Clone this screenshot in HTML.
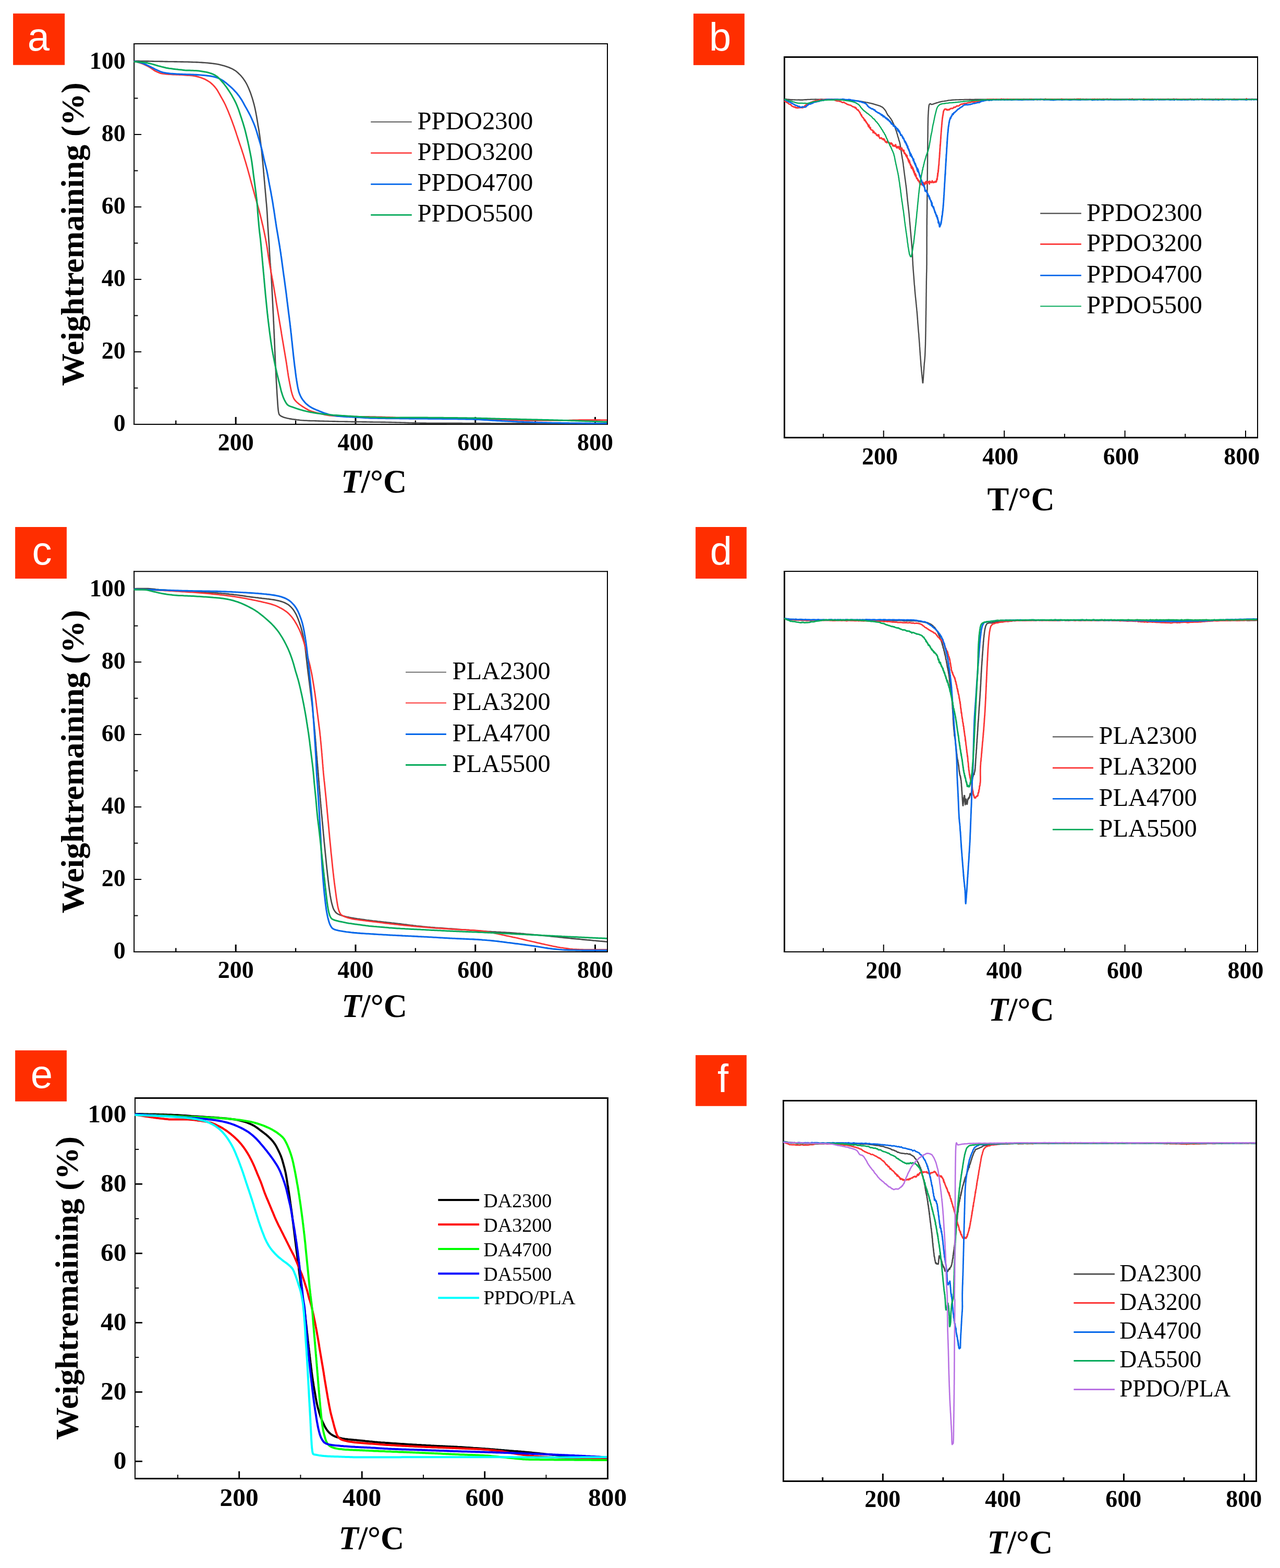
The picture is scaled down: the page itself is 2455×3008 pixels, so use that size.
<!DOCTYPE html>
<html lang="en"><head><meta charset="utf-8"><title>TGA and DTG curves</title>
<style>
html,body{margin:0;padding:0;background:#fff;}
body{width:2455px;height:3008px;overflow:hidden;}
svg{display:block;}
text{white-space:pre;}
</style></head><body>
<svg width="2455" height="3008" viewBox="0 0 2455 3008">
<rect width="2455" height="3008" fill="#fff"/>
<g id="panel-a">
<line x1="337.32" y1="813.90" x2="337.32" y2="806.60" stroke="#000" stroke-width="2.4"/>
<line x1="452.20" y1="813.90" x2="452.20" y2="799.90" stroke="#000" stroke-width="3"/>
<line x1="567.08" y1="813.90" x2="567.08" y2="806.60" stroke="#000" stroke-width="2.4"/>
<line x1="681.97" y1="813.90" x2="681.97" y2="799.90" stroke="#000" stroke-width="3"/>
<line x1="796.85" y1="813.90" x2="796.85" y2="806.60" stroke="#000" stroke-width="2.4"/>
<line x1="911.73" y1="813.90" x2="911.73" y2="799.90" stroke="#000" stroke-width="3"/>
<line x1="1026.62" y1="813.90" x2="1026.62" y2="806.60" stroke="#000" stroke-width="2.4"/>
<line x1="1141.50" y1="813.90" x2="1141.50" y2="799.90" stroke="#000" stroke-width="3"/>
<line x1="257.15" y1="744.41" x2="264.45" y2="744.41" stroke="#000" stroke-width="2"/>
<line x1="257.15" y1="674.92" x2="271.15" y2="674.92" stroke="#000" stroke-width="2"/>
<line x1="257.15" y1="605.43" x2="264.45" y2="605.43" stroke="#000" stroke-width="2"/>
<line x1="257.15" y1="535.94" x2="271.15" y2="535.94" stroke="#000" stroke-width="2"/>
<line x1="257.15" y1="466.45" x2="264.45" y2="466.45" stroke="#000" stroke-width="2"/>
<line x1="257.15" y1="396.96" x2="271.15" y2="396.96" stroke="#000" stroke-width="2"/>
<line x1="257.15" y1="327.47" x2="264.45" y2="327.47" stroke="#000" stroke-width="2"/>
<line x1="257.15" y1="257.98" x2="271.15" y2="257.98" stroke="#000" stroke-width="2"/>
<line x1="257.15" y1="188.49" x2="264.45" y2="188.49" stroke="#000" stroke-width="2"/>
<line x1="257.15" y1="119.00" x2="271.15" y2="119.00" stroke="#000" stroke-width="2"/>
<line x1="257.15" y1="83.10" x2="257.15" y2="814.90" stroke="#000" stroke-width="2"/>
<line x1="1165.00" y1="83.10" x2="1165.00" y2="814.90" stroke="#000" stroke-width="2"/>
<line x1="256.15" y1="84.10" x2="1166.00" y2="84.10" stroke="#000" stroke-width="2"/>
<line x1="256.15" y1="813.90" x2="1166.00" y2="813.90" stroke="#000" stroke-width="2"/>
<clipPath id="clip-a"><rect x="256.1" y="84.1" width="907.9" height="730.8"/></clipPath>
<g clip-path="url(#clip-a)">
<path d="M256.9 116.9l3 0.1l3 0.1l3 0l3 0.1l3.1 0l3 0.1l3 0l3 0.1l3 0l3 0.1l3 0l3 0.1l3 0.1l3 0l3 0.1l3 0l3.1 0.1l3 0l3 0.1l3 0.1l3 0l3 0.1l3 0l3 0.1l3 0l3 0.1l3 0l3.1 0.1l3 0l3 0.1l3 0l3 0.1l3 0.1l3 0l3 0.1l3 0.1l3 0.1l3 0.1l3 0.1l3 0.1l3.1 0.1l3 0.2l3 0.2l3 0.2l3 0.2l3 0.2l3 0.3l3 0.3l3 0.3l3 0.3l2.9 0.4l3 0.4l3 0.5l2.9 0.6l3 0.7l2.9 0.7l2.9 0.8l2.9 0.8l2.9 0.8l2.9 1l2.8 1.1l2.8 1.2l2.8 1.2l2.6 1.4l2.5 1.5l2.5 1.7l2.4 1.9l2.2 2.1l2.2 2.1l2.1 2.1l2 2.3l1.9 2.3l1.8 2.5l1.7 2.4l1.7 2.6l1.5 2.5l1.4 2.7l1.3 2.7l1.3 2.8l1.2 2.7l1.1 2.8l1.1 2.8l1.1 2.8l1 2.9l0.9 2.8l1 2.9l0.9 2.9l0.8 2.8l0.8 2.9l0.8 2.9l0.8 3l0.7 2.9l0.7 2.9l0.6 3l0.6 2.9l0.6 3l0.5 2.9l0.6 3l0.5 2.9l0.5 3l0.5 3l0.5 2.9l0.5 3l0.4 3l0.5 3l0.6 2.9l0.5 3l0.5 3l0.4 2.9l0.5 3l0.4 3l0.4 3l0.4 2.9l0.4 3l0.4 3l0.4 3l0.3 3l0.4 3l0.3 3l0.4 2.9l0.3 3l0.3 3l0.3 3l0.3 3l0.3 3l0.3 3l0.3 3l0.3 3l0.3 3l0.3 3l0.2 3l0.3 3l0.3 3l0.2 3l0.3 3l0.2 3l0.3 3l0.3 3l0.2 3l0.3 3l0.3 3l0.2 3l0.3 3l0.2 3l0.3 2.9l0.3 3l0.2 3l0.3 3l0.3 3l0.2 3l0.3 3l0.2 3l0.3 3l0.3 3l0.3 3l0.2 3l0.3 3l0.2 3l0.2 3l0.2 3l0.2 3l0.2 3l0.1 3l0.2 3l0.1 3l0.2 3l0.2 3.1l0.1 3l0.2 3l0.2 3l0.2 3l0.2 3l0.2 3l0.2 3l0.2 3l0.2 3l0.2 3l0.2 3l0.2 3l0.2 3l0.2 3l0.2 3l0.1 3l0.2 3l0.2 3l0.1 3l0.2 3l0.2 3l0.2 3l0.2 3l0.2 3l0.2 3l0.3 3l0.2 3l0.3 3l0.2 3l0.3 3l0.2 3l0.3 3l0.2 3l0.2 3l0.1 3l0.2 3l0.2 3l0.1 3l0.2 3l0.2 3l0.1 3.1l0.2 3l0.1 3l0.2 3l0.1 3l0.2 3l0.1 3l0.2 3l0.1 3l0.2 3l0.1 3l0.2 3l0.1 3l0.2 3l0.1 3l0.2 3l0.1 3l0.2 3l0.1 3l0.2 3l0.1 3.1l0.1 3l0.2 3l0.1 3l0.2 3l0.1 3l0.1 3l0.2 3l0.1 3l0.1 3l0.2 3l0.1 3l0.1 3l0.2 3l0.1 3l0.1 3l0.1 3.1l0.2 3l0.1 3l0.1 3l0.1 3l0.2 3l0.1 3l0.1 3l0.2 3l0.1 3l0.1 3l0.1 3l0.2 3l0.1 3l0.2 3l0.1 3l0.2 3l0.1 3.1l0.2 3l0.1 3l0.2 3l0.1 3l0.2 3l0.2 3l0.1 3l0.2 3l0.2 3l0.2 3l0.1 3l0.2 3l0.2 3l0.1 3l0.2 3l0.2 3l0.2 3l0.2 3l0.2 3l0.2 3l0.2 3l0.2 3.1l0.2 3l0.3 3l0.3 2.9l0.4 3.1l0.6 3.1l0.9 2.8l1.8 2l2.8 1.7l2.7 1.2l2.8 1l3 0.8l2.9 0.7l3 0.6l2.9 0.5l3 0.5l3 0.4l3 0.4l3 0.4l2.9 0.3l3 0.4l3 0.3l3 0.2l3 0.2l3 0.1l3 0.2l3 0.1l3.1 0.1l3 0.1l3 0l3 0.1l3 0.1l3 0.1l3 0.1l3 0.1l3 0.1l3 0.1l3 0l3 0.1l3.1 0.1l3 0.1l3 0.1l3 0l3 0.1l3 0.1l3 0.1l3 0l3 0.1l3 0l3 0.1l3 0l3.1 0.1l3 0l3 0.1l3 0l3 0.1l3 0l3 0l3 0.1l3 0l3 0.1l3 0l3 0l3.1 0.1l3 0l3 0.1l3 0l3 0.1l3 0l3 0l3 0.1l3 0l3 0.1l3 0l3.1 0l3 0.1l3 0l3 0.1l3 0l3 0.1l3 0.1l3 0.1l3 0.1l3 0l3 0.1l3 0.1l3 0.1l3.1 0.1l3 0.1l3 0.1l3 0.1l3 0.1l3 0.1l3 0l3 0.1l3 0l3 0l3 0.1l3 0l3.1 0l3 0l3 0.1l3 0l3 0l3 0l3 0l3 0l3 0.1l3 0l3 0l3 0l3.1 0l3 0l3 0l3 0.1l3 0l3 0l3 0l3 0l3 0l3 0l3 0l3.1 0l3 0l3 0.1l3 0l3 0l3 0l3 0l3 0l3 0l3 0l3 0l3.1 0.1l3 0l3 0l3 0l3 0l3 0l3 0l3 0l3 0l3 0.1l3 0l3.1 0l3 0l3 0l3 0l3 0l3 0l3 0l3 0l3 0l3 0l3 0.1l3.1 0l3 0l3 0l3 0l3 0l3 0l3 0l3 0l3 0l3 0l3 0l3.1 0l3 0l3 0l3 0l3 0l3 0.1l3 0l3 0l3 0l3 0l3 0l3.1 0l3 0l3 0l3 0l3 0l3 0l3 0l3 0l3 0l3 0l3 0l3 0l3.1 0l3 0l3 0l3 0l3 0.1l3 0l3 0l3 0l3 0l3 0l3 0l3.1 0l3 0l3 0l3 0l3 0l3 0l3 0l3 0l3 0l3 0l3 0l3.1 0l3 0l3 0l3 0l3 0l3 0" fill="none" stroke="#484848" stroke-width="2.6" stroke-linejoin="round" />
<path d="M256.9 117.5l3 0.7l2.9 0.8l2.9 0.8l2.8 0.9l2.9 1l2.8 1.1l2.8 1.1l2.7 1.3l2.7 1.3l2.7 1.4l2.6 1.6l2.5 1.7l2.5 1.7l2.5 1.8l2.5 1.5l2.7 1.3l2.8 1.3l2.8 1.1l2.9 0.9l2.9 0.5l3 0.4l3 0.3l3 0.3l3 0.2l3 0.2l3 0.2l3 0.1l3 0.2l3.1 0.1l3 0.1l3 0.2l3 0.1l3 0.2l3 0.2l3 0.2l3 0.2l3.1 0.2l3 0.2l2.9 0.3l3 0.4l3 0.5l2.9 0.7l3 0.8l2.9 0.9l2.8 0.9l2.8 1.1l2.8 1.1l2.7 1.4l2.7 1.5l2.6 1.6l2.4 1.6l2.4 1.9l2.2 2l2.2 2.1l2.1 2.3l1.9 2.3l1.8 2.3l1.7 2.5l1.5 2.6l1.5 2.7l1.5 2.6l1.5 2.7l1.4 2.6l1.5 2.6l1.5 2.6l1.5 2.7l1.4 2.6l1.3 2.7l1.3 2.7l1.2 2.8l1.2 2.7l1.2 2.8l1.2 2.8l1.1 2.8l1.1 2.8l1.2 2.8l1.1 2.8l1 2.8l1.1 2.8l1.1 2.9l1 2.8l1 2.8l1.1 2.9l1 2.8l0.9 2.8l1 2.9l1 2.8l0.9 2.9l0.9 2.9l1 2.8l0.9 2.9l1 2.9l0.9 2.8l1 2.9l0.9 2.8l1 2.9l1 2.8l0.9 2.9l1 2.8l0.9 2.9l0.9 2.9l1 2.8l0.9 2.9l0.8 2.9l0.9 2.9l0.9 2.9l0.9 2.8l0.8 2.9l0.9 2.9l0.8 2.9l0.9 2.9l0.8 2.9l0.8 2.9l0.8 2.9l0.8 2.9l0.8 2.9l0.8 2.9l0.8 2.9l0.7 3l0.8 2.9l0.8 2.9l0.8 2.9l0.8 2.9l0.8 2.9l0.8 2.9l0.8 2.9l0.8 2.9l0.8 2.9l0.8 2.9l0.8 2.9l0.8 2.9l0.9 2.9l0.8 2.9l0.8 2.9l0.9 2.9l0.8 2.9l0.8 2.9l0.8 2.9l0.8 2.9l0.8 2.9l0.7 2.9l0.8 2.9l0.7 3l0.7 2.9l0.7 2.9l0.7 2.9l0.7 3l0.7 2.9l0.7 2.9l0.7 3l0.6 2.9l0.7 3l0.6 2.9l0.6 3l0.6 2.9l0.6 3l0.6 2.9l0.6 3l0.5 2.9l0.6 3l0.5 3l0.5 2.9l0.5 3l0.5 3l0.4 3l0.4 2.9l0.5 3l0.4 3l0.4 3l0.5 3l0.5 2.9l0.5 3l0.4 3l0.5 3l0.5 2.9l0.5 3l0.6 3l0.5 2.9l0.5 3l0.5 3l0.6 2.9l0.6 3l0.5 2.9l0.6 3l0.6 3l0.5 2.9l0.5 3l0.5 3l0.5 2.9l0.5 3l0.5 3l0.5 2.9l0.5 3l0.5 3l0.5 3l0.5 2.9l0.5 3l0.4 3l0.5 3l0.5 2.9l0.5 3l0.5 3l0.5 2.9l0.5 3l0.5 3l0.5 3l0.5 2.9l0.5 3l0.5 3l0.5 2.9l0.5 3l0.5 3l0.5 3l0.5 2.9l0.5 3l0.5 3l0.5 2.9l0.5 3l0.4 3l0.5 3l0.5 2.9l0.5 3l0.5 3l0.5 2.9l0.5 3l0.5 3l0.5 3l0.5 2.9l0.5 3l0.5 3l0.5 2.9l0.5 3l0.5 3l0.5 2.9l0.5 3l0.5 3l0.5 3l0.5 2.9l0.4 3l0.5 3l0.4 3l0.4 3l0.5 2.9l0.4 3l0.5 3l0.4 3l0.5 2.9l0.6 3l0.5 3l0.6 2.9l0.5 3l0.6 2.9l0.6 3l0.6 3l0.6 2.9l0.6 3l0.8 2.9l0.8 2.9l0.9 2.9l1.1 2.9l1.2 2.7l1.5 2.5l1.9 2.3l2.2 2.2l2.2 2l2.3 1.9l2.5 1.8l2.5 1.8l2.5 1.6l2.5 1.6l2.6 1.6l2.7 1.5l2.6 1.4l2.8 1.3l2.7 1l2.9 1l2.9 0.9l2.9 0.8l2.9 0.7l3 0.7l2.9 0.7l2.9 0.7l3 0.7l2.9 0.7l3 0.6l2.9 0.5l3 0.4l3 0.3l3 0.3l3 0.2l3 0.3l3 0.2l3 0.1l3 0.1l3.1 0.1l3 0.1l3 0.1l3 0l3 0.1l3 0l3 0.1l3 0l3.1 0.1l3 0l3 0.1l3 0l3 0.1l3 0l3 0l3 0.1l3.1 0l3 0l3 0.1l3 0l3 0.1l3 0l3 0.1l3 0l3 0.1l3.1 0.1l3 0.1l3 0.1l3 0.1l3 0.1l3 0.1l3 0.1l3 0.1l3 0.1l3.1 0.2l3 0.1l3 0.1l3 0.1l3 0.1l3 0.2l3 0.1l3 0.1l3 0l3 0.1l3.1 0.1l3 0l3 0l3 0.1l3 0l3 0.1l3 0l3 0l3.1 0.1l3 0l3 0l3 0l3 0.1l3 0l3 0l3 0l3.1 0.1l3 0l3 0l3 0l3 0l3 0.1l3 0l3 0l3.1 0l3 0l3 0.1l3 0l3 0l3 0l3 0.1l3 0l3.1 0l3 0.1l3 0l3 0.1l3 0l3 0l3 0.1l3 0l3.1 0.1l3 0.1l3 0.1l3 0l3 0.1l3 0.1l3 0.1l3 0.1l3 0.1l3.1 0.1l3 0.1l3 0.1l3 0.1l3 0.1l3 0.1l3 0.1l3 0.1l3 0.1l3 0.1l3.1 0.1l3 0.1l3 0.2l3 0.1l3 0.1l3 0.1l3 0.1l3 0.2l3 0.1l3.1 0.1l3 0.1l3 0.1l3 0l3 0.1l3 0.1l3 0l3 0l3 0l3.1 0l3 0l3 0l3 0l3 0l3 0l3 0l3 0l3.1 0l3 0l3 0l3 0l3 0l3 0l3 0l3 0l3.1 0l3 0l3 0l3 0l3 0l3-0.1l3-0.1l3 0l3.1-0.1l3-0.1l3-0.1l3-0.1l3-0.1l3 0l3-0.1l3 0l3.1 0l3 0l3 0l3 0l3 0l3 0l3 0l3 0l3 0l3.1 0l3 0l3 0l3 0.1l3 0l3 0l3 0.1l3 0" fill="none" stroke="#FC3535" stroke-width="2.8" stroke-linejoin="round" />
<path d="M256.9 117.5l3 0.5l3 0.6l2.9 0.7l3 0.7l2.8 0.8l2.9 0.9l2.8 1.1l2.7 1.2l2.8 1.3l2.7 1.4l2.7 1.3l2.7 1.3l2.7 1.4l2.7 1.4l2.6 1.4l2.8 1.2l2.7 1.2l2.8 1.2l2.9 1.1l2.8 0.8l3 0.6l2.9 0.5l3 0.4l3 0.4l3 0.3l3 0.2l3 0.2l3.1 0.2l3 0.2l3 0.1l3 0.2l3 0.1l3 0.1l3 0.1l3 0.1l3 0.1l3.1 0.1l3 0.1l3 0.1l3 0.2l3 0.1l3 0.2l3 0.2l3 0.2l3 0.2l3 0.3l3 0.3l3 0.3l3 0.4l3 0.4l3 0.5l3 0.6l2.9 0.7l2.9 0.8l2.8 1l2.8 1.2l2.7 1.4l2.6 1.4l2.5 1.6l2.5 1.8l2.4 1.8l2.3 2l2.3 1.9l2.3 2l2.3 2l2.2 2l2.2 2.1l2.1 2.2l2 2.2l2.1 2.2l1.9 2.3l1.9 2.4l1.9 2.3l1.7 2.5l1.7 2.5l1.6 2.5l1.5 2.6l1.5 2.7l1.4 2.6l1.5 2.7l1.4 2.6l1.5 2.6l1.5 2.7l1.5 2.6l1.4 2.6l1.4 2.7l1.4 2.7l1.3 2.7l1.3 2.7l1.2 2.8l1.2 2.7l1.2 2.8l1.2 2.8l1.1 2.8l1 2.8l1 2.8l1 2.9l0.9 2.9l0.9 2.9l0.8 2.8l0.9 2.9l0.8 2.9l0.9 2.9l0.9 2.9l0.8 2.9l0.9 2.9l0.8 2.9l0.8 2.9l0.8 2.9l0.8 2.9l0.7 2.9l0.7 3l0.6 2.9l0.7 2.9l0.6 3l0.6 2.9l0.7 3l0.7 2.9l0.7 2.9l0.7 3l0.8 2.9l0.7 2.9l0.7 2.9l0.7 3l0.6 2.9l0.6 3l0.6 2.9l0.5 3l0.6 3l0.5 2.9l0.5 3l0.6 2.9l0.5 3l0.6 3l0.6 2.9l0.5 3l0.6 2.9l0.6 3l0.5 3l0.5 2.9l0.6 3l0.5 3l0.5 2.9l0.5 3l0.5 3l0.5 3l0.4 2.9l0.5 3l0.5 3l0.5 3l0.4 2.9l0.5 3l0.4 3l0.4 3l0.5 3l0.4 2.9l0.5 3l0.4 3l0.5 3l0.4 3l0.5 2.9l0.5 3l0.5 3l0.5 2.9l0.5 3l0.5 3l0.5 3l0.5 2.9l0.5 3l0.5 3l0.5 2.9l0.5 3l0.5 3l0.4 3l0.5 2.9l0.4 3l0.5 3l0.4 3l0.4 3l0.5 3l0.4 2.9l0.4 3l0.4 3l0.4 3l0.4 3l0.4 3l0.4 2.9l0.4 3l0.4 3l0.4 3l0.4 3l0.4 3l0.5 3l0.4 2.9l0.4 3l0.4 3l0.4 3l0.4 3l0.4 3l0.4 3l0.4 2.9l0.4 3l0.4 3l0.4 3l0.3 3l0.4 3l0.4 3l0.3 3l0.4 3l0.4 2.9l0.3 3l0.4 3l0.4 3l0.4 3l0.3 3l0.4 3l0.4 3l0.4 3l0.4 2.9l0.3 3l0.4 3l0.4 3l0.3 3l0.4 3l0.3 3l0.4 3l0.3 3l0.3 3l0.4 3l0.3 3l0.3 3l0.3 3l0.3 3l0.4 3l0.3 2.9l0.3 3l0.3 3l0.3 3l0.4 3l0.3 3l0.3 3l0.3 3l0.3 3l0.4 3l0.3 3l0.4 3l0.3 3l0.4 3l0.3 3l0.4 3l0.4 2.9l0.4 3l0.4 3l0.3 3l0.4 3l0.4 3l0.4 3l0.5 3l0.4 2.9l0.5 3l0.5 3l0.5 3l0.5 2.9l0.6 3l0.7 2.9l0.7 2.9l0.9 2.9l1.1 2.9l1.2 2.7l1.3 2.7l1.5 2.6l1.7 2.5l1.9 2.4l1.9 2.3l2.1 2.2l2.3 2l2.3 1.9l2.4 1.8l2.6 1.6l2.6 1.5l2.7 1.4l2.7 1.2l2.8 1.2l2.8 1.1l2.8 1.2l2.8 1.1l2.8 1.1l2.8 1.1l2.9 0.9l2.8 0.9l2.9 0.9l2.9 0.8l3 0.7l2.9 0.6l3 0.5l3 0.4l2.9 0.4l3 0.3l3 0.3l3.1 0.3l3 0.2l3 0.2l3 0.2l3 0.1l3 0.2l3 0.1l3 0.1l3 0.2l3 0.1l3 0.2l3 0.2l3.1 0.2l3 0.3l3 0.2l3 0.2l3 0.1l3 0.2l3 0.1l3 0l3 0.1l3 0.1l3 0l3.1 0.1l3 0l3 0l3 0.1l3 0l3 0.1l3 0l3 0l3.1 0.1l3 0l3 0l3 0.1l3 0l3 0l3 0.1l3 0l3.1 0l3 0.1l3 0l3 0l3 0.1l3 0l3 0l3.1 0l3 0.1l3 0l3 0l3 0.1l3 0l3 0l3 0l3.1 0l3 0.1l3 0l3 0l3 0l3 0.1l3 0l3 0l3.1 0l3 0l3 0.1l3 0l3 0l3 0l3 0.1l3.1 0l3 0l3 0.1l3 0l3 0l3 0.1l3 0l3 0.1l3 0l3.1 0l3 0.1l3 0l3 0.1l3 0l3 0.1l3 0.1l3 0.2l3 0.1l3 0.1l3.1 0.2l3 0.2l3 0.2l3 0.2l3 0.2l3 0.2l3 0.2l3 0.2l3 0.2l3 0.2l3 0.1l3 0.2l3.1 0.2l3 0.1l3 0.2l3 0.1l3 0.2l3 0.1l3 0.2l3 0.1l3 0.2l3 0.1l3 0.2l3.1 0.1l3 0.2l3 0.1l3 0.1l3 0.1l3 0.2l3 0.1l3 0.1l3 0.1l3 0.1l3.1 0.1l3 0.1l3 0.1l3 0.1l3 0.1l3 0.1l3 0l3 0.1l3 0.1l3.1 0.1l3 0.1l3 0l3 0.1l3 0.1l3 0l3 0.1l3 0l3.1 0.1l3 0l3 0.1l3 0l3 0.1l3 0l3 0l3 0.1l3.1 0l3 0.1l3 0l3 0l3 0.1l3 0l3 0l3 0.1l3.1 0l3 0l3 0.1l3 0l3 0l3 0.1l3 0l3 0l3.1 0l3 0l3 0l3 0.1l3 0l3 0l3 0l3 0" fill="none" stroke="#0668EA" stroke-width="3.1" stroke-linejoin="round" />
<path d="M256.9 118.4l3 0.1l3 0.2l3 0.2l3 0.2l3 0.3l3 0.3l3 0.4l3 0.5l2.9 0.5l3 0.6l2.9 0.7l2.9 0.7l2.9 0.9l2.9 0.9l2.9 0.9l2.9 0.8l2.9 0.7l2.9 0.8l2.9 0.7l3 0.7l2.9 0.7l3 0.5l2.9 0.5l3 0.4l3 0.4l3 0.4l3 0.4l2.9 0.3l3 0.4l3 0.3l3 0.3l3 0.3l3 0.3l3 0.2l3 0.1l3 0.1l3 0.1l3.1 0.1l3 0.1l3 0.2l3 0.2l3 0.3l3 0.4l2.9 0.4l3 0.5l3 0.5l2.9 0.6l3 0.7l2.9 0.9l2.8 0.9l2.8 1.1l2.7 1.3l2.7 1.5l2.5 1.6l2.3 1.9l2.1 2.1l2.1 2.2l2 2.3l2 2.3l2 2.2l1.9 2.4l1.8 2.4l1.8 2.4l1.7 2.5l1.7 2.4l1.7 2.5l1.7 2.6l1.6 2.5l1.6 2.6l1.5 2.6l1.4 2.6l1.5 2.6l1.4 2.7l1.4 2.7l1.3 2.7l1.2 2.7l1.2 2.8l1.1 2.8l1.1 2.8l1 2.8l1 2.9l0.9 2.8l1 2.9l0.9 2.9l1 2.8l0.9 2.9l0.9 2.8l1 2.9l0.9 2.9l0.8 2.9l0.9 2.9l0.8 2.8l0.8 2.9l0.8 3l0.7 2.9l0.7 2.9l0.7 2.9l0.7 2.9l0.7 3l0.7 2.9l0.7 2.9l0.6 3l0.7 2.9l0.6 3l0.6 2.9l0.6 3l0.6 2.9l0.6 3l0.6 2.9l0.5 3l0.6 2.9l0.5 3l0.5 3l0.5 2.9l0.4 3l0.4 3l0.4 3l0.4 3l0.4 2.9l0.4 3l0.3 3l0.4 3l0.4 3l0.4 3l0.4 2.9l0.4 3l0.4 3l0.4 3l0.4 3l0.4 3l0.4 2.9l0.4 3l0.4 3l0.4 3l0.4 3l0.3 3l0.4 3l0.3 2.9l0.4 3l0.2 3l0.3 3l0.2 3l0.3 3l0.2 3l0.2 3l0.2 3l0.2 3l0.3 3l0.2 3l0.3 3l0.2 3l0.3 3l0.3 3l0.2 3l0.3 3l0.3 3l0.3 3l0.3 3l0.3 3l0.4 3l0.4 3l0.3 3l0.4 2.9l0.3 3l0.3 3l0.3 3l0.3 3l0.3 3l0.3 3l0.2 3l0.3 3l0.3 3l0.3 3l0.2 3l0.3 3l0.3 3l0.2 3l0.3 3l0.3 3l0.2 3l0.3 3l0.3 3l0.3 3l0.2 3l0.3 3l0.3 3l0.3 3l0.2 3l0.3 2.9l0.3 3l0.2 3l0.3 3l0.3 3l0.2 3l0.3 3l0.3 3l0.3 3l0.2 3l0.3 3l0.3 3l0.3 3l0.3 3l0.3 3l0.3 3l0.3 3l0.3 3l0.3 3l0.3 3l0.3 3l0.3 3l0.3 2.9l0.4 3l0.3 3l0.3 3l0.4 3l0.3 3l0.4 3l0.4 3l0.3 3l0.4 2.9l0.4 3l0.3 3l0.4 3l0.4 3l0.4 3l0.4 3l0.4 2.9l0.4 3l0.4 3l0.5 3l0.4 3l0.5 2.9l0.4 3l0.5 3l0.5 2.9l0.6 3l0.5 3l0.6 2.9l0.5 3l0.6 2.9l0.6 3l0.5 2.9l0.6 3l0.6 2.9l0.6 3l0.7 2.9l0.6 3l0.7 2.9l0.6 2.9l0.7 3l0.7 2.9l0.7 2.9l0.7 2.9l0.7 3l0.7 2.9l0.8 2.9l0.7 2.9l0.7 3l0.7 2.9l0.7 2.9l0.7 3l0.8 2.9l0.9 2.8l0.9 2.9l1 2.9l1.1 2.8l1.2 2.8l1.3 2.6l1.5 2.7l1.7 2.7l1.9 2.3l2.2 1.6l2.7 1.2l2.9 1.1l3 0.9l2.9 1l2.8 1l2.9 1l2.8 0.9l2.9 0.9l2.9 0.8l2.9 0.8l2.9 0.7l2.9 0.7l3 0.6l2.9 0.7l3 0.5l3 0.6l2.9 0.5l3 0.5l3 0.4l2.9 0.4l3 0.5l3 0.3l3 0.4l3 0.3l3 0.3l3 0.3l3 0.3l3 0.2l3 0.3l3 0.2l3 0.2l3 0.2l3 0.2l3 0.2l3 0.2l3 0.2l3 0.2l3 0.2l3 0.2l3 0.1l3 0.2l3 0.2l3 0.2l3 0.1l3 0.2l3 0.2l3 0.1l3.1 0.2l3 0.1l3 0.2l3 0.1l3 0.2l3 0.1l3 0.1l3 0l3 0.1l3 0.1l3 0.1l3 0.1l3 0.1l3 0l3.1 0.1l3 0.1l3 0l3 0l3 0l3 0l3 0l3 0l3 0l3 0l3-0.1l3.1 0l3 0l3 0l3 0l3 0l3-0.1l3 0l3 0.1l3 0l3 0l3 0l3.1 0l3 0l3 0l3 0l3 0l3 0l3 0.1l3 0l3 0l3 0l3 0l3.1 0.1l3 0l3 0l3 0l3 0l3 0.1l3 0l3 0l3 0.1l3 0l3.1 0l3 0.1l3 0l3 0l3 0.1l3 0l3 0l3 0.1l3 0l3 0l3 0.1l3 0l3.1 0l3 0.1l3 0l3 0.1l3 0.1l3 0l3 0.1l3 0.1l3 0.1l3 0l3 0.1l3 0.1l3.1 0.1l3 0.1l3 0.1l3 0.1l3 0.1l3 0l3 0.1l3 0.1l3 0.1l3 0l3 0.1l3 0.1l3.1 0.1l3 0l3 0.1l3 0.1l3 0.1l3 0l3 0.1l3 0.1l3 0.1l3 0l3 0.1l3 0.1l3.1 0.1l3 0l3 0.1l3 0.1l3 0.1l3 0l3 0.1l3 0.1l3 0.1l3 0l3 0.1l3 0.1l3.1 0l3 0.1l3 0.1l3 0.1l3 0l3 0.1l3 0.1l3 0.1l3 0.1l3 0l3 0.1l3 0.1l3.1 0.1l3 0.1l3 0.1l3 0.1l3 0.1l3 0.1l3 0.1l3 0.1l3 0.1l3 0.1l3 0.1l3 0.2l3 0.1l3 0.1l3.1 0.1l3 0.1l3 0.1l3 0.1l3 0.1l3 0.1l3 0.1l3 0.1l3 0.1l3 0.1l3 0.2l3 0.1l3 0.1l3 0.1" fill="none" stroke="#06AA5A" stroke-width="3.0" stroke-linejoin="round" />
</g>
<text x="452.20" y="864.20" font-family="'Liberation Serif', serif" font-size="46" font-weight="bold" font-style="normal" text-anchor="middle" fill="#000" >200</text>
<text x="681.97" y="864.20" font-family="'Liberation Serif', serif" font-size="46" font-weight="bold" font-style="normal" text-anchor="middle" fill="#000" >400</text>
<text x="911.73" y="864.20" font-family="'Liberation Serif', serif" font-size="46" font-weight="bold" font-style="normal" text-anchor="middle" fill="#000" >600</text>
<text x="1141.50" y="864.20" font-family="'Liberation Serif', serif" font-size="46" font-weight="bold" font-style="normal" text-anchor="middle" fill="#000" >800</text>
<text x="240.80" y="826.80" font-family="'Liberation Serif', serif" font-size="46" font-weight="bold" font-style="normal" text-anchor="end" fill="#000" >0</text>
<text x="240.80" y="687.82" font-family="'Liberation Serif', serif" font-size="46" font-weight="bold" font-style="normal" text-anchor="end" fill="#000" >20</text>
<text x="240.80" y="548.84" font-family="'Liberation Serif', serif" font-size="46" font-weight="bold" font-style="normal" text-anchor="end" fill="#000" >40</text>
<text x="240.80" y="409.86" font-family="'Liberation Serif', serif" font-size="46" font-weight="bold" font-style="normal" text-anchor="end" fill="#000" >60</text>
<text x="240.80" y="270.88" font-family="'Liberation Serif', serif" font-size="46" font-weight="bold" font-style="normal" text-anchor="end" fill="#000" >80</text>
<text x="240.80" y="131.90" font-family="'Liberation Serif', serif" font-size="46" font-weight="bold" font-style="normal" text-anchor="end" fill="#000" >100</text>
<text x="717.20" y="945.30" font-family="'Liberation Serif', serif" font-size="62.5" font-weight="bold" text-anchor="middle"><tspan font-style="italic">T</tspan>/°C</text>
<text transform="translate(160.10,449.30) rotate(-90)" font-family="'Liberation Serif', serif" font-size="62.3" font-weight="bold" text-anchor="middle">Weightremaining (%)</text>
<line x1="711.20" y1="233.90" x2="789.80" y2="233.90" stroke="#484848" stroke-width="1.6"/>
<text x="800.50" y="248.00" font-family="'Liberation Serif', serif" font-size="48.7" font-weight="normal" font-style="normal" text-anchor="start" fill="#000" >PPDO2300</text>
<line x1="711.20" y1="293.40" x2="789.80" y2="293.40" stroke="#FC3535" stroke-width="2.5"/>
<text x="800.50" y="307.20" font-family="'Liberation Serif', serif" font-size="48.7" font-weight="normal" font-style="normal" text-anchor="start" fill="#000" >PPDO3200</text>
<line x1="711.20" y1="353.30" x2="789.80" y2="353.30" stroke="#0668EA" stroke-width="2.7"/>
<text x="800.50" y="366.20" font-family="'Liberation Serif', serif" font-size="48.7" font-weight="normal" font-style="normal" text-anchor="start" fill="#000" >PPDO4700</text>
<line x1="711.20" y1="412.30" x2="789.80" y2="412.30" stroke="#06AA5A" stroke-width="2.7"/>
<text x="800.50" y="424.90" font-family="'Liberation Serif', serif" font-size="48.7" font-weight="normal" font-style="normal" text-anchor="start" fill="#000" >PPDO5500</text>
<rect x="25.1" y="25.9" width="99.0" height="98.8" fill="#ff2e00"/>
<text x="73.90" y="97.00" font-family="'Liberation Sans', sans-serif" font-size="76" font-weight="normal" font-style="normal" text-anchor="middle" fill="#fff" >a</text>
</g>
<g id="panel-b">
<line x1="1578.98" y1="839.50" x2="1578.98" y2="832.20" stroke="#000" stroke-width="2"/>
<line x1="1694.70" y1="839.50" x2="1694.70" y2="825.90" stroke="#000" stroke-width="2"/>
<line x1="1810.42" y1="839.50" x2="1810.42" y2="832.20" stroke="#000" stroke-width="2"/>
<line x1="1926.13" y1="839.50" x2="1926.13" y2="825.90" stroke="#000" stroke-width="2"/>
<line x1="2041.85" y1="839.50" x2="2041.85" y2="832.20" stroke="#000" stroke-width="2"/>
<line x1="2157.57" y1="839.50" x2="2157.57" y2="825.90" stroke="#000" stroke-width="2"/>
<line x1="2273.28" y1="839.50" x2="2273.28" y2="832.20" stroke="#000" stroke-width="2"/>
<line x1="2389.00" y1="839.50" x2="2389.00" y2="825.90" stroke="#000" stroke-width="2"/>
<line x1="1504.50" y1="108.00" x2="1504.50" y2="841.00" stroke="#000" stroke-width="3"/>
<line x1="2412.00" y1="108.00" x2="2412.00" y2="841.00" stroke="#000" stroke-width="2"/>
<line x1="1503.00" y1="109.50" x2="2413.00" y2="109.50" stroke="#000" stroke-width="3"/>
<line x1="1503.00" y1="839.50" x2="2413.00" y2="839.50" stroke="#000" stroke-width="3"/>
<clipPath id="clip-b"><rect x="1503.0" y="109.5" width="908.0" height="731.5"/></clipPath>
<g clip-path="url(#clip-b)">
<path d="M1504.4 189.4l2.5 0.6l2.4 0.4l2.5 0.3l2.5 0.3l2.5 0.3l2.5 0l2.5 0.1l2.4 0.1l2.6 0.1l2.5 0l2.5-0.1l2.5 0.2l2.5-0.1l2.5 0.1l2.5-0.3l2.4-0.1l2.5-0.1l2.5-0.3l2.5 0l2.5-0.1l2.5-0.2l2.5 0l2.5 0l2.5-0.1l2.5 0.1l2.5 0.1l2.5-0.1l2.5-0.1l2.5 0l2.5 0.2l2.5-0.1l2.5 0l2.5 0l2.5 0l2.5 0l2.5 0.1l2.5 0.1l2.5-0.2l2.5 0.2l2.5-0.1l2.5 0.1l2.5 0.1l2.5 0l2.5 0.2l2.5 0l2.5 0.1l2.5 0.3l2.5 0.2l2.5 0.4l2.5-0.1l2.5 0.3l2.5 0.2l2.5 0.2l2.5 0.2l2.4 0.3l2.5 0.4l2.5 0.2l2.5 0.4l2.5 0.4l2.4 0.4l2.5 0.5l2.5 0.4l2.4 0.5l2.5 0.2l2.4 0.8l2.5 0.4l2.4 0.6l2.4 0.6l2.4 0.6l2.4 0.9l2.4 0.6l2.5 0.7l2.4 0.9l2.4 0.7l2.2 1.3l2.1 0.9l1.9 1.8l1.7 1.8l1.6 2.1l1.3 1.8l1.2 2.6l1.1 2.1l1.2 2.3l1.4 1.8l1.7 1.7l1.6 2.3l1.5 1.9l1.3 2.3l1.2 1.7l1.1 2.9l1.1 2l1 2.1l1 2.6l0.9 2.2l0.9 2.3l0.8 2.4l0.9 2.4l0.7 2l0.8 2.9l0.7 2l0.7 3l0.7 2.3l0.7 1.8l0.7 2.9l0.7 2.6l0.7 1.6l0.6 2.4l0.6 3l0.5 2.5l0.4 2.6l0.4 2.1l0.3 3l0.3 1.5l0.4 2.6l0.3 2.8l0.4 2.4l0.4 2l0.5 3.3l0.4 2.5l0.4 1.5l0.4 3.1l0.4 2.4l0.4 2.5l0.3 3.2l0.3 2.3l0.3 2.1l0.3 2.6l0.3 2.1l0.3 2.5l0.3 2.8l0.3 1.8l0.3 2.9l0.4 2.3l0.3 2.7l0.3 2.2l0.4 2.8l0.3 2.3l0.4 3l0.3 2.4l0.3 1.9l0.3 2.7l0.3 2.6l0.3 2.4l0.3 3.4l0.2 1.3l0.2 3l0.3 2l0.2 2.7l0.3 2.3l0.2 3.2l0.3 2.3l0.2 2.2l0.3 2.1l0.3 3.1l0.3 2.4l0.3 2.7l0.2 2.2l0.3 2.6l0.3 2.4l0.3 2.5l0.2 2.1l0.3 2.8l0.2 2.2l0.2 3.4l0.3 2l0.2 2.2l0.2 3.2l0.2 2l0.2 2l0.2 2.6l0.3 2.9l0.2 2.4l0.2 2.4l0.2 3.3l0.2 1.9l0.3 2.8l0.2 2l0.2 2.6l0.2 2.7l0.2 2.4l0.2 2.1l0.3 2.9l0.2 2.7l0.2 2.1l0.2 2.3l0.2 3.1l0.2 2l0.2 2.3l0.2 2.7l0.1 2.4l0.2 2.8l0.1 2.6l0.2 2l0.1 2.8l0.1 2l0.1 2.8l0.1 2.7l0.1 2.3l0.2 2.3l0.1 3.3l0.1 2l0.2 2.8l0.2 2.2l0.1 2.5l0.2 2.3l0.2 2.3l0.2 3l0.2 2.3l0.2 2.8l0.2 1.9l0.2 3.2l0.2 2.8l0.2 2.5l0.1 1.7l0.2 2.5l0.2 2.8l0.3 2.5l0.2 2l0.2 2.7l0.2 3.3l0.2 2.2l0.2 2l0.2 2.7l0.3 2.5l0.2 2.4l0.2 2.1l0.3 2.4l0.2 3l0.3 1.8l0.3 3.3l0.2 2.3l0.3 2.6l0.2 2.7l0.3 2l0.2 2.8l0.2 2.2l0.3 2.6l0.2 2.4l0.2 2.5l0.2 2.7l0.2 2.5l0.2 2.4l0.2 2.9l0.2 2l0.1 2.9l0.2 2.2l0.2 2.4l0.2 2.3l0.2 2.4l0.2 3.2l0.2 2.2l0.2 2.7l0.2 2l0.3 2.7l0.2 1.9l0.1 3.2l0.2 2.2l0.2 2.7l0.2 2l0.2 3.4l0.2 2l0.2 2.4l0.1 2.6l0.2 2.8l0.2 1.8l0.1 3.1l0.2 1.6l0.2 3.8l0.2 1.8l0.1 2.8l0.2 2l0.2 2.4l0.2 3.1l0.2 2.4l0.2 2l0.2 3.1l0.1 2.2l0.2 2.5l0.2 2.8l0.3 1.6l0.2 2.6l0.2 3.3l0.2 2.1l0.3 2.4l0.2 3.1l0.3 2l0.2 2.5l0.3 2.7l0.3 2.6l0.3 3.6l0.3 3.2l0.2 0l0.3 0l0.2-3l0.2-2.4l0.3-3.6l0.2-3.5l0.1-1.8l0.2-2.8l0.2-2.2l0.1-2.4l0.2-3l0.2-1.7l0.1-2.8l0.2-3l0.2-2.1l0.2-2.9l0.2-1.9l0.3-2.7l0.2-2.6l0.2-2.1l0.2-3l0.2-2.4l0.1-2.7l0.1-2.2l0.1-2.2l0.1-2.7l0.1-2.9l0.1-2.5l0.1-2.1l0.1-2.7l0.1-3l0-2.3l0.1-2.3l0-2.3l0.1-2.5l0-2.8l0.1-2.5l0-2.4l0.1-2.4l0-2.4l0.1-2.9l0-2.7l0-2.6l0.1-1.9l0-1.7l0-2.8l0.1-2.8l0-2.3l0.1-2.4l0-3.3l0-2.2l0.1-2.6l0-2.2l0.1-2.4l0-2.9l0-2.2l0.1-2.5l0-2.9l0.1-2.2l0-2.3l0-2.7l0.1-2.4l0-3.1l0-2.3l0.1-2.4l0-2l0-3l0.1-2.2l0-2.7l0-2.4l0.1-2.1l0-3.1l0-2.4l0.1-2l0-3.3l0-2.3l0.1-2.6l0-2.1l0-2.3l0.1-3.1l0-2.3l0.1-2l0-2.7l0.1-3.3l0-2.2l0.1-2.1l0.1-2.6l0-3l0.1-1.9l0-2.3l0-3.4l0.1-1.3l0-3.4l0-2.8l0-1.7l0-2.8l0-2.1l0-2.5l0-3.4l0.1-2l0-2.5l0-2.8l0-2.3l0-2l0-2.4l0-2.6l0-3.6l0-2l0-2.4l0-2.1l0-2.2l0-2.1l0-3.6l0.1-2.5l0-2.3l0-2.8l0-1.7l0-3l0-2l0-2.7l0-2.8l0-2.5l0.1-2.2l0-2.9l0-1.8l0-3.3l0-2.7l0.1-2l0-2l0-3.4l0.1-1.2l0-3.7l0-2.5l0-2.3l0.1-2.3l0-3l0-2.1l0-2.6l0.1-2.7l0-2l0-2.8l0.1-2.8l0-2.5l0-2.1l0-3l0.1-1.6l0-3.8l0-1.9l0-2.1l0.1-2.8l0-2.6l0-2.2l0-2.9l0.1-2.5l0-2.6l0-2.1l0-2.2l0.1-3.3l0-2l0-2.7l0-2.2l0.1-2.2l0-2.6l0-2.8l0-2.3l0.1-2.8l0-2.5l0-2.2l0-2.7l0.1-1.8l0-3.7l0-2.5l0-2.7l0-1.5l0.1-2.6l0-2.4l0-3.2l0-2.2l0.1-3l0-2l0-2.7l0-2.3l0.1-2.8l0-2.1l0-2.4l0-3l0.1-2.3l0-2.5l0-2.3l0.1-2.5l0-2.2l0-2.7l0.1-2.6l0-2.2l0-2.7l0.1-2.5l0-2.7l0-2.8l0.1-2.3l0-2.6l0.1-2.2l0-2.6l0.1-2.6l0-2.6l0.1-2.4l0.1-2.1l0.1-2.5l0.2-2.7l0.1-2.5l0.2-2.8l0.2-2.5l0.1-2.2l0.3-2.7l0.3-2.4l0.6-2.2l1.7-1.5l2.3 1.4l2.4-0.2l2.4-0.9l2.4-0.9l2.4-0.8l2.4-0.6l2.4-0.9l2.4-0.5l2.5-0.6l2.4-0.5l2.5-0.3l2.4-0.4l2.5-0.3l2.5-0.6l2.5-0.4l2.5-0.1l2.4-0.3l2.5-0.2l2.5-0.2l2.5-0.1l2.5-0.1l2.5 0l2.5-0.2l2.5 0l2.5-0.1l2.5 0l2.5-0.2l2.5 0l2.5 0l2.5 0l2.5-0.1l2.5 0.1l2.5 0l2.5 0l2.5-0.1l2.5 0l2.5-0.1l2.5 0.1l2.5-0.1l2.5 0.1l2.5 0l2.5-0.1l2.5 0l2.5-0.1l2.5 0l2.5 0l2.5 0.2l2.5-0.1l2.5-0.1l2.5 0.2l2.5-0.2l2.5 0l2.5 0l2.5 0l2.5 0.2l2.5-0.3l2.5 0.1l2.5 0l2.5-0.1l2.5 0.2l2.5-0.2l2.5 0l2.5 0l2.5 0.1l2.5-0.1l2.5 0.1l2.5 0.1l2.5-0.1l2.5-0.1l2.5 0l2.5-0.1l2.5 0.2l2.5-0.2l2.5 0.2l2.5-0.2l2.5 0.2l2.5-0.1l2.5 0l2.5 0l2.5 0l2.5 0l2.5 0l2.5 0l2.5 0.1l2.5 0l2.5 0l2.5 0.1l2.5-0.2l2.5 0.1l2.5 0l2.5-0.1l2.5 0l2.5 0l2.5 0l2.5 0.1l2.5-0.1l2.5 0.1l2.5 0l2.5-0.1l2.5 0l2.5 0l2.5 0l2.5 0l2.5 0.1l2.5 0l2.5-0.1l2.5 0l2.5 0l2.5 0l2.5 0.1l2.5 0.1l2.5-0.1l2.5-0.1l2.5 0.1l2.5-0.1l2.5 0l2.5 0.1l2.5-0.1l2.5 0.1l2.5-0.1l2.5 0l2.5 0.1l2.5 0l2.5-0.1l2.5 0l2.5-0.1l2.5 0.1l2.5 0.1l2.5-0.2l2.5 0.1l2.5 0l2.5 0l2.5-0.1l2.5 0l2.5 0.1l2.5 0.1l2.5 0l2.5-0.1l2.5-0.1l2.5 0.1l2.5 0l2.5 0l2.5-0.1l2.5 0.1l2.5 0.1l2.5-0.1l2.5 0l2.5 0l2.5 0.1l2.5-0.1l2.5 0l2.5 0.1l2.5 0l2.5-0.1l2.5 0l2.5 0l2.5 0.1l2.5 0l2.5 0l2.5 0.1l2.5-0.2l2.5 0l2.5 0.1l2.5-0.1l2.5 0l2.5 0.1l2.5-0.1l2.5 0.2l2.5-0.2l2.5 0l2.5 0.1l2.5-0.1l2.5 0.2l2.5-0.1l2.5 0l2.5-0.1l2.5 0.1l2.5-0.1l2.5-0.1l2.5 0.1l2.5-0.1l2.5 0.2l2.5-0.1l2.5 0l2.5 0.2l2.5-0.1l2.5-0.1l2.5-0.1l2.5 0.2l2.5 0l2.5 0l2.5 0l2.5 0l2.5 0l2.5-0.1l2.5 0.1l2.5 0l2.5 0l2.5 0l2.5-0.1l2.5 0l2.5 0.1l2.5 0l2.5 0l2.5 0l2.5 0l2.5 0l2.5-0.1l2.5 0.1l2.5-0.2l2.5 0.1l2.5-0.1l2.5 0.2l2.5 0l2.5-0.1l2.5 0.1l2.5-0.1l2.5 0l2.5 0.1l2.5 0l2.5 0.1l2.5-0.2l2.5 0.1l2.5-0.1l2.5 0.1l2.5-0.1l2.5-0.1l2.5 0.2l2.5 0l2.5-0.1l2.5 0.1l2.5 0l2.5-0.1l2.5 0.2l2.5-0.2l2.5 0l2.5 0.1l2.5-0.1l2.5 0.1l2.5 0l2.5 0l2.5-0.1l2.5 0.1l2.5 0.1l2.5-0.1l2.5 0l2.5 0l2.5-0.1l2.5-0.1l2.5 0.3l2.5-0.2l1.7 0.1" fill="none" stroke="#484848" stroke-width="2.4" stroke-linejoin="round" />
<path d="M1504.4 193.1l1.3 1.7l1.4 0.2l1.3 1.3l1.3 0.3l1.4 0.9l1.3 1.3l1.3 0.9l1.3 0.5l1.3-0.1l1.3 2.1l1.3 1.3l1.4 0.5l1.4 0.9l1.5 0.5l1.5-0.4l0.9 1.6l0.9-0.6l0.8 0.3l0.9 0.8l0.9-0.6l0.9 0.6l0.9-0.7l0.9 0.4l0.9-0.2l0.9-0.1l0.9-0.4l0.9 0.3l0.9 0l0.9 0.3l0.9-1l0.8 0.1l0.9 1l0.8-1.3l1.4-0.7l1.3-0.9l1.4-2.1l1.4-0.1l1.4-1.8l1.4 0.7l1.4-0.4l1.4-1.8l1.4 0.2l1.4-2l1.5-0.7l1.4 0.1l1.5-1.1l1.5-0.4l1.5 0.2l1.6-1.3l1.5-0.1l1.6-0.4l1.6-0.1l1.5-0.3l1.6-0.6l1.6-0.6l1.6 0.6l1.6 0.5l1.6-0.8l1.6-0.2l1.6-0.4l1.6 0l1.6-0.5l1.6 0.7l1.6-0.3l1.6 0.4l1.6-0.8l1.6 0.8l1.6-0.6l1.6 0l1.5 0.2l1.6 0.3l1.6-0.2l1.5 1.4l1.6 0.5l1.6 0.6l1.5 0.1l1.6 0.4l1.5-0.5l1.5 1.2l1.6 0l1.5 0.8l1.5 1.2l1.5-0.1l1.5-0.6l1.5 1.2l1.6 0.8l1.5 0.7l1.4 1.1l1.5 0.6l1.5 0.5l1.5 0.4l1.5 0.3l1.5 0.6l1.5 1l1.5 0.9l1.5 1l1.4-0.1l1.4 0.9l0.7 1.1l0.7-1l0.8 1.6l0.7-0.4l0.7 2l0.7 0.5l0.7 0.8l0.7 0.6l0.6 0.2l0.6-0.5l0.6 1.6l0.6 1l0.5 0.4l0.4 0.4l0.5 0.9l0.5 1l0.4-0.2l0.4 2l0.5 0.7l0.4 0.3l0.5 1.4l0.5 1.1l0.5-0.9l0.5 2.7l0.5 0.4l0.5 0.7l0.5 0.8l0.5 0.5l0.5 0.2l0.5 0.1l0.5 1.8l0.5 0.4l0.5 0l0.5 3l0.5-0.1l0.5-0.3l0.5-0.4l0.5 1.4l0.5 2l0.5 0l0.5-0.2l0.5 2.2l0.5 0.4l0.5 0.5l0.5-0.1l0.5 2.3l0.4-0.6l0.5 1.6l0.5 2.2l0.5 0.9l0.5-0.7l0.5-2.4l0.5 4.8l0.5-1.1l0.5 0.2l0.6 3.1l0.6-2.3l0.6 3.6l0.6 0.8l0.6 0.2l0.7 0.3l0.6 0.3l0.7 0.2l0.6-0.1l0.7 4.7l0.7-2.7l0.6 0l0.7 1.6l0.6 1.5l0.7 1.2l0.6-0.9l0.6 0.7l0.6-0.1l0.6 1.3l0.7 2.1l0.6-0.5l0.6 0.3l0.6 1.3l0.7-0.6l0.6-1.2l0.7 2.8l0.7-2.8l0.7 4.2l0.7 1.4l0.7 1.4l0.7-0.2l0.8-0.1l0.7-1l0.8 0.4l0.8 1.7l0.7-0.5l0.8 0.3l0.8 1.9l0.8-0.8l0.8-1l0.8 2.8l0.8-0.6l0.7 2.5l0.8 1.6l0.8-0.4l0.8 0l0.8 1.7l0.8-3l0.8 1l0.8 1.5l0.9-0.5l0.8 1.2l0.8-0.4l0.8 0.6l0.8 0.1l0.8 2.2l0.8-1l0.8-1.3l0.8 2.2l0.8-0.4l0.8 3.6l0.8-1.2l0.8 1.8l0.9-1.4l0.8 1.7l0.8 0.1l0.8 0.1l0.8-3.3l0.8 3.5l0.8 2.3l0.8-1.8l0.8 2.3l0.8-2.3l0.9 0.7l0.8 1.9l0.9-3l0.8 5.4l0.8-2.8l0.8 3l0.8-2.7l0.8 2.7l0.6-1.4l0.7-1.3l0.6 2.4l0.6 1.2l0.6 1.6l0.6-1.3l0.5 2.8l0.5-0.4l0.6-2l0.5 5.5l0.5 0.9l0.5-1.6l0.5 1.1l0.4 0.2l0.5 2.2l0.5-0.8l0.4 3.1l0.4-0.8l0.5-1.1l0.4 4l0.4 0.5l0.5-2.9l0.4 4l0.4 1.4l0.4-0.3l0.4 0.2l0.5 3.6l0.4-2.3l0.4 4.7l0.4-3.2l0.4 3.5l0.4 2.2l0.4-4.1l0.4 3.6l0.4-1.1l0.4 3.2l0.4 1.9l0.4 1.3l0.3-0.4l0.4-1.3l0.4 2.5l0.4 3.8l0.3-1.3l0.4 2.4l0.4-0.9l0.3-3l0.4 2.3l0.3 2.4l0.4-1.8l0.4 3.5l0.3-3.4l0.4 3.8l0.3 1.9l0.4-3.1l0.4 4.7l0.3 1.4l0.4 0.9l0.3-3.3l0.4 1.1l0.3 5l0.4 0.8l0.3-2.7l0.4 0.4l0.4 4.5l0.3-3.8l0.4 5l0.4-2.9l0.4 1.2l0.4 3.2l0.4 1.7l0.4 0.9l0.4-0.1l0.5-0.9l0.4 0.9l0.5 2.4l0.4 1.5l0.5-1.8l0.5 1.1l0.5 0.9l0.5 1.8l0.5-0.7l0.5 2.4l0.5 1.3l0.5 1.4l0.6 0.7l0.5-2.2l0.7 2.3l0.7 0.6l0.8-1.9l1 0.3l0.9 2.6l0.9-5.6l0.9 6.3l0.8-1.9l0.8-2.8l0.8 2.6l0.8-4.5l0.8 2.1l0.9-3.4l0.9 4.6l0.8-3.8l0.9 2.2l0.9-1.2l0.9-1.1l0.9-0.5l0.9 4.8l0.9-5.3l0.9 1.7l0.9 0.1l0.8 0.7l0.9 0l0.9-3.4l0.9 2.1l0.9 1.5l0.8-0.3l0.9-1.3l0.8 0.6l0.8 0.5l0.9-2.1l0.9 1.2l0.7 0.3l0.4-0.7l0.3-0.7l0.3-3l0.3-2l0.2 2.3l0.2-2.6l0.2 0.8l0.2 1l0.1-3.2l0.1-1.6l0.2-1.8l0.1-1.3l0.2 2.7l0.1-6.8l0.1 2.7l0.2 1.3l0.1-4.4l0.1 0.6l0.1-1.2l0.1 0.4l0.1 0.5l0.1-3.9l0.1-1.8l0.1-0.3l0.1 3.3l0.1-0.9l0.1-3.4l0.1-0.6l0.1-2.9l0.1 1.8l0.1-2.9l0-1.9l0.1 0.9l0.1-1.8l0.1-0.1l0.1-1.3l0.1-0.3l0-1.2l0.1 1.9l0.1-2.7l0.1-2.6l0 0.4l0.1-2.6l0.1 0l0.1-2.5l0-0.9l0.1 0.9l0.1-3.3l0 1.5l0.1-1.7l0.1-0.2l0 0.2l0.1-0.5l0.1-1.8l0-3l0.1 1.6l0.1 0.4l0-2.8l0.1-4.4l0.1 0.1l0 1.7l0.1-1.9l0 3.2l0.1-5.3l0.1-0.5l0 0.3l0.1-5.6l0.1 4.4l0-2.7l0.1-2.8l0.1 0.7l0 1.6l0.1-2.3l0-5.7l0.1 4.2l0.1-2.1l0-0.1l0.1-3.2l0.1 2.6l0-0.9l0.1-2.2l0-1.1l0.1 0.8l0.1-1.9l0-2l0.1-0.8l0 0.1l0.1 1.1l0.1-4.3l0-0.8l0.1 0.8l0.1-2.7l0-1.5l0.1-1l0.1 2.5l0-4l0.1-0.1l0.1-2.5l0 0.9l0.1-1.3l0.1-0.6l0-1.2l0.1-0.3l0-1.2l0.1-0.9l0.1-1.5l0-0.9l0.1 1l0.1-2.1l0 0.6l0.1-2.7l0.1-1.1l0 1l0.1-2.3l0.1-1.1l0.1-0.9l0 1l0.1-2.4l0.1-0.2l0.1-0.5l0-1.6l0.1-2.4l0.1 0.6l0.1 0l0.1-1.3l0-1.6l0.1-1.6l0.1 0.5l0.1-3.5l0.1 1.8l0.1-0.7l0.1-2.9l0.1 0l0.1-2.5l0.1 0.6l0.1-1.4l0.1-1.5l0.1 0.4l0.1 0.2l0.1-1.4l0.1-2l0.2 0.6l0.1-1.4l0.2 0l0.1-2.6l0.2 0l0.2-0.2l0.1-3.6l0.3 0.9l0.2-2.4l0.3-0.8l0.3-0.6l0.4-0.7l0.4 0.1l0.4-1.5l0.5-0.3l0.6-0.3l0.9-0.1l0.9 0.2l1.1 1.5l0.9-1l0.9 1.6l0.9-0.7l0.9 0.2l0.9-1.1l0.9 0.8l0.8-1.4l0.9-0.1l0.9-1.1l0.8-0.2l0.9 0.1l0.8 0.4l0.9-0.4l0.8-0.1l0.8-0.6l0.8-1.5l0.9 0.3l0.8-0.4l0.8 0.2l0.8-0.2l1.5-1.5l1.4-1.1l1.5 0.4l1.5-0.2l1.4-0.8l1.5-1.5l1.5-0.6l1.4-0.8l1.5 0.3l1.5-1l1.6 0l1.5-0.6l1.6 0.1l1.6 0l1.5-1l1.6-0.1l1.6-0.3l1.6-0.3l1.6-0.5l1.6-0.4l1.6-0.8l1.6 0.8l1.6-0.4l1.5 0.2l1.6-0.8l1.6-0.8l1.6 0.7l1.5 0.4l1.6-1.4l1.6 0.2l1.6-0.1l1.6-1.1l1.5-0.2l1.6 0.3l1.6-0.7l1.6-0.5l1.6 0.3l1.6 0.5l1.6-1.6l1.5 0l1.6 0.4l1.6-0.5l1.6 0l1.6 0.1l1.6-0.1l1.6 0.1l1.6-0.2l1.6 0.5l1.6-0.4l1.6-0.1l1.6 0.3l1.6 0.1l1.6-0.1l1.6 0.1l1.5 0.2l1.6-1.2l1.6 0.3l1.6 0.1l1.6-0.1l1.6 0.5l1.6-0.1l1.6 0.4l1.6-0.4l1.6-0.4l1.6 0.9l1.6-0.1l1.6-0.3l1.6 0.5l1.6 0.4l1.7-1.2l1.6 0l1.6 0.5l1.6-0.4l1.6 0.4l1.6 0l1.6-0.5l1.6 0.5l1.6-0.1l1.6-0.3l1.6 0.5l1.6 0.6l1.6-0.8l1.6-0.7l1.6 0.3l1.6 0l1.6-0.1l1.6 0.4l1.6 0.5l1.6-0.6l1.6-0.4l1.6 0.5l1.6-0.6l1.6 0.7l1.6-0.2l1.6-0.3l1.6 0l1.6 0.4l1.6 0.2l1.6 0.1l1.6-0.4l1.6 0l1.6-0.1l1.6-0.3l1.6 0l1.6 0.8l1.6-0.7l1.6 0.8l1.6-0.8l1.6-0.4l1.6 0.4l1.6 0.3l1.6-0.1l1.6 0.2l1.6 0.6l1.6-0.7l1.6-0.1l1.6-0.2l1.6 0.1l1.6 0.7l1.6-0.2l1.6 0.2l1.6-0.5l1.6-0.3l1.6 0.2l1.6-0.1l1.6 0.6l1.6-0.2l1.6-0.9l1.6 0.2l1.6 0.3l1.6 0.7l1.6-0.8l1.6 0.3l1.6 0.1l1.6 0l1.6 0l1.6-0.4l1.6 0.6l1.6-0.6l1.6 0.5l1.6-0.4l1.6 0l1.6 0.1l1.6-0.3l1.6 0.5l1.6 0.5l1.6-1.5l1.6 0.9l1.6-0.9l1.6 1l1.6-0.9l1.6 0.5l1.6 0.3l1.6-0.6l1.6 0.6l1.6 0.1l1.6 0.1l1.6-0.7l1.6 0.7l1.6-0.5l1.6 0.4l1.6 0.2l1.6-0.6l1.6 0.4l1.6-0.4l1.6-0.2l1.6 0.8l1.6-0.9l1.6 0.9l1.6 0l1.6-0.8l1.6 0.2l1.6 0.2l1.6-0.4l1.6 0.4l1.6-0.2l1.6 0.1l1.6-0.3l1.6 0l1.6 0.3l1.6 0.3l1.6 0.1l1.6-1l1.6 0.6l1.6 0.8l1.6-0.6l1.6-0.6l1.6 0.3l1.6 0.3l1.6 0.2l1.6 0.1l1.6 0.3l1.6-0.5l1.6 0.1l1.6 0.3l1.6 0.2l1.6-0.8l1.6 0.1l1.6 0.6l1.6-0.6l1.6-0.3l1.6 0.4l1.6-0.3l1.6 0.5l1.6-0.5l1.6 0.8l1.6-0.7l1.6 0l1.6 0.1l1.6-0.6l1.6 0.8l1.6 0.1l1.6-1.3l1.6 0.9l1.6 0.1l1.6-0.1l1.6 0.3l1.6-0.4l1.6 0.1l1.6 0l1.6 0.3l1.6-0.6l1.6 0.6l1.6-0.6l1.6 0.6l1.6-0.4l1.6-0.5l1.6 0.7l1.6-0.2l1.6 0.4l1.6-0.1l1.6 0.2l1.6-0.2l1.6 0.2l1.6 0l1.6 0l1.6-0.8l1.6 0.7l1.6 0.4l1.6-0.8l1.6 0.4l1.6 0.3l1.6-0.3l1.6-0.5l1.6 0.2l1.6 0.5l1.6-0.8l1.6 0.7l1.6 0l1.6-0.2l1.6 0.1l1.6-0.2l1.6 0.1l1.6-0.1l1.6 0l1.6-0.6l1.6 0.6l1.6 0.2l1.6-0.3l1.6-0.1l1.6 0.4l1.6-0.7l1.6-0.3l1.6 0.8l1.6-0.3l1.6-0.2l1.6 0.3l1.6 0l1.6 0.6l1.6-0.4l1.6 0.2l1.6 0l1.6-0.1l1.6 0l1.6-0.3l1.6 0.1l1.6 0.2l1.6-0.1l1.6 1.1l1.6-1l1.6-0.4l1.6-0.1l1.6-0.2l1.6 1.1l1.6-0.9l1.6 0.6l1.6 0l1.6-0.5l1.6 0.4l1.6 0.2l1.6-1l1.6 0.9l1.6 0.2l1.6-0.5l1.6-0.1l1.6 0l1.6-0.7l1.6 0.6l1.6 0.4l1.6-0.6l1.6 0.4l1.6 0.4l1.6-0.4l1.6 0.4l1.6-0.8l1.6 0.3l1.6 0.7l1.6-0.8l1.6 0.2l1.6 1.4l1.6-1.1l1.6-0.2l1.6-0.6l1.6 0.4l1.6 0l1.6-0.3l1.6 0.2l1.6 0.4l1.6-0.4l1.6 0.4l1.6-0.7l1.6 0.1l1.6 1l1.6-0.2l1.6-0.1l1.6 0l1.6-0.3l1.6 0.4l1.6-0.6l1.6 0.6l1.6-0.5l1.6 0.4l1.6-0.1l1.6 0l1.6-0.7l1.6 0.3l1.6 0.6l1.6-0.4l1.6 0l1.6-0.1l1.6 0.5l1.6-0.3l1.6-0.1l1.6-0.1l1.6 0.1l1.6 0l1.6 0.4l1.6-0.3l1.6-0.1l1.6-1.2l1.6 1.3l1.6 0.1l1.6-0.6l1.6 0.9l1.6-0.7l1.6-0.1l1.6 0l1.6 0.1l1.6 0.2l1.6-0.1l1.6 0.1l1.6-0.1l1.6 0l0.5-0.6" fill="none" stroke="#FC3535" stroke-width="2.8" stroke-linejoin="round" />
<path d="M1504.4 190.3l2.2 1.7l2.3 1.4l1.4 0.3l1.4 1.1l1.5 0.6l1.4 0.6l1.4 0.2l1.5 1.1l1.4 0.9l1.4 0.5l1.4 1.1l1.4 0.3l1.5 1.3l1.4 0.6l1.5 0.3l1.5 0.5l1.5 1.3l1.5 0l1.5 0.2l1.5 1.6l1.6 0l1.6-0.8l1.7-0.3l1.6 0.5l1.5 0.3l1.5-0.3l1.4-0.4l1.3-1.8l1.3-0.9l1.4-0.9l1.4-1.4l1.5-0.3l1.5 0l1.5-0.6l1.5-1l1.5 0l1.5-1.5l1.5-0.4l1.6-0.4l1.5-0.2l1.5-0.5l1.6-0.2l1.5-0.6l1.6 0.2l1.5-1.3l1.6-0.1l1.6 0.1l1.5-0.9l1.6 0.6l1.6-1.1l2.5-0.3l2.4-0.5l2.5-0.2l2.5 0.1l2.5 0.2l2.5-0.4l2.5 0.6l2.5-0.4l2.5-0.2l2.5 0l2.5 0.2l2.5 0.1l2.5-0.1l2.5-0.5l2.5 0.2l2.5 0.5l2.5 0.1l2.5 0.3l2.5-0.5l2.5 0.2l2.5 1l2.4 0.2l1.6 0.2l1.6 1l1.6-0.5l1.6 0.6l1.6-0.3l1.6 0.8l1.6-0.2l1.6 0.9l1.6 0.4l1.6-0.4l1.5 1.2l1.5 0.5l1.5 0.3l1.4 0.4l1.3 0.7l1.3 0.6l1.2 0.8l1.2 0.8l1.2 2l1.2 1.8l1.2 0.2l1.2 2.1l1.3 0.2l1.3 0.9l1.3 0.9l1.4 0.8l1.3-0.3l1.4 1.2l1.4 1.1l1.3-0.2l1.4 2.5l1.4 0.6l1.3 0.8l0.8 0.8l0.8 0.4l0.7 0.6l0.8-0.1l0.8 0.1l0.8 1.3l0.7 0.2l0.8 0l0.7 0.9l0.8 0l0.8 2.2l0.7 0l0.7-1.2l0.8 1.7l0.7-0.4l0.8 2.8l0.7-1.7l0.7 0.7l0.8 1.1l0.7-0.3l0.7 2.1l0.8-0.1l0.7 1.2l0.7 0.5l0.7-1l0.7 0.7l0.7 2.4l0.7 0.3l0.7-1l0.6 1.4l0.7-0.4l0.6 1.8l0.7 1.1l0.6 0.4l0.6-0.8l0.7 1.3l0.6 1.7l0.6-0.3l0.6 2.7l0.7-1.3l0.6 0.4l0.6 1.8l0.7 0.2l0.6 0.2l0.7 2.8l0.6-1.5l0.7 1.2l0.6 0.5l0.7 0.1l0.7-0.1l0.6 3.1l0.6-1.5l0.7 2.3l0.6-0.6l0.6 0.9l0.5 0.2l0.6 1.9l0.5-1.5l0.6 4l0.5-2.4l0.5 2.2l0.5 1.5l0.5-2.1l0.5 2.6l0.5 1.2l0.5-1.2l0.4 2.6l0.5-0.1l0.5 1.3l0.5 3l0.5-0.8l0.4 0.2l0.5 0.4l0.5-0.3l0.5 1.7l0.5 1l0.5 1.5l0.5-0.9l0.5 3.3l0.5-0.9l0.5 0.3l0.5 0.8l0.5 2.3l0.4 0.4l0.5 2.4l0.4-0.7l0.5 1.5l0.4 1.9l0.4-2.2l0.4 2.1l0.4-0.2l0.3 2.3l0.4-1.1l0.4 3.5l0.3-0.4l0.3-1.1l0.4 2.8l0.3-0.5l0.3 1.5l0.4 2.4l0.3 1l0.3-3.2l0.4 3.4l0.3 0.1l0.3 1.9l0.4-0.3l0.3 1.9l0.3-1.6l0.4 3.2l0.4-0.8l0.3 2.5l0.4 0l0.3 2.7l0.4 1.4l0.4-2.2l0.4 6.1l0.3-3.1l0.4 0.7l0.4 0l0.4-0.6l0.3 1.8l0.4 1.5l0.4 2.2l0.4-1.7l0.3 0.7l0.4 1.9l0.4 0.4l0.4 0.3l0.3 2.2l0.4-0.1l0.4 3.1l0.4 0.5l0.3-3.3l0.4 3.3l0.4 1.1l0.4 2.6l0.4-1.6l0.3 1.3l0.4 2.6l0.4 0.9l0.4 0.2l0.3-1.8l0.4 4.5l0.4-1.4l0.3 0.6l0.4 1.9l0.4 2.1l0.3-0.7l0.4 0.4l0.3 2l0.4 2.7l0.3-3.4l0.4 2.2l0.3 4l0.3-1.9l0.4-2.2l0.3 5l0.3-1.4l0.4-0.3l0.3 3.4l0.3-0.4l0.3 0.7l0.4 0.7l0.3 2.6l0.3-0.2l0.3 2.8l0.3-0.7l0.3-0.2l0.3 2.8l0.2 0.9l0.3-3.3l0.3 4.6l0.2-0.5l0.3 1.9l0.3 0.8l0.2 3.8l0.3 0l0.3-0.8l0.3-0.9l0.2 0.6l0.3 1.6l0.3 1.8l0.3-0.2l0.3 0.1l0.4 4l0.3-2.7l0.4 3.3l0.3-1.8l0.4 2.6l0.4-0.5l0.4 2.1l0.4-0.6l0.5-0.4l0.4 3.4l0.4-0.1l0.4 1.4l0.5 5l0.4 1l0.4-1.4l0.4 0l0.4 1.9l0.4-2l0.4 1.9l0.4-1.3l0.4 3l0.5 0.1l0.4 1.2l0.4 2.1l0.4 1.2l0.4-1.8l0.4 1.4l0.4 2.7l0.3-1.4l0.4 2.3l0.4 0.7l0.3-0.3l0.4-1l0.3 2.9l0.4 2.1l0.3-1.3l0.3-0.1l0.4 2.7l0.3 0.9l0.3 0.2l0.3 0.4l0.4 0.7l0.3 0.4l0.3 2.6l0.3-1.4l0.4 0.3l0.3 3.3l0.3 3.4l0.4 1.6l0.3-5.3l0.3 4.1l0.4 0.9l0.3 1.4l0.4 1.2l0.3-1.1l0.3 0.8l0.4 1.1l0.3 1.5l0.3-2.3l0.4 2.6l0.3 0.1l0.3 2.3l0.4 1.3l0.3-0.1l0.3 2.5l0.3-0.6l0.4 3l0.3-1.6l0.3 1.8l0.3-0.4l0.3 1.6l0.4 2.2l0.3-0.6l0.3 0.8l0.3 2.1l0.3 1.2l0.3-1.1l0.3 2.1l0.3-2.6l0.3 3.9l0.3-1.1l0.3 3.7l0.3-2.9l0.2 3.4l0.3-0.7l0.3 2.7l0.3-0.2l0.2 5.2l0.3-2.5l0.3-0.7l0.2 3l0.3-1.3l0.2 0.4l0.3 3.6l0.2-1.9l0.2 3.9l0.2 0.5l0.3 2.6l0.3-1.6l0.2 1.6l0.4-1.5l0.4-0.6l0.5-1.4l0.4-0.8l0.3-0.7l0.2-0.7l0.2-3.8l0.2 2.8l0.2-2.2l0.1-2.1l0.2 0.4l0.1-1.7l0.1 0.2l0.2-1.1l0.1-2.1l0.1 0.8l0.1-2.4l0.1 0.8l0.1-4.4l0.2 2.3l0.1-1.9l0.1-0.6l0.1 1.5l0.1-3.3l0.2 0.1l0.1 0l0.1-0.3l0.1-4.2l0.1 1.9l0.1-3.6l0.1-1.2l0.1 2.4l0.1-3.6l0.1 0.4l0.1 0.1l0.1-0.1l0.1-3.1l0.1-1.1l0.1-1.1l0.1-0.4l0.1 0.4l0.1-4.8l0.1 1.3l0 0.5l0.1-0.9l0.1-4.1l0 2.7l0.1-2.2l0.1-2.2l0-1l0.1-0.4l0.1-0.5l0 0.9l0.1-3.5l0.1-1.3l0-0.5l0.1-0.1l0-3.2l0.1 3.5l0-2.5l0.1-0.1l0-1l0.1-1.5l0.1-1.5l0-2.2l0.1 0.3l0-0.5l0.1-0.1l0-0.3l0.1-0.6l0-3.7l0.1 0.3l0-0.4l0.1-1.3l0 0.7l0.1-2.9l0 1.2l0.1-3l0-1.1l0.1-2.2l0 2l0.1-0.2l0-1.5l0.1-2.4l0.1 0.5l0-2.8l0.1 1.6l0-4.9l0.1 1l0-2.4l0.1 0.5l0-1.8l0.1 0.4l0 0.1l0.1-1.7l0-0.4l0.1-1.7l0 0.7l0.1-0.8l0-4.1l0.1 2.2l0-1.1l0.1-0.6l0-1.9l0.1-3l0 1.9l0.1-2.3l0-0.2l0.1-4.2l0.1 3l0-0.7l0.1 0.7l0-2l0.1-2.8l0 1.5l0.1-4.9l0 5.9l0.1-1.9l0-3.8l0.1-3.1l0 0.4l0.1-0.1l0-1.4l0.1-0.4l0.1-0.5l0-2.9l0.1-0.1l0-1.2l0.1-0.5l0-0.2l0.1-4.3l0 1.7l0.1 1.2l0-3.7l0.1-1.6l0.1-0.5l0 0.9l0.1-4.2l0 1.8l0.1-5.4l0 5.3l0.1-3l0 1l0.1-3.4l0.1 0.1l0 1.9l0.1-5.3l0 1.6l0.1-5l0-1.4l0.1 3.4l0-1.8l0.1-1.6l0.1-0.2l0-1.6l0.1 0.2l0-0.3l0.1-0.6l0-2.2l0.1 0.2l0.1-1.1l0-1.3l0.1-2.1l0-3.8l0.1 2.5l0-1l0.1-2.7l0 2.2l0.1-1.9l0-2.6l0.1 1.9l0.1-1l0-0.4l0.1-3.9l0 1.3l0.1-2.6l0-3.4l0.1 2l0-0.7l0.1 2.2l0-3.2l0.1 0.5l0.1-3.2l0 0.7l0.1-3.3l0 1.7l0.1-3.6l0.1 2.1l0-2.5l0.1-1.6l0.1-1.3l0 1.2l0.1-2.8l0.1 0.4l0-1.8l0.1-0.2l0.1-1l0.1-1.6l0.1-1.2l0-1.2l0.1 0.8l0.1-1.2l0.1 0.8l0.1-2.6l0.1-2.7l0.1 2.2l0-3.4l0.1 0.9l0.1-2l0.1 0.2l0.1-1.8l0.1-1.6l0.2-0.8l0.1-0.9l0.1-0.7l0.1 1.5l0.1-2.6l0.2-0.8l0.1 0l0.2-2.7l0.1-0.7l0.2-0.8l0.1-1l0.2 1.1l0.2-2.5l0.2-1.5l0.3-0.2l0.2-1.1l0.3-1.2l0.3 0.3l0.3-2.6l0.3 0.7l0.4 0l0.4-0.2l0.3-1.4l0.4-1.9l0.5-0.7l0.5 0l0.5-0.8l0.5-1.9l0.6-1.5l0.6 0.4l0.7 0.6l0.6-1.7l0.6-1.4l0.6-0.3l0.7 0.2l0.6-0.7l0.7-1.1l0.7-0.3l1.2-1.3l1.3-0.9l1.2-1.7l1.3-0.8l1.3-0.7l1.3-1l1.2-1.2l1.3-0.4l1.3-1l1.4-0.7l1.3-1.4l1.4-1l1.4-0.6l1.5-0.9l1.5 0.7l1.6-0.8l1.6 0.7l1.6-0.4l1.6-0.2l1.6 0l1.6-0.7l1.6-0.3l1.5-0.7l1.6-0.3l1.5-0.3l1.6 0l1.5-0.7l1.6-0.2l1.5-0.4l1.6-0.6l1.6 0.6l1.5-1.3l1.5-0.3l1.6-1.4l1.5 0.1l1.6-0.3l1.5-0.2l1.6-0.9l1.5 0.1l1.6-0.9l1.6 0.2l1.6 0l2.4 0.5l2.5-0.7l2.5 0.4l2.5-1.2l2.5 0.3l2.5 0.2l2.5-0.4l2.5 0.5l2.6-0.6l2.5 0.6l2.5-0.6l2.5 0.2l2.5 0.4l2.5-0.5l2.5 0.3l2.5-0.1l2.5 0l2.5 0.5l2.5-0.4l2.5-0.1l2.5 0l2.5-0.4l2.5 0.5l2.5 0l2.5 0.1l2.5 0.3l2.5-0.4l2.5-0.5l2.5 0.4l2.5-0.2l2.5 0l2.5 0l2.5 0.2l2.5-0.3l2.5 0.4l2.5-0.6l2.5-0.4l2.5 0.8l2.5-0.4l2.5 0.3l2.5-0.4l2.5 0l2.5 0.7l2.5-0.3l2.5 0.2l2.5 0l2.5-0.2l2.5 0.6l2.5-0.3l2.5 0.6l2.5-0.3l2.5-0.2l2.5-0.2l2.5-0.2l2.5 0l2.5 0.2l2.5 0.3l2.5-0.6l2.5 0.3l2.5-0.4l2.5 0.4l2.5 0.1l2.5 0.2l2.5-0.2l2.5-0.3l2.5 0.1l2.5 0.1l2.5-0.1l2.5 0.2l2.5-0.1l2.5 0.3l2.5-0.7l2.5 0.4l2.5-0.3l2.5 0.2l2.5-0.3l2.5 0.4l2.5-0.5l2.5 0.2l2.5 0.9l2.5-0.5l2.5 0.1l2.5-0.5l2.5 0.6l2.5-0.4l2.5-0.1l2.5 0.3l2.5-0.1l2.5 0.3l2.5-0.7l2.5 0.1l2.5 0.1l2.5 0.2l2.5-0.2l2.5 0.1l2.5-0.1l2.5 0.4l2.5-0.4l2.5 0l2.5 0.1l2.5 0l2.5 0.1l2.5-0.4l2.5 0.3l2.5 0l2.5-0.2l2.5-0.3l2.5 0.6l2.5-0.1l2.5 0l2.5-0.1l2.5 0.5l2.5-0.7l2.5 0.3l2.5-0.1l2.5-0.5l2.5 0.6l2.5-0.4l2.5 0.6l2.5 0l2.5-0.1l2.5 0l2.5-0.3l2.5 0.4l2.5 0l2.5 0.1l2.5 0l2.5-0.8l2.5 0.6l2.5-0.8l2.5 0.9l2.5-0.4l2.5 0.2l2.5-0.2l2.5 0.3l2.5 0l2.5-0.5l2.5 0.2l2.5 0.1l2.5 0.3l2.5-0.3l2.5 0l2.5 0.7l2.5-1.4l2.5 0.9l2.5-0.2l2.5 0.2l2.5 0.1l2.5 0.1l2.5-0.6l2.5 0.5l2.5-0.2l2.5-0.3l2.5 0.4l2.5-0.6l2.5 0.6l2.5-0.3l2.5 0.5l2.5-0.6l2.5 0.1l2.5 0l2.5 0l2.5-0.4l2.5 0.5l2.5-0.3l2.5 0.5l2.5 0l2.5-0.6l2.5 0.3l2.5 0.1l2.5-0.3l2.5 0.6l2.5-0.4l2.5 0.2l2.5-0.3l2.5 0.3l2.5 0.6l2.5-1l2.5 0.3l2.5 0l2.5 0.1l2.5-0.2l2.5-0.5l2.5 0.2l2.5 0.4l2.5-0.6l2.5 0.7l2.5-0.1l2.5 0l2.5 0l2.5-0.1l2.5 0.1l2.5-0.5l2.5 0.4l2.5 0l2.5-0.3l2.5 0.2l2.5 0.6l2.5-0.4l2.5-0.6l2.5 0.1l2.5 0.6l2.5-0.8l2.5 0.9l2.5-0.7l2.5 0.3l2.1 0" fill="none" stroke="#0668EA" stroke-width="2.9" stroke-linejoin="round" />
<path d="M1504.4 190.5l2.4 0.6l2.4 0.8l2.4 0.7l2.4 0.7l2.4 0.5l2.4 0.6l2.4 0.9l2.4 0.5l2.4 1.1l2.5 0.6l2.4 0.3l2.5 0.2l2.4-0.1l2.5 0l2.6 0.2l2.5-0.1l2.5 0.3l2.4 0.1l2.5-0.6l2.5-0.5l2.4-0.4l2.4-1.1l2.5-0.6l2.5-0.3l2.4-0.3l2.5-0.5l2.5-0.4l2.4-0.3l2.5-0.5l2.5-0.2l2.5-0.3l2.5-0.3l2.5-0.1l2.5-0.2l2.4 0l2.6-0.1l2.5 0.1l2.5-0.3l2.5 0.2l2.5-0.4l2.5 0.1l2.4-0.1l2.5 0.2l2.5 0.3l2.5 0.1l2.5 0.3l2.5 0.4l2.5 0.5l2.5 0.1l2.4 0.3l2.5 0.5l2.5 0.5l2.4 0.5l2.5 0.9l2.3 0.8l2.2 0.8l2.2 1.7l2.1 1l1.8 1.9l1.6 1.9l1.5 2.4l1.5 1.5l1.7 2l1.8 1.8l2 1.6l1.9 1.4l2 2l1.9 0.9l2 1.6l1.9 1.8l1.9 1.4l1.9 1.5l1.8 2.4l1.8 1.6l1.8 1l1.7 2.7l1.7 1.9l1.6 1.2l1 2l0.9 0.4l1 1.6l0.9 1.4l1 1.6l0.9 1.2l0.9 1.3l0.8 1l0.9 2.1l0.9 1.1l0.8 0.9l0.9 1.4l0.8 2.1l0.8 1.1l0.8 0.8l0.8 1.6l0.7 1.9l0.8 0.3l0.7 1.8l0.6 2.1l0.7 0.7l0.7 2.6l0.6 0.3l0.6 1.4l0.7 1.5l0.6 2l0.7 1.3l0.6 1.3l0.7 1.8l0.8 1l0.7 2l0.7 1.6l0.8 1.3l0.7 0.7l0.7 2.4l0.7 1.1l0.6 1.8l0.6 1.5l0.7 0.8l0.6 2.1l0.5 0.7l0.6 2.2l0.5 0.4l0.4 2.7l0.4 1.2l0.4 0.7l0.4 2.5l0.3 1.2l0.4 2.9l0.3 0.6l0.3 2.6l0.3 0.8l0.3 0.8l0.3 2.1l0.3 1.6l0.4 1.9l0.3 0.3l0.3 2.2l0.4 1.4l0.3 2l0.4 1.5l0.3 1.7l0.4 1.7l0.3 1.1l0.4 2.1l0.3 1l0.3 1.5l0.3 2l0.3 1.5l0.3 0.9l0.2 3.2l0.3 0l0.2 1.3l0.2 2.9l0.3 1.3l0.2 1.5l0.2 1.1l0.3 1.2l0.2 2.2l0.2 1.6l0.2 1.7l0.2 1.6l0.3 2.1l0.2 0.5l0.2 1.1l0.2 2.4l0.2 0.9l0.2 1.1l0.2 3.7l0.3 0.9l0.2 1.2l0.2 1.7l0.2 2.7l0.2 1.2l0.2 1.5l0.2 1.3l0.2 0.9l0.2 2.1l0.2 1.1l0.3 3.1l0.2 0l0.2 1.5l0.3 1.4l0.2 2.8l0.2 0.4l0.3 2.7l0.2 1.4l0.2 1.3l0.3 3l0.2 0l0.2 2.1l0.3 0.8l0.2 1.8l0.2 2.3l0.2 0.8l0.2 2l0.2 2l0.2 1.2l0.2 1.4l0.2 1.8l0.2 0.5l0.2 2.5l0.2 2.3l0.2 1.9l0.2 1.1l0.2 1.3l0.2 1.6l0.2 1.1l0.2 2.4l0.2 1.6l0.2 0.9l0.2 1l0.3 2.6l0.2 2l0.2 0.7l0.2 2l0.3 1.6l0.2 1.9l0.2 1.4l0.3 0.8l0.2 2.5l0.2 1l0.2 1.8l0.2 2l0.3 0.2l0.2 2.9l0.2 0.7l0.1 1.8l0.2 2.5l0.2 1.6l0.2 0.5l0.3 1.5l0.2 1.4l0.2 1.9l0.2 2.8l0.3 0.9l0.2 0.9l0.3 2.1l0.2 1l0.3 2.2l0.3 2l0.3 0.5l0.3 2.7l0.4 1.9l0.4 1.2l0.6 0.9l0.9 2.5l0.7-0.1l0.5-0.4l0.5 0.6l0.5-3.2l0.4-1.6l0.3-1.7l0.4-1.9l0.3-1.4l0.3-2l0.3-1.3l0.2-1.8l0.3-1.8l0.3-2.5l0.2-0.8l0.2-2l0.2-1.6l0.3-1.3l0.2-0.4l0.2-2.2l0.2-1.6l0.2-2.6l0.2-1l0.2-1.7l0.2-1.4l0.1-1.3l0.2-2.1l0.2-1.4l0.2-1.3l0.2-1.8l0.2-1.4l0.2-3.3l0.1-0.7l0.2-1.2l0.2-2l0.2-1.7l0.1-2.3l0.2 0l0.2-2.1l0.1-1.8l0.2-0.3l0.2-2.7l0.1-0.9l0.2-1.9l0.2-1.4l0.1-3l0.2-0.6l0.1-1.7l0.2-1.1l0.2-0.5l0.1-2.2l0.2-1.7l0.1-3l0.2-0.8l0.1-1.8l0.2-2.2l0.2-0.7l0.1-1.2l0.2-2l0.1-1.3l0.2-1.3l0.1-2.5l0.2-0.4l0.1-3l0.2-1.3l0.2-1.5l0.1-1.8l0.2-2.1l0.1-0.3l0.2-1.2l0.1-2.3l0.2-1.8l0.1-1.8l0.2-1.2l0.2-1.5l0.1-2l0.2-1.8l0.2-2.6l0.2-0.3l0.1-0.9l0.2-2.2l0.2-2.4l0.2-1.2l0.2-2l0.2-1.8l0.2 0.2l0.2-2.3l0.2-1.4l0.2-3l0.2-0.2l0.2-1.5l0.3-1.3l0.2-2.7l0.2-1.7l0.3-0.3l0.3-1.9l0.2-2l0.3-1.1l0.3-1.1l0.3-2.3l0.3-1.4l0.3-1.4l0.3-1.7l0.4-2l0.3-1.4l0.3-2.6l0.4-1.3l0.3 0.4l0.3-3.1l0.4-2.1l0.3-0.1l0.4-1.3l0.4-3.1l0.4-0.9l0.4-1.7l0.3-1.6l0.5-1.8l0.4-1.5l0.4-1.4l0.4-1l0.4-1.9l0.5-1.4l0.4-1.5l0.5-1.7l0.6-1.8l0.5-1.6l0.6-1.2l0.5-1.4l0.6-2.2l0.5-1.2l0.5-0.6l0.5-2.4l0.4-1.1l0.4-2.3l0.3-0.2l0.3-1.5l0.4-2.2l0.3-1.6l0.3-1.4l0.2-1.9l0.3-1.8l0.3-0.9l0.2-2.3l0.3-1l0.3-1.3l0.3-2.6l0.2-1.1l0.3-1.5l0.3-2.5l0.3-0.9l0.3-1.3l0.3-2.1l0.3-0.7l0.3-1.4l0.3-1.6l0.3-1.4l0.2-2.4l0.3-1.1l0.3-1.8l0.3-2.1l0.3-1.5l0.3-1.4l0.4-2l0.3-1l0.3-1.6l0.3-0.7l0.5-3.2l0.5-2.2l0.5-2.6l0.6-2.8l0.5-2.5l0.6-2.3l0.6-2.4l0.6-2.3l0.6-2.5l0.7-2.8l0.8-2.3l1-2.1l1.4-1.9l1.9-1.8l2.1-1.5l2.2-0.6l2.4-0.6l2.6-0.1l2.6-0.5l2.5-0.4l2.5 0l2.4-0.7l2.5-0.1l2.5 0l2.5-0.3l2.5-0.2l2.5-0.4l2.5-0.1l2.5-0.3l2.5-0.2l2.4-0.5l2.5 0l2.5-0.6l2.5-0.3l2.5-0.1l2.5-0.2l2.5-0.1l2.4-0.4l2.5-0.1l2.5-0.4l2.5-0.2l2.5-0.1l2.5-0.1l2.5 0.1l2.5-0.6l2.5 0.1l2.5-0.4l2.5 0.1l2.5-0.4l2.5 0.1l2.5-0.1l2.5-0.1l2.5 0l2.5 0l2.5 0l2.5-0.3l2.5 0.1l2.5 0l2.5-0.2l2.5 0.1l2.5 0.2l2.5-0.1l2.5-0.1l2.5 0.2l2.5-0.2l2.5-0.1l2.5 0.2l2.5 0l2.5-0.2l2.5 0.1l2.5 0l2.5 0l2.5-0.2l2.5-0.1l2.5 0.1l2.5 0.1l2.5 0l2.5-0.1l2.5 0.2l2.5 0l2.5-0.4l2.5 0l2.5 0.2l2.5 0.1l2.5 0l2.5-0.1l2.5-0.2l2.5 0.4l2.5-0.3l2.5 0.1l2.5 0l2.5 0l2.5 0.1l2.5 0l2.5-0.2l2.5-0.2l2.5 0.2l2.5 0.1l2.5 0l2.5 0l2.5 0.1l2.5 0l2.5-0.1l2.5-0.1l2.5 0l2.5 0.2l2.5-0.2l2.5 0.2l2.5 0l2.5 0.1l2.5-0.2l2.5-0.3l2.5 0.5l2.5-0.2l2.5 0l2.5 0.2l2.5-0.2l2.5-0.1l2.5 0.1l2.5 0.1l2.5-0.1l2.5 0.2l2.5-0.3l2.5 0l2.5 0l2.5 0.3l2.5 0l2.5-0.2l2.5-0.1l2.5-0.1l2.5 0.4l2.5-0.1l2.5 0l2.5-0.1l2.5 0.1l2.5-0.1l2.5-0.1l2.5 0l2.5 0.1l2.5-0.1l2.5 0.2l2.5-0.2l2.5 0l2.5 0l2.5 0.1l2.5 0.1l2.5-0.2l2.5 0l2.5-0.1l2.5 0.1l2.5 0l2.5 0.1l2.5 0.1l2.5 0.1l2.5-0.3l2.5 0.2l2.5-0.2l2.5 0l2.5 0.2l2.5 0l2.5 0l2.5 0l2.5-0.1l2.5 0.2l2.5-0.3l2.5 0l2.5 0l2.5 0l2.5 0l2.5 0.3l2.5-0.4l2.5 0.4l2.5-0.4l2.5 0.3l2.5-0.4l2.5 0.5l2.5-0.3l2.5 0.1l2.5 0l2.5 0l2.5 0.2l2.5-0.1l2.5-0.1l2.5 0.1l2.5 0l2.5-0.1l2.5 0.1l2.5 0l2.5-0.2l2.5 0l2.5 0.1l2.5-0.1l2.5 0.1l2.5 0l2.5 0.1l2.5 0l2.5 0.1l2.5-0.1l2.5 0l2.5-0.2l2.5 0l2.5 0.2l2.5 0l2.5 0l2.5-0.1l2.5-0.1l2.5 0.2l2.5-0.1l2.5-0.2l2.5 0.4l2.5-0.4l2.5 0.1l2.5 0.1l2.5 0.1l2.5-0.2l2.5 0l2.5 0.1l2.5 0.1l2.5-0.1l2.5 0.2l2.5-0.2l2.5-0.1l2.5 0.1l2.5-0.1l2.5 0.2l2.5-0.1l2.5 0l2.5-0.1l2.5 0.3l2.5-0.4l2.5 0.2l2.5 0l2.5 0l2.5 0l2.5 0.1l2.5-0.1l2.5 0l2.5-0.1l2.5 0.1l2.5-0.1l2.5-0.1l2.5 0.3l2.5-0.1l2.5-0.1l2.5 0.1l2.5 0l2.5 0l2.5 0l2.5 0l2.5 0l2.5 0.1l2.5 0.2l2.5-0.2l2.5 0l2.5-0.1l2.5 0l2.5 0.1l2.5 0l1.5 0" fill="none" stroke="#06AA5A" stroke-width="2.4" stroke-linejoin="round" />
</g>
<text x="1687.40" y="890.50" font-family="'Liberation Serif', serif" font-size="46" font-weight="bold" font-style="normal" text-anchor="middle" fill="#000" >200</text>
<text x="1918.83" y="890.50" font-family="'Liberation Serif', serif" font-size="46" font-weight="bold" font-style="normal" text-anchor="middle" fill="#000" >400</text>
<text x="2150.27" y="890.50" font-family="'Liberation Serif', serif" font-size="46" font-weight="bold" font-style="normal" text-anchor="middle" fill="#000" >600</text>
<text x="2381.70" y="890.50" font-family="'Liberation Serif', serif" font-size="46" font-weight="bold" font-style="normal" text-anchor="middle" fill="#000" >800</text>
<text x="1958.00" y="979.00" font-family="'Liberation Serif', serif" font-size="62.5" font-weight="bold" text-anchor="middle">T/°C</text>
<line x1="1995.20" y1="409.40" x2="2073.80" y2="409.40" stroke="#484848" stroke-width="2.2"/>
<text x="2084.00" y="423.50" font-family="'Liberation Serif', serif" font-size="48.7" font-weight="normal" font-style="normal" text-anchor="start" fill="#000" >PPDO2300</text>
<line x1="1995.20" y1="468.40" x2="2073.80" y2="468.40" stroke="#FC3535" stroke-width="2.7"/>
<text x="2084.00" y="482.40" font-family="'Liberation Serif', serif" font-size="48.7" font-weight="normal" font-style="normal" text-anchor="start" fill="#000" >PPDO3200</text>
<line x1="1995.20" y1="528.30" x2="2073.80" y2="528.30" stroke="#0668EA" stroke-width="2.8"/>
<text x="2084.00" y="541.70" font-family="'Liberation Serif', serif" font-size="48.7" font-weight="normal" font-style="normal" text-anchor="start" fill="#000" >PPDO4700</text>
<line x1="1995.20" y1="587.50" x2="2073.80" y2="587.50" stroke="#06AA5A" stroke-width="1.9"/>
<text x="2084.00" y="600.90" font-family="'Liberation Serif', serif" font-size="48.7" font-weight="normal" font-style="normal" text-anchor="start" fill="#000" >PPDO5500</text>
<rect x="1330.0" y="26.1" width="97.9" height="98.8" fill="#ff2e00"/>
<text x="1381.10" y="97.40" font-family="'Liberation Sans', sans-serif" font-size="76" font-weight="normal" font-style="normal" text-anchor="middle" fill="#fff" >b</text>
</g>
<g id="panel-c">
<line x1="337.32" y1="1826.00" x2="337.32" y2="1818.70" stroke="#000" stroke-width="2.4"/>
<line x1="452.20" y1="1826.00" x2="452.20" y2="1812.00" stroke="#000" stroke-width="3"/>
<line x1="567.08" y1="1826.00" x2="567.08" y2="1818.70" stroke="#000" stroke-width="2.4"/>
<line x1="681.97" y1="1826.00" x2="681.97" y2="1812.00" stroke="#000" stroke-width="3"/>
<line x1="796.85" y1="1826.00" x2="796.85" y2="1818.70" stroke="#000" stroke-width="2.4"/>
<line x1="911.73" y1="1826.00" x2="911.73" y2="1812.00" stroke="#000" stroke-width="3"/>
<line x1="1026.62" y1="1826.00" x2="1026.62" y2="1818.70" stroke="#000" stroke-width="2.4"/>
<line x1="1141.50" y1="1826.00" x2="1141.50" y2="1812.00" stroke="#000" stroke-width="3"/>
<line x1="257.15" y1="1756.51" x2="264.45" y2="1756.51" stroke="#000" stroke-width="2"/>
<line x1="257.15" y1="1687.02" x2="271.15" y2="1687.02" stroke="#000" stroke-width="2"/>
<line x1="257.15" y1="1617.53" x2="264.45" y2="1617.53" stroke="#000" stroke-width="2"/>
<line x1="257.15" y1="1548.04" x2="271.15" y2="1548.04" stroke="#000" stroke-width="2"/>
<line x1="257.15" y1="1478.55" x2="264.45" y2="1478.55" stroke="#000" stroke-width="2"/>
<line x1="257.15" y1="1409.06" x2="271.15" y2="1409.06" stroke="#000" stroke-width="2"/>
<line x1="257.15" y1="1339.57" x2="264.45" y2="1339.57" stroke="#000" stroke-width="2"/>
<line x1="257.15" y1="1270.08" x2="271.15" y2="1270.08" stroke="#000" stroke-width="2"/>
<line x1="257.15" y1="1200.59" x2="264.45" y2="1200.59" stroke="#000" stroke-width="2"/>
<line x1="257.15" y1="1131.10" x2="271.15" y2="1131.10" stroke="#000" stroke-width="2"/>
<line x1="257.15" y1="1095.20" x2="257.15" y2="1827.00" stroke="#000" stroke-width="2"/>
<line x1="1165.00" y1="1095.20" x2="1165.00" y2="1827.00" stroke="#000" stroke-width="2"/>
<line x1="256.15" y1="1096.20" x2="1166.00" y2="1096.20" stroke="#000" stroke-width="2"/>
<line x1="256.15" y1="1826.00" x2="1166.00" y2="1826.00" stroke="#000" stroke-width="2"/>
<clipPath id="clip-c"><rect x="256.1" y="1096.2" width="907.9" height="730.8"/></clipPath>
<g clip-path="url(#clip-c)">
<path d="M256.9 1129.5l3-0.2l3-0.1l3-0.1l3.1-0.1l3 0l3 0l3 0l3 0l3 0.1l3 0.2l3 0.2l3 0.3l3 0.3l3 0.4l3 0.3l3 0.3l3 0.2l3 0.2l3 0.2l3 0.2l3 0.2l3 0.3l3 0.2l3 0.1l3 0.2l3 0.2l3 0.2l3 0.2l3 0.2l3.1 0.2l3 0.1l3 0.2l3 0.2l3 0.1l3 0.2l3 0.1l3 0.2l3 0.1l3 0.2l3 0.2l3 0.1l3 0.2l3 0.1l3 0.2l3.1 0.1l3 0.2l3 0.1l3 0.2l3 0.1l3 0.2l3 0.2l3 0.1l3 0.2l3 0.3l3 0.2l3 0.3l3 0.2l3 0.3l3 0.3l3 0.3l3 0.4l3 0.3l3 0.3l3 0.4l3 0.3l2.9 0.4l3 0.4l3 0.4l3 0.4l3 0.5l2.9 0.4l3 0.5l3 0.4l3 0.4l3 0.4l3 0.4l2.9 0.3l3 0.4l3 0.3l3 0.4l3 0.3l3 0.4l3 0.3l3 0.4l3 0.4l3 0.3l3 0.4l2.9 0.4l3 0.4l3 0.5l2.9 0.6l3 0.6l3 0.7l2.9 0.8l2.8 0.9l2.8 1l2.8 1.3l2.7 1.4l2.6 1.5l2.4 1.7l2.3 2l2.1 2.2l2 2.3l1.8 2.3l1.7 2.6l1.5 2.6l1.5 2.6l1.3 2.7l1.2 2.8l1.2 2.8l1 2.8l1.1 2.8l1 2.9l0.9 2.8l1 2.9l0.9 2.9l0.8 2.9l0.8 2.9l0.7 2.9l0.7 2.9l0.7 2.9l0.6 3l0.6 3l0.5 2.9l0.6 3l0.5 2.9l0.5 3l0.5 3l0.5 2.9l0.4 3l0.4 3l0.3 3l0.4 3l0.3 3l0.3 3l0.4 3l0.3 3l0.4 3l0.3 2.9l0.3 3l0.4 3l0.3 3l0.4 3l0.4 3l0.3 3l0.4 3l0.4 3l0.4 2.9l0.3 3l0.4 3l0.4 3l0.4 3l0.3 3l0.4 3l0.4 3l0.4 2.9l0.3 3l0.4 3l0.4 3l0.4 3l0.4 3l0.3 3l0.4 3l0.4 2.9l0.3 3l0.4 3l0.3 3l0.3 3l0.3 3l0.3 3l0.3 3l0.3 3l0.2 3l0.3 3l0.4 3l0.3 3l0.3 3l0.3 3l0.3 3l0.3 3l0.2 3l0.3 3l0.3 3l0.3 3l0.2 3l0.3 3l0.2 3l0.3 3l0.2 3l0.3 3l0.2 3l0.2 3l0.3 3l0.2 3l0.2 3l0.3 3l0.2 3l0.2 3l0.3 3l0.3 3l0.2 3l0.3 3l0.2 3l0.3 3l0.2 3l0.3 3l0.2 3l0.3 3l0.2 3l0.3 3l0.2 3l0.2 3l0.3 3l0.2 3l0.3 3l0.2 3l0.2 3l0.3 3l0.2 3l0.3 3l0.2 3l0.3 3l0.2 3l0.3 3l0.2 3l0.3 3l0.2 3l0.3 3l0.2 3l0.3 3l0.2 3l0.3 3l0.3 3l0.3 3l0.2 3l0.3 3l0.3 3l0.3 3l0.3 3l0.2 3l0.3 3l0.3 3l0.3 3l0.3 3l0.2 3l0.3 3l0.3 3l0.2 3l0.3 3l0.3 3l0.3 3l0.3 3l0.2 3l0.3 3l0.3 2.9l0.3 3l0.3 3l0.3 3l0.3 3l0.3 3l0.3 3l0.3 3l0.3 3l0.3 3l0.3 3l0.3 3l0.3 3l0.3 3l0.3 3l0.3 3l0.3 3l0.4 3l0.3 3l0.3 3l0.3 3l0.4 2.9l0.3 3l0.3 3l0.4 3l0.4 3l0.3 3l0.4 3l0.4 3l0.4 3l0.4 2.9l0.4 3l0.5 3l0.4 3l0.6 2.9l0.5 3l0.6 3l0.6 2.9l0.7 2.9l0.8 3l0.8 2.9l0.9 2.9l1.1 2.8l1.4 2.6l1.8 2.5l2.1 2.2l2.3 1.6l2.7 1.3l3 1.1l2.9 1l2.8 0.8l3 0.8l2.9 0.7l3 0.6l2.9 0.6l3 0.6l2.9 0.5l3 0.5l3 0.4l3 0.5l2.9 0.4l3 0.5l3 0.4l3 0.4l3 0.5l2.9 0.4l3 0.3l3 0.4l3 0.4l3 0.4l3 0.3l3 0.3l3 0.4l3 0.3l3 0.3l2.9 0.3l3 0.4l3 0.3l3 0.3l3 0.3l3 0.3l3 0.4l3 0.3l3 0.4l3 0.3l3 0.4l3 0.3l2.9 0.4l3 0.4l3 0.4l3 0.3l3 0.4l3 0.4l3 0.4l3 0.3l3 0.4l2.9 0.3l3 0.4l3 0.3l3 0.3l3 0.3l3 0.3l3 0.3l3 0.3l3 0.3l3 0.2l3 0.3l3 0.2l3 0.2l3 0.3l3 0.2l3 0.2l3 0.2l3 0.2l3 0.2l3 0.2l3 0.2l3 0.3l3 0.2l3 0.2l3 0.2l3 0.2l3 0.2l3.1 0.3l3 0.2l3 0.2l3 0.3l3 0.2l3 0.2l3 0.3l3 0.2l3 0.2l3 0.3l3 0.2l3 0.2l3 0.2l3 0.3l3 0.2l3 0.2l3 0.2l3 0.2l3 0.2l3 0.2l3 0.2l3 0.2l3 0.2l3 0.1l3 0.2l3 0.2l3 0.1l3 0.2l3.1 0.2l3 0.1l3 0.2l3 0.2l3 0.2l3 0.1l3 0.2l3 0.2l3 0.2l3 0.2l3 0.3l3 0.2l3 0.2l3 0.3l3 0.2l3 0.3l3 0.3l3 0.2l3 0.3l3 0.3l3 0.3l3 0.3l3 0.2l3 0.3l3 0.3l3 0.3l3 0.3l3 0.3l3 0.3l3 0.3l3 0.2l3 0.3l3 0.3l3 0.3l3 0.3l2.9 0.3l3 0.3l3 0.4l3 0.3l3 0.3l3 0.3l3 0.3l3 0.3l3 0.3l3 0.3l3 0.3l3 0.3l3 0.3l3 0.3l3 0.2l3 0.3l3 0.3l3 0.3l3 0.3l3 0.3l3 0.3l3 0.2l3 0.3l3 0.3l3 0.3l3 0.2l3 0.3l3 0.3l3 0.3l3 0.2l3 0.3l3 0.3l3 0.3l2.9 0.2" fill="none" stroke="#484848" stroke-width="2.7" stroke-linejoin="round" />
<path d="M256.9 1130.4l3 0.1l3 0.1l3 0.1l3.1 0.1l3 0.1l3 0.2l3 0.1l3 0.1l3 0.1l3 0.2l3 0.1l3 0.1l3 0.2l3 0.1l3 0.2l3.1 0.1l3 0.2l3 0.1l3 0.2l3 0.1l3 0.2l3 0.2l3 0.1l3 0.2l3 0.2l3 0.2l3 0.2l3 0.1l3 0.2l3.1 0.2l3 0.2l3 0.2l3 0.2l3 0.2l3 0.2l3 0.2l3 0.2l3 0.2l3 0.2l3 0.2l3 0.3l3 0.2l3 0.3l3 0.2l3 0.3l3 0.2l3 0.3l3 0.3l3 0.3l3 0.3l3 0.3l3 0.3l3 0.3l3 0.3l3 0.3l3 0.4l3 0.3l3 0.4l2.9 0.3l3 0.4l3 0.4l3 0.4l3 0.4l3 0.4l2.9 0.5l3 0.4l3 0.5l3 0.5l2.9 0.5l3 0.6l3 0.5l2.9 0.6l3 0.6l2.9 0.6l3 0.5l2.9 0.6l3 0.6l2.9 0.6l3 0.7l2.9 0.6l3 0.6l2.9 0.7l2.9 0.7l3 0.7l2.9 0.7l3 0.7l2.9 0.7l2.9 0.8l2.8 0.9l2.9 1l2.8 1l2.8 1.2l2.7 1.3l2.7 1.4l2.7 1.4l2.6 1.4l2.6 1.6l2.5 1.7l2.4 1.7l2.3 1.9l2.3 2.1l2.1 2.2l2 2.2l1.9 2.3l1.9 2.4l1.7 2.5l1.6 2.5l1.6 2.6l1.5 2.6l1.5 2.6l1.4 2.7l1.4 2.7l1.3 2.7l1.2 2.7l1.2 2.8l1.1 2.8l1 2.8l1 2.9l1 2.8l0.9 2.9l0.9 2.9l0.9 2.8l0.9 2.9l0.8 2.9l0.8 2.9l0.8 2.9l0.7 3l0.8 2.9l0.7 2.9l0.7 2.9l0.7 3l0.7 2.9l0.8 2.9l0.7 2.9l0.8 2.9l0.7 3l0.7 2.9l0.7 2.9l0.6 3l0.7 2.9l0.6 3l0.6 2.9l0.6 3l0.5 2.9l0.5 3l0.5 3l0.5 2.9l0.5 3l0.5 3l0.5 2.9l0.4 3l0.5 3l0.5 3l0.4 3l0.5 2.9l0.4 3l0.4 3l0.4 3l0.4 3l0.4 3l0.3 2.9l0.4 3l0.3 3l0.4 3l0.4 3l0.4 3l0.3 3l0.4 3l0.4 3l0.4 2.9l0.3 3l0.4 3l0.4 3l0.4 3l0.3 3l0.4 3l0.4 3l0.4 2.9l0.4 3l0.3 3l0.3 3l0.3 3l0.4 3l0.3 3l0.2 3l0.3 3l0.3 3l0.3 3l0.3 3l0.2 3l0.3 3l0.3 3l0.2 3l0.3 3l0.2 3l0.3 3l0.2 3l0.3 3l0.2 3l0.2 3l0.3 3l0.2 3l0.3 3l0.2 3l0.3 3l0.2 3l0.3 3l0.3 3l0.3 3l0.3 3l0.3 3l0.4 3l0.3 3l0.3 3l0.3 3l0.3 3l0.3 3l0.3 3l0.3 3l0.3 3l0.3 3l0.3 3l0.3 3l0.3 3l0.3 3l0.2 3l0.3 3l0.3 2.9l0.3 3l0.3 3l0.2 3l0.3 3l0.3 3l0.3 3l0.2 3l0.3 3l0.3 3l0.3 3l0.3 3l0.2 3l0.3 3l0.3 3l0.2 3l0.3 3l0.3 3l0.3 3l0.2 3l0.3 3l0.3 3l0.3 3l0.3 3l0.3 3l0.3 3l0.3 3l0.3 3l0.2 3l0.3 3l0.3 3l0.4 3l0.3 3l0.3 3l0.3 3l0.3 3l0.3 3l0.3 3l0.3 3l0.3 3l0.4 3l0.3 3l0.3 2.9l0.4 3l0.3 3l0.3 3l0.4 3l0.4 3l0.3 3l0.4 3l0.4 3l0.4 2.9l0.4 3l0.4 3l0.4 3l0.4 3l0.4 3l0.4 3l0.4 2.9l0.5 3l0.4 3l0.5 3l0.5 3l0.5 2.9l0.6 3l0.7 3l0.8 2.8l1 2.8l1.4 2.9l1.7 2.5l2.1 1.8l2.7 1.5l2.9 1.2l2.8 1l2.9 0.9l2.9 0.8l2.9 0.8l3 0.6l2.9 0.5l3 0.5l3 0.4l3 0.4l3 0.4l3 0.4l2.9 0.4l3 0.4l3 0.3l3 0.4l3 0.4l3 0.3l3 0.4l3 0.3l3 0.4l2.9 0.4l3 0.3l3 0.4l3 0.4l3 0.4l3 0.4l3 0.3l3 0.4l3 0.4l2.9 0.3l3 0.3l3 0.4l3 0.3l3 0.3l3 0.4l3 0.3l3 0.3l3 0.3l3 0.3l3 0.3l3 0.3l3 0.3l3 0.3l3 0.3l3 0.3l3 0.2l3 0.3l3 0.3l3 0.2l3 0.3l3 0.3l3 0.2l3 0.2l3 0.3l3 0.2l3 0.2l3 0.3l3 0.2l3 0.2l3 0.2l3 0.2l3 0.2l3 0.2l3 0.2l3 0.2l3 0.2l3 0.2l3 0.2l3.1 0.2l3 0.2l3 0.2l3 0.1l3 0.2l3 0.1l3 0.2l3 0.1l3 0.1l3 0.2l3.1 0.1l3 0.2l3 0.1l3 0.2l3 0.2l3 0.2l3 0.2l3 0.3l2.9 0.3l3 0.4l3 0.4l3 0.5l3 0.5l2.9 0.5l3 0.5l3 0.5l2.9 0.6l3 0.5l2.9 0.7l3 0.6l2.9 0.7l3 0.6l2.9 0.7l3 0.6l2.9 0.6l2.9 0.7l3 0.6l2.9 0.6l3 0.6l2.9 0.7l3 0.6l2.9 0.6l3 0.7l2.9 0.7l2.9 0.6l3 0.7l2.9 0.7l2.9 0.7l3 0.7l2.9 0.7l2.9 0.6l3 0.7l2.9 0.7l2.9 0.7l3 0.7l2.9 0.7l2.9 0.6l3 0.7l2.9 0.7l2.9 0.6l3 0.7l2.9 0.6l3 0.7l2.9 0.6l3 0.6l2.9 0.7l3 0.6l2.9 0.5l3 0.6l2.9 0.5l3 0.5l3 0.4l3 0.5l3 0.4l2.9 0.4l3 0.4l3 0.4l3 0.3l3 0.3l3 0.2l3 0.1l3 0.1l3 0.2l3 0.1l3.1 0.1l3 0.1l3 0.1l3 0l3 0.1l3 0l3 0l3 0l3.1 0l3 0l3 0l3 0l3 0l3 0l3 0l3 0l3 0" fill="none" stroke="#FC3535" stroke-width="2.8" stroke-linejoin="round" />
<path d="M256.9 1130.4l3 0.1l3 0.1l3 0.1l3 0l3.1 0.1l3 0.1l3 0.1l3 0.1l3 0.1l3 0l3 0.1l3 0.1l3 0.1l3 0.1l3 0.1l3 0.1l3 0.1l3.1 0l3 0.1l3 0.1l3 0.1l3 0.1l3 0.1l3 0.1l3 0.1l3 0.1l3 0.1l3 0.1l3 0.1l3 0.1l3.1 0.1l3 0.1l3 0.1l3 0l3 0.1l3 0.1l3 0l3 0.1l3 0l3 0.1l3 0l3 0.1l3.1 0l3 0.1l3 0l3 0l3 0.1l3 0l3 0.1l3 0l3 0.1l3 0l3 0.1l3 0.1l3 0.1l3.1 0.1l3 0.1l3 0.1l3 0.1l3 0.2l3 0.1l3 0.1l3 0.2l3 0.1l3 0.2l3 0.1l3 0.2l3 0.2l3 0.1l3 0.2l3 0.1l3 0.2l3.1 0.2l3 0.2l3 0.2l3 0.2l3 0.2l3 0.2l3 0.2l3 0.3l3 0.2l3 0.3l3 0.3l3 0.2l3 0.4l2.9 0.3l3 0.4l3 0.4l3 0.4l3 0.5l2.9 0.6l3 0.6l2.9 0.7l2.9 0.8l2.8 0.9l2.9 1.1l2.8 1.2l2.7 1.4l2.6 1.4l2.4 1.7l2.4 1.9l2.2 2.1l2.1 2.2l2 2.2l1.8 2.4l1.8 2.5l1.6 2.6l1.4 2.6l1.3 2.7l1.2 2.7l1.2 2.8l1.1 2.9l1 2.8l1.1 2.8l0.9 2.9l0.9 2.9l0.8 2.8l0.7 3l0.7 2.9l0.6 2.9l0.6 3l0.6 3l0.5 2.9l0.5 3l0.6 2.9l0.5 3l0.4 3l0.5 3l0.4 2.9l0.4 3l0.4 3l0.4 3l0.4 3l0.3 3l0.4 2.9l0.3 3l0.4 3l0.3 3l0.4 3l0.3 3l0.3 3l0.4 3l0.3 3l0.3 3l0.3 3l0.3 2.9l0.3 3l0.3 3l0.3 3l0.3 3l0.3 3l0.3 3l0.3 3l0.3 3l0.3 3l0.3 3l0.3 3l0.3 3l0.3 3l0.3 3l0.3 3l0.3 3l0.2 2.9l0.3 3l0.3 3l0.3 3l0.2 3l0.3 3l0.2 3l0.2 3l0.3 3l0.2 3l0.2 3l0.2 3l0.2 3l0.2 3l0.2 3l0.3 3l0.2 3l0.2 3l0.2 3.1l0.2 3l0.2 3l0.2 3l0.2 3l0.2 3l0.2 3l0.2 3l0.2 3l0.1 3l0.2 3l0.2 3l0.2 3l0.2 3l0.2 3l0.2 3l0.2 3l0.1 3l0.2 3l0.2 3l0.2 3l0.2 3l0.1 3l0.2 3l0.2 3l0.1 3l0.1 3l0.1 3l0.2 3.1l0.1 3l0.1 3l0.2 3l0.1 3l0.2 3l0.2 3l0.3 3l0.2 3l0.2 3l0.2 3l0.3 3l0.2 3l0.2 3l0.2 3l0.2 3l0.2 3l0.2 3l0.2 3l0.2 3l0.2 3l0.2 3l0.2 3l0.2 3l0.2 3l0.2 3l0.2 3l0.1 3l0.2 3l0.2 3l0.2 3l0.1 3l0.2 3l0.2 3l0.1 3.1l0.2 3l0.2 3l0.2 3l0.1 3l0.2 3l0.2 3l0.1 3l0.2 3l0.2 3l0.1 3l0.2 3l0.1 3l0.2 3l0.1 3l0.1 3l0.2 3l0.1 3l0.1 3l0.1 3l0.2 3.1l0.1 3l0.2 3l0.1 3l0.2 3l0.2 3l0.2 3l0.1 3l0.2 3l0.2 3l0.2 3l0.2 3l0.2 3l0.3 3l0.2 3l0.2 3l0.2 3l0.2 3l0.3 3l0.2 3l0.3 3l0.2 3l0.3 3l0.2 3l0.3 3l0.3 3l0.3 3l0.3 3l0.3 3l0.4 3l0.3 2.9l0.3 3l0.4 3l0.3 3l0.4 3l0.4 3l0.4 3l0.4 2.9l0.5 3l0.5 3l0.6 3l0.6 2.9l0.6 3l0.7 2.9l0.8 2.9l0.8 2.9l1 2.9l1.1 2.8l1.4 2.6l1.7 2.7l2.1 2.1l2.4 1.3l2.9 1l3.1 0.8l2.9 0.7l2.9 0.6l3 0.5l3 0.5l3 0.4l2.9 0.5l3 0.3l3 0.4l3 0.4l3 0.3l3 0.3l3 0.2l3 0.3l3 0.2l3 0.3l3 0.2l3 0.2l3 0.2l3 0.2l3 0.1l3 0.2l3 0.2l3 0.2l3 0.2l3 0.2l3 0.2l3 0.2l3 0.1l3 0.2l3 0.2l3 0.1l3.1 0.2l3 0.2l3 0.2l3 0.1l3 0.2l3 0.1l3 0.2l3 0.1l3 0.2l3 0.1l3 0.2l3 0.1l3 0.2l3 0.1l3 0.2l3 0.1l3 0.2l3 0.1l3 0.2l3 0.1l3.1 0.2l3 0.1l3 0.2l3 0.1l3 0.2l3 0.1l3 0.2l3 0.2l3 0.1l3 0.2l3 0.2l3 0.1l3 0.2l3 0.2l3 0.2l3 0.1l3 0.2l3 0.2l3 0.1l3 0.2l3 0.2l3 0.1l3.1 0.2l3 0.1l3 0.2l3 0.1l3 0.2l3 0.1l3 0.1l3 0.1l3 0.2l3 0.1l3 0.1l3 0.2l3 0.1l3 0.1l3 0.2l3 0.2l3 0.1l3 0.2l3 0.2l3 0.3l3 0.2l3.1 0.2l2.9 0.3l3 0.2l3 0.3l3 0.3l3 0.3l3 0.3l3 0.3l3 0.4l3 0.4l3 0.3l3 0.4l2.9 0.4l3 0.4l3 0.4l3 0.3l3 0.4l3 0.4l3 0.4l2.9 0.4l3 0.3l3 0.4l3 0.4l3 0.4l3 0.4l2.9 0.4l3 0.5l3 0.4l3 0.4l3 0.4l2.9 0.4l3 0.4l3 0.5l3 0.4l3 0.4l2.9 0.5l3 0.5l3 0.5l2.9 0.5l3 0.4l3 0.5l3 0.4l2.9 0.4l3 0.4l3 0.3l3 0.3l3 0.3l3 0.3l3 0.2l3 0.3l3 0.2l3 0.2l3 0.1l3 0.1l3 0.1l3 0l3 0.1l3.1 0l3 0.1l3 0.1l3 0l3 0l3 0.1l3 0l3 0l3 0l3 0l3.1 0l3 0l3 0l3 0l3 0l3 0l3 0l3 0l3 0l3 0l3 0l3 0" fill="none" stroke="#0668EA" stroke-width="3.1" stroke-linejoin="round" />
<path d="M256.9 1131.3l3 0l3.1 0l3 0l3 0l3 0l3 0l3 0.1l2.9 0.4l3 0.6l2.9 0.7l3 0.8l2.9 0.7l3 0.7l2.9 0.6l2.9 0.7l3 0.7l2.9 0.6l3 0.6l2.9 0.5l3 0.5l3 0.5l3 0.4l3 0.4l2.9 0.3l3 0.4l3 0.3l3 0.2l3 0.2l3 0.2l3.1 0.1l3 0.1l3 0.2l3 0.1l3 0.1l3 0.2l3 0.1l3 0.2l3 0.1l3 0.2l3 0.2l3 0.2l3.1 0.1l3 0.2l3 0.2l3 0.2l3 0.2l3 0.2l3 0.2l3 0.2l3 0.2l3 0.3l3 0.2l3 0.3l3 0.3l3 0.3l3 0.4l3 0.4l3 0.4l2.9 0.5l3 0.5l2.9 0.6l3 0.7l2.9 0.7l2.9 0.8l2.9 0.9l2.9 0.9l2.8 0.9l2.8 1.1l2.8 1.1l2.8 1.2l2.8 1.2l2.7 1.3l2.7 1.3l2.7 1.3l2.7 1.4l2.7 1.4l2.7 1.4l2.6 1.5l2.5 1.6l2.5 1.6l2.5 1.7l2.4 1.8l2.4 1.8l2.4 1.9l2.4 1.9l2.3 1.9l2.3 1.9l2.3 2l2.3 2l2.2 2l2.2 2l2.2 2.1l2.1 2.1l2.1 2.2l2.1 2.2l2 2.3l1.9 2.3l1.9 2.3l1.8 2.4l1.8 2.4l1.7 2.6l1.6 2.5l1.6 2.6l1.6 2.5l1.5 2.6l1.5 2.6l1.4 2.7l1.4 2.7l1.4 2.7l1.3 2.7l1.3 2.7l1.2 2.7l1.2 2.8l1.2 2.8l1.1 2.8l1.1 2.8l1 2.8l1 2.8l1 2.9l0.9 2.9l0.9 2.8l0.9 2.9l0.8 2.9l0.8 2.9l0.8 2.9l0.8 2.9l0.8 2.9l0.9 2.9l0.9 2.9l0.9 2.9l0.8 2.9l0.9 2.8l0.8 2.9l0.8 3l0.7 2.9l0.7 2.9l0.7 2.9l0.7 3l0.7 2.9l0.6 2.9l0.7 3l0.6 2.9l0.7 3l0.6 2.9l0.6 2.9l0.6 3l0.6 3l0.6 2.9l0.6 3l0.5 2.9l0.6 3l0.5 2.9l0.6 3l0.5 3l0.5 2.9l0.5 3l0.5 3l0.5 3l0.5 2.9l0.4 3l0.5 3l0.5 3l0.4 2.9l0.5 3l0.5 3l0.4 3l0.5 2.9l0.4 3l0.4 3l0.4 3l0.4 3l0.4 2.9l0.4 3l0.3 3l0.4 3l0.4 3l0.3 3l0.4 3l0.4 3l0.4 3l0.3 2.9l0.4 3l0.4 3l0.4 3l0.3 3l0.4 3l0.4 3l0.3 3l0.4 3l0.3 3l0.3 2.9l0.4 3l0.2 3l0.3 3l0.3 3l0.2 3l0.3 3l0.2 3l0.3 3l0.3 3l0.3 3l0.3 3l0.3 3l0.3 3l0.3 3l0.3 3l0.3 3l0.3 3l0.3 3l0.3 3l0.2 3l0.3 3l0.3 3l0.2 3l0.3 3l0.2 3l0.3 3l0.3 3l0.3 3l0.3 3l0.3 3l0.3 3l0.4 3l0.4 3l0.3 3l0.4 2.9l0.4 3l0.3 3l0.4 3l0.3 3l0.4 3l0.3 3l0.3 3l0.4 3l0.3 3l0.3 3l0.3 3l0.4 3l0.3 2.9l0.3 3l0.3 3l0.4 3l0.3 3l0.3 3l0.3 3l0.4 3l0.3 3l0.3 3l0.3 3l0.4 3l0.3 3l0.3 3l0.4 3l0.3 3l0.3 2.9l0.3 3l0.4 3l0.3 3l0.3 3l0.4 3l0.3 3l0.3 3l0.3 3l0.4 3l0.3 3l0.3 3l0.4 3l0.3 3l0.3 2.9l0.4 3l0.3 3l0.4 3l0.3 3l0.4 3l0.3 3l0.4 3l0.5 3l0.4 2.9l0.5 3l0.5 3l0.6 3l0.6 3l0.8 2.8l0.9 2.9l1.2 3l1.6 2.6l2 1.8l2.8 1.4l2.9 1l2.8 0.8l3 0.7l2.9 0.7l3 0.6l2.9 0.6l3 0.6l2.9 0.6l3 0.6l3 0.5l2.9 0.4l3 0.5l3 0.4l3 0.4l3 0.4l3 0.4l2.9 0.4l3 0.4l3 0.4l3 0.4l3 0.4l3 0.3l3 0.4l3 0.3l3 0.3l3 0.3l3 0.2l3 0.3l3 0.2l3 0.3l3 0.2l3 0.3l3 0.3l3 0.2l3 0.3l3 0.3l3 0.2l3 0.2l3 0.2l3 0.2l3 0.2l3 0.2l3 0.2l3 0.1l3 0.2l3 0.2l3 0.1l3 0.2l3 0.1l3 0.2l3.1 0.1l3 0.2l3 0.1l3 0.2l3 0.1l3 0.2l3 0.1l3 0.2l3 0.1l3 0.2l3 0.2l3 0.1l3 0.2l3.1 0.1l3 0.2l3 0.1l3 0.2l3 0.1l3 0.2l3 0.1l3 0.2l3 0.1l3 0.2l3 0.1l3 0.2l3 0.1l3.1 0.2l3 0.1l3 0.1l3 0.1l3 0.2l3 0.1l3 0.1l3 0.1l3 0.1l3 0.2l3 0.1l3.1 0.1l3 0.1l3 0.1l3 0.1l3 0.2l3 0.1l3 0.1l3 0.1l3 0.1l3 0.2l3 0.1l3.1 0.2l3 0.1l3 0.1l3 0.2l3 0.1l3 0.2l3 0.1l3 0.2l3 0.1l3 0.2l3 0.2l3 0.1l3 0.2l3.1 0.1l3 0.2l3 0.1l3 0.2l3 0.1l3 0.2l3 0.1l3 0.2l3 0.1l3 0.2l3 0.1l3 0.2l3 0.1l3.1 0.2l3 0.1l3 0.2l3 0.1l3 0.2l3 0.1l3 0.2l3 0.1l3 0.2l3 0.1l3 0.2l3 0.1l3 0.2l3.1 0.1l3 0.2l3 0.1l3 0.2l3 0.2l3 0.1l3 0.2l3 0.1l3 0.2l3 0.1l3 0.2l3 0.1l3 0.2l3.1 0.1l3 0.2l3 0.1l3 0.2l3 0.1l3 0.1l3 0.2l3 0.1l3 0.2l3 0.1l3 0.2l3 0.1l3 0.1l3.1 0.2l3 0.1l3 0.2l3 0.1l3 0.1l3 0.2l3 0.1l3 0.1l3 0.2l3 0.1l3 0.2l3 0.1" fill="none" stroke="#06AA5A" stroke-width="3.0" stroke-linejoin="round" />
</g>
<text x="452.20" y="1876.30" font-family="'Liberation Serif', serif" font-size="46" font-weight="bold" font-style="normal" text-anchor="middle" fill="#000" >200</text>
<text x="681.97" y="1876.30" font-family="'Liberation Serif', serif" font-size="46" font-weight="bold" font-style="normal" text-anchor="middle" fill="#000" >400</text>
<text x="911.73" y="1876.30" font-family="'Liberation Serif', serif" font-size="46" font-weight="bold" font-style="normal" text-anchor="middle" fill="#000" >600</text>
<text x="1141.50" y="1876.30" font-family="'Liberation Serif', serif" font-size="46" font-weight="bold" font-style="normal" text-anchor="middle" fill="#000" >800</text>
<text x="240.80" y="1838.90" font-family="'Liberation Serif', serif" font-size="46" font-weight="bold" font-style="normal" text-anchor="end" fill="#000" >0</text>
<text x="240.80" y="1699.92" font-family="'Liberation Serif', serif" font-size="46" font-weight="bold" font-style="normal" text-anchor="end" fill="#000" >20</text>
<text x="240.80" y="1560.94" font-family="'Liberation Serif', serif" font-size="46" font-weight="bold" font-style="normal" text-anchor="end" fill="#000" >40</text>
<text x="240.80" y="1421.96" font-family="'Liberation Serif', serif" font-size="46" font-weight="bold" font-style="normal" text-anchor="end" fill="#000" >60</text>
<text x="240.80" y="1282.98" font-family="'Liberation Serif', serif" font-size="46" font-weight="bold" font-style="normal" text-anchor="end" fill="#000" >80</text>
<text x="240.80" y="1144.00" font-family="'Liberation Serif', serif" font-size="46" font-weight="bold" font-style="normal" text-anchor="end" fill="#000" >100</text>
<text x="718.00" y="1951.20" font-family="'Liberation Serif', serif" font-size="62.5" font-weight="bold" text-anchor="middle"><tspan font-style="italic">T</tspan>/°C</text>
<text transform="translate(160.10,1460.90) rotate(-90)" font-family="'Liberation Serif', serif" font-size="62.3" font-weight="bold" text-anchor="middle">Weightremaining (%)</text>
<line x1="778.00" y1="1289.50" x2="855.90" y2="1289.50" stroke="#484848" stroke-width="1.6"/>
<text x="867.50" y="1302.70" font-family="'Liberation Serif', serif" font-size="48.4" font-weight="normal" font-style="normal" text-anchor="start" fill="#000" >PLA2300</text>
<line x1="778.00" y1="1348.50" x2="855.90" y2="1348.50" stroke="#FC3535" stroke-width="1.8"/>
<text x="867.50" y="1362.10" font-family="'Liberation Serif', serif" font-size="48.4" font-weight="normal" font-style="normal" text-anchor="start" fill="#000" >PLA3200</text>
<line x1="778.00" y1="1408.40" x2="855.90" y2="1408.40" stroke="#0668EA" stroke-width="3.0"/>
<text x="867.50" y="1422.00" font-family="'Liberation Serif', serif" font-size="48.4" font-weight="normal" font-style="normal" text-anchor="start" fill="#000" >PLA4700</text>
<line x1="778.00" y1="1467.40" x2="855.90" y2="1467.40" stroke="#06AA5A" stroke-width="3.0"/>
<text x="867.50" y="1480.80" font-family="'Liberation Serif', serif" font-size="48.4" font-weight="normal" font-style="normal" text-anchor="start" fill="#000" >PLA5500</text>
<rect x="29.1" y="1011.0" width="98.8" height="99.0" fill="#ff2e00"/>
<text x="80.60" y="1082.80" font-family="'Liberation Sans', sans-serif" font-size="76" font-weight="normal" font-style="normal" text-anchor="middle" fill="#fff" >c</text>
</g>
<g id="panel-d">
<line x1="1578.98" y1="1826.00" x2="1578.98" y2="1818.70" stroke="#000" stroke-width="2"/>
<line x1="1694.70" y1="1826.00" x2="1694.70" y2="1812.00" stroke="#000" stroke-width="2"/>
<line x1="1810.42" y1="1826.00" x2="1810.42" y2="1818.70" stroke="#000" stroke-width="2"/>
<line x1="1926.13" y1="1826.00" x2="1926.13" y2="1812.00" stroke="#000" stroke-width="2"/>
<line x1="2041.85" y1="1826.00" x2="2041.85" y2="1818.70" stroke="#000" stroke-width="2"/>
<line x1="2157.57" y1="1826.00" x2="2157.57" y2="1812.00" stroke="#000" stroke-width="2"/>
<line x1="2273.28" y1="1826.00" x2="2273.28" y2="1818.70" stroke="#000" stroke-width="2"/>
<line x1="2389.00" y1="1826.00" x2="2389.00" y2="1812.00" stroke="#000" stroke-width="2"/>
<line x1="1504.50" y1="1094.90" x2="1504.50" y2="1827.00" stroke="#000" stroke-width="3"/>
<line x1="2412.00" y1="1094.90" x2="2412.00" y2="1827.00" stroke="#000" stroke-width="2"/>
<line x1="1503.00" y1="1095.90" x2="2413.00" y2="1095.90" stroke="#000" stroke-width="2"/>
<line x1="1503.00" y1="1826.00" x2="2413.00" y2="1826.00" stroke="#000" stroke-width="2"/>
<clipPath id="clip-d"><rect x="1503.0" y="1095.9" width="908.0" height="731.1"/></clipPath>
<g clip-path="url(#clip-d)">
<path d="M1504.4 1186.2l2.5 0.9l2.4 0.7l2.5 0.1l2.5 0.7l2.4 0.2l2.5 0.1l2.5-0.1l2.5 0.4l2.5 0.2l2.5 0l2.5 0.3l2.5-0.1l2.5 0.4l2.5 0.1l2.5-0.2l2.5 0l2.5 0.3l2.5-0.3l2.5-0.1l2.5 0.6l2.5-0.1l2.5-0.4l2.5-0.1l2.5 0.1l2.5 0.2l2.5-0.1l2.5 0.1l2.5-0.4l2.5 0l2.5 0l2.5-0.4l2.5 0.2l2.5 0.3l2.5-0.1l2.5-0.3l2.5 0.4l2.5-0.7l2.5 0.1l2.5 0l2.5 0.1l2.5 0l2.5 0.2l2.5-0.2l2.5 0.4l2.5-0.6l2.5 0.2l2.5 0.3l2.5-0.5l2.5 0.7l2.5-0.6l2.5 0.2l2.5-0.1l2.5 0.1l2.5 0.2l2.5 0.1l2.5-0.3l2.5 0.5l2.5-0.3l2.5-0.1l2.5 0l2.5 0.2l2.5 0.1l2.5-0.1l2.5-0.3l2.5 0.1l2.5 0.4l2.5 0.1l2.5 0.1l2.5-0.5l2.5-0.1l2.5 0.5l2.5-0.1l2.5-0.1l2.5 0.6l2.5-0.5l2.5 0.3l2.5-0.4l2.5 0.4l2.5-0.3l2.5 0.4l2.5 0l2.5-0.4l2.5 0.6l2.5 0l2.5-0.1l2.5 0l2.5 0l2.5-0.1l2.5 0l2.5-0.1l2.5 0.5l2.5 0.4l2.5-0.4l2.5 0.6l2.5-0.4l2.5 0.1l2.5 0.1l2.5 0l2.5-0.4l2.5 0.3l2.5 0.3l2.6-0.2l2.5 1l2.5 0.2l2.6 0.3l2.4 0.5l2.5 0.3l2.4 0.5l2.4 0.2l2.3 0.4l2.3 1.2l2.4 1l2.2 1.1l2.1 1.7l1.2 0.7l1.1 1.9l1.2 0.8l1 0.3l1 1.9l1 0.8l1 2.7l0.8 0.1l0.9 1.5l0.8 1.7l0.7 0.8l0.8 2.5l0.7 1l0.6 1.8l0.7 1.5l0.6 0.4l0.6 1.6l0.6 2.8l0.5 1.3l0.6 0.4l0.5 2.1l0.3 0.1l0.3 1.7l0.3 1.2l0.3 0.7l0.3-0.2l0.2 1.3l0.3 1.7l0.3 0.1l0.2 2.4l0.3-0.6l0.2 0.7l0.3 1.7l0.2 0.5l0.3 0.5l0.2 2.7l0.3-0.8l0.2 1.3l0.2 0.7l0.3 0.5l0.2 0.3l0.2 2.9l0.2-0.9l0.3 2.2l0.2-0.1l0.2 1l0.2 0.5l0.2 1.9l0.2-1l0.2 3.6l0.2-1.7l0.2 2.1l0.2 1.5l0.2-1.4l0.2 2.4l0.2 1.2l0.2-0.8l0.2 2.5l0.2 0.1l0.1 1.3l0.2 2.7l0.2-0.3l0.2 0.4l0.2 0.5l0.1 0.1l0.2 1.6l0.2 1.1l0.2 1.5l0.1-0.5l0.2 3l0.2-0.5l0.2 0.5l0.2 1l0.1 2.1l0.2 0.6l0.2 2.2l0.2-0.3l0.1 1.5l0.2 1.8l0.2-1.7l0.2 2l0.1 0.1l0.2 2.1l0.2-0.8l0.1 3.1l0.2-0.1l0.2-0.6l0.1 2.4l0.2-0.2l0.1 1.5l0.2 2l0.1 1l0.2-2.2l0.1 2.9l0.2 0.2l0.1 1.8l0.1 0l0.1 1.7l0.2-1l0.1 2.7l0.1-0.3l0.1 2.1l0.1 0.4l0.2 2.2l0.1 1.4l0.1-1.5l0.1 5.1l0.1-2.2l0.1 0.8l0.1 0.3l0.1-0.3l0.1 1.7l0.1 1.4l0.1 2l0.1-1l0.1 0.7l0.1 1.8l0.1 0.5l0.1 0.5l0.2 2l0.1 0.2l0.1 2.6l0.1 0.7l0.1-2.3l0.1 2.8l0.1 1.1l0.2 2.3l0.1-1l0.1 1.3l0.1 2.3l0.2 0.9l0.1 0.4l0.1-1.1l0.1 3.7l0.1-0.8l0.2 0.7l0.1 1.7l0.1 1.9l0.1-0.3l0.1 0.6l0.1 1.8l0.1 2.4l0.1-2.4l0.1 2l0.1 3.3l0.1-1.3l0.1-1.4l0 4.1l0.1-0.8l0.1 0l0.1 2.8l0.1 0.8l0.1 0.8l0.1 2.2l0 0.1l0.1 2.4l0-0.2l0.1 0l0.1 2.4l0 1l0.1-2.3l0.1 3.7l0-0.1l0.1 1.7l0 0.8l0.1 3.2l0 0.2l0.1-0.4l0.1-0.4l0 0.7l0.1 1.5l0 1.6l0.1 0.1l0 0.3l0.1 3.3l0.1-1.7l0 2.7l0.1-1l0 2.2l0.1-0.1l0 1.9l0.1-0.2l0.1 2.9l0 0.2l0.1 1.4l0 4.1l0.1 1.1l0-0.9l0.1 0.4l0 1.7l0.1-1.3l0 1.7l0.1-0.6l0 2.5l0.1 0.4l0 1.2l0.1 1.9l0 1.2l0.1-1.1l0 1.4l0.1 2.3l0-0.8l0.1 2l0.1 0.8l0 0.1l0.1-0.5l0.1 2.5l0 1.8l0.1-0.8l0.1 0.3l0 2.2l0.1 1l0.1 0.5l0.1 0.5l0.1 0.8l0.1 0.5l0.1 2.3l0.1-0.9l0.1 0.5l0.1 2.8l0.1 2.9l0.1 1.5l0.2-3.8l0.1 3.4l0.1 0.9l0.1 1.3l0.1 1.1l0.1-0.5l0.2 0.8l0.1 1.2l0.1 1.3l0.1-1.5l0.1 2.3l0.2 0.3l0.1 2l0.1 1.3l0.1 0.2l0.1 2.1l0.1-0.2l0.1 2.6l0.1-1l0.1 1.6l0.1-0.1l0.1 1.6l0.1 1.9l0.1-0.3l0.1 0.9l0.1 1.9l0.1 1.2l0.1-0.6l0.1 1.8l0.1-1.8l0.1 3.3l0.1-0.6l0.1 3.1l0.1-2l0 2.8l0.1-0.3l0.1 2.3l0.1 0.1l0.1 4.2l0.1-1.7l0.1-0.3l0.1 2.6l0.1-0.8l0.2 0.5l0.1 2.7l0.1-1.4l0.1 3l0.1 0.6l0.1 2.2l0.2-0.7l0.1 2l0.1 0l0.2 1l0.1 0.6l0.2 1.1l0.1 1.1l0.2 1l0.2-1.3l0.1 3.7l0.2-0.1l0.1-0.1l0.2 1.9l0.2 0.2l0.1 1.8l0.2 0.7l0.1-0.1l0.1 2.2l0.2-0.2l0.1 2.2l0.1-1.8l0.1 3.3l0.1 0.2l0.1 1.1l0.1 2.7l0.1-0.9l0.1 1.6l0.2 1.6l0.1 1.4l0.1-1.7l0.1 3l0.2-1.1l0.1 0.6l0.2 3.4l0.1-1.1l0.2 1.8l0.2 1.7l0.2 1.4l0.2-0.8l0.2 0.7l0.2 0.8l0.2 1.2l0.2 1.9l0.1-2.1l0.2 2.6l0.2 1.9l0.2 0.9l0.1-1.6l0.1 3.6l0.2 0l0.1-0.1l0.1 0.7l0.1 1.3l0.1 1.3l0 2.2l0.1-1.1l0.1 0.6l0.1 1.2l0.1 1.5l0-0.8l0.1 4.2l0.1-0.3l0 1.5l0.1 0.8l0.1 0.5l0 0.4l0.1-0.1l0.1 1.8l0 1.2l0.1 1.6l0 1.3l0.1 1.1l0.1-1.2l0 1.8l0.1 1.3l0.1 0.6l0 2.1l0.1-0.6l0.1 2.5l0-0.5l0.1 0.9l0.1 0.1l0.1 3.4l0 1.7l0.1 0.7l0.1 0.1l0 2.2l0.1-0.2l0.1 3l0-1.9l0.1 2.6l0.1-0.1l0 2.1l0.1 0.3l0.1 1.9l0 1.6l0.1 0.1l0.1 1.1l0.1-0.1l0.1 1.7l0 0.5l0.1-2.3l0.1 2.6l0.1-0.2l0.1-0.1l0.1-1.2l0-2.2l0.1 1.4l0.1-2l0.1-0.4l0.1-3.7l0.1 1.9l0.1-1l0.1 0.1l0.1-2.1l0.1-2.6l0.2 0.7l0.1-4.1l0.2 4.3l0.1-1.8l0.3-3.3l0.2-2.9l0.3 0.1l0.2 0l0.1-0.4l0.1 0.7l0.1 0.8l0.1-0.8l0.1 1.6l0.1 0.8l0 1.5l0.1 1.7l0-1.2l0.1 3.3l0.1 3l0-0.9l0.1 0.7l0 1.4l0.1 2.3l0.1-1.7l0.1 2.7l0.1-3.1l0.1 4.8l0.1-2l0.2 0.6l0.1-3.1l0.2-0.5l0.2 0.9l0.2-4.5l0.2 1.2l0.2-3.4l0.2 0.1l0.2 4.1l0.3 0.5l0.2 0.7l0.3 1.8l0.2 0.6l0.2 1.5l0.3 0.8l0.2 0l0.2-1.4l0.2 0.1l0.1-1.1l0.2-1.3l0.2-2l0.2-3.4l0.2 1.4l0.3-1.2l0.3-2.3l0.3 1.6l0.6-1.5l0.6-2l0.6 1.5l0.3-0.9l0.3-0.5l0.3-3.2l0.3 0.9l0.2-2.3l0.4-2.9l0.3 1.6l0.5-0.7l0.4 1.7l0.4-2.6l0.4 0.3l0.4-2.7l0.3 0.5l0.2-2.9l0.1 1.4l0.1-3.2l0.1 1.7l0-2.3l0.1-1.5l0.1-1.2l0 0.9l0.1-2.6l0 0.3l0.1-1.8l0-0.2l0.1-1l0-1.6l0-1.3l0.1-1.2l0 0.8l0-1.2l0.1 0.8l0-2.6l0-2.8l0.1 2.3l0-3.5l0.1 0.9l0-2.1l0.1 0.4l0.1-1.9l0-1.7l0.1-0.8l0.1-0.9l0.2-0.6l0.2 1.9l0.3-2.8l0.3-0.7l0.3 0.2l0.4-3.1l0.4-0.6l0.3-0.8l0.4-0.9l0.4 1.6l0.4-3l0.3-1.6l0.2 0.1l0.3-1.3l0.1-1.3l0.1 0.8l0.1-3.4l0.1 1.4l0.1 0.4l0.1-0.1l0.1-1.7l0.1-2.6l0.1-0.8l0.1 0.3l0-1l0.1-2.8l0.1-2.3l0 0.9l0.1 1.2l0.1-2.6l0-2.2l0.1-0.3l0 0.6l0.1-1.2l0-1.6l0.1-0.5l0-1.4l0.1-0.7l0.1-2.2l0-0.8l0.1-0.3l0-0.8l0.1-1.4l0.1 0.8l0-0.9l0.1-0.3l0-2.2l0.1-1.5l0.1-1.1l0-2.2l0.1 1.5l0.1-2.3l0 1.3l0.1-1.3l0-0.9l0.1-0.3l0.1-2.2l0-0.8l0.1-1.7l0-0.8l0.1-0.6l0.1 0.1l0-1.7l0.1-0.3l0-1l0.1-1.5l0.1 2.1l0-3.4l0.1-0.2l0-3.8l0.1 0.8l0.1-0.2l0-0.3l0.1-2.7l0 0.6l0.1-3.1l0 0.1l0.1-0.5l0.1 1.1l0-2.7l0.1 0.6l0-4.6l0.1 0.4l0.1 0.2l0-2.1l0.1 1.1l0-2.9l0.1 1l0-2.7l0.1-0.4l0.1 0.5l0-2.6l0.1 0.2l0-1.2l0.1-1.1l0.1 1.2l0-2.3l0.1-1.6l0-0.7l0.1-2.1l0.1 0.6l0-0.7l0.1-0.6l0 0.1l0.1-2.3l0.1-2.6l0 0.6l0.1-1.7l0-1.1l0.1-0.9l0.1-0.1l0-1.8l0.1 0.3l0-3.1l0.1-1.9l0.1 1.8l0-2.3l0.1 0.1l0-2.2l0.1-1l0.1 1.3l0-1.6l0.1-0.5l0-0.9l0.1-1.6l0.1 1.4l0-2.1l0.1 1.4l0-1.9l0.1-1.8l0.1-1.6l0-1.5l0.1-1l0-0.1l0.1 0l0.1-3l0 0.2l0.1-2.1l0 0.4l0.1-0.5l0.1-0.4l0-1.6l0.1-1.8l0-0.7l0.1-0.5l0.1-1.1l0-0.4l0.1-0.9l0-0.2l0.1-3.2l0.1 0.7l0-2.1l0.1-0.2l0.1-2l0 0.5l0.1-2.4l0-0.3l0.1 2.2l0.1-2.5l0-0.6l0.1-2.7l0.1 1.1l0-2.4l0.1-1.1l0 0.2l0.1-1.3l0.1 0.2l0-3.4l0.1-0.4l0-0.6l0.1-0.3l0.1-1.5l0-0.5l0.1-1.1l0 0.3l0.1-2.4l0.1-0.7l0-0.4l0.1-1.1l0-0.6l0.1-2.4l0 0.5l0.1-1.2l0.1-1.6l0-1.6l0.1 0.9l0-1.2l0.1-0.9l0-1.2l0.1 0.9l0-3.4l0.1 0.1l0-1.3l0.1-2.4l0 1.2l0.1-2.3l0 1.2l0.1-0.9l0-1.3l0.1-0.8l0-1.8l0.1 0.2l0-0.7l0.1-0.7l0-0.7l0-3.6l0.1 0.8l0-3.6l0.1 2.5l0-2.5l0.1 0l0-1.6l0.1-0.1l0-0.6l0.1-2.7l0-0.3l0.1-0.7l0 0.2l0.1-1.9l0-0.8l0 1.5l0.1-5.7l0 2.2l0.1-1.4l0-0.2l0.1-0.7l0-0.6l0.1-3l0.1 1.1l0-1.6l0.1-1.9l0 0.5l0.1-3.2l0 1.2l0.1-1.7l0 0.6l0.1-2.9l0-0.6l0.1-0.9l0.1-0.9l0-1.9l0.1 0.5l0-1.7l0.1 0.7l0.1-1l0-2.8l0.1 0.3l0-0.8l0.1-1.7l0 1l0.1-2.1l0.1-0.5l0-1.7l0.1 0.1l0.1 1l0-3.9l0.1-0.1l0-0.9l0.1-0.7l0.1-1.4l0-2.3l0.1-0.3l0.1 0.4l0-2.7l0.1 1l0.1-1.3l0-0.8l0.1-0.7l0-1.4l0.1-0.4l0.1-2.2l0 0.1l0.1-1l0.1-1.7l0-0.3l0.1 0.7l0.1-2l0-2.2l0.1-0.7l0.1 0.6l0-2.7l0.1 1.1l0.1-2.4l0-0.3l0.1-1l0.1-0.9l0-0.4l0.1 0.4l0.1-1.6l0-1.3l0.1-2.8l0.1 0.4l0.1-0.2l0.1-1.9l0 0.6l0.1-2l0.2-1.7l0.1-2l0.2-1.2l0.2-1.1l0.1-2.1l0.2-1.9l0.2-0.6l0.2-1.9l0.2-2.2l0.2-1.2l0.2-2l0.3-1.1l0.3-2.1l0.3-1.3l0.4-1.1l0.4-2.6l0.6-1.2l0.7-1.7l1.3-2.2l1.7-0.8l2.4-0.8l2.7-0.2l2.6 0.4l2.5-1.5l2.4 0l2.5-0.3l2.5-0.6l2.5-0.4l2.4 0.3l2.5-1l2.5 0l2.5-0.3l2.5-0.2l2.5-0.3l2.5-0.3l2.5 0l2.5-0.3l2.5 0.1l2.5 0.3l2.5 0.1l2.5-0.1l2.5-0.6l2.5-0.2l2.5 0.4l2.5-0.1l2.5 0.1l2.5 0l2.5 0.1l2.5 0.1l2.5-0.6l2.5 0.2l2.5 0.1l2.5 0l2.5-0.4l2.5 0.3l2.5-0.1l2.5 0.3l2.5-0.3l2.5-0.4l2.5 0.3l2.5-0.1l2.5 0.5l2.5-0.5l2.5 0.1l2.5-0.1l2.5 0.1l2.5 0.2l2.5-0.2l2.5 0.2l2.5 0.2l2.5-0.2l2.5-0.1l2.5 0.3l2.5-0.3l2.5 0.3l2.5-0.5l2.5 0.4l2.5-0.4l2.5 0.1l2.5 0.4l2.5-0.3l2.5 0.4l2.5-0.5l2.5 0l2.5-0.4l2.5 0.3l2.5 0.1l2.5-0.2l2.5 0.1l2.5 0.3l2.5 0.3l2.5-0.4l2.5-0.1l2.5 0.2l2.5 0.1l2.5-0.4l2.5 0.5l2.5-0.1l2.5-0.2l2.5 0.3l2.5-0.3l2.5-0.1l2.5 0.1l2.5 0l2.5 0.2l2.5-0.3l2.5 0.3l2.5-0.4l2.5 0.6l2.5 0l2.5-0.4l2.5-0.1l2.5 0.6l2.5-0.7l2.5 0l2.5 0.8l2.5-0.7l2.5 0.2l2.5-0.1l2.5-0.1l2.5 0.3l2.5-0.1l2.5 0l2.5-0.2l2.5 0.6l2.5-0.6l2.5 0.5l2.5-0.3l2.5 0l2.5 0.1l2.5 0l2.5-0.4l2.5 0.4l2.5-0.1l2.5-0.5l2.5 0.7l2.5-0.1l2.5 0.2l2.5-0.2l2.5-0.1l2.5 0.2l2.5-0.2l2.5 0.1l2.5 0.4l2.5-0.2l2.5-0.2l2.5 0.2l2.5 0.2l2.5-0.1l2.5 0.1l2.5-0.3l2.5 0l2.5-0.1l2.5 0.5l2.5-0.4l2.5-0.2l2.5 0.1l2.5 0.5l2.5-0.6l2.5 0.2l2.5 0.2l2.5-0.3l2.5 0.6l2.5-0.3l2.5-0.2l2.5 0.1l2.5 0l2.5-0.1l2.5 0.2l2.5 0l2.5 0l2.5-0.2l2.5 0.2l2.5-0.2l2.5 0.2l2.5 0.1l2.5-0.6l2.5 0.2l2.5 0.4l2.5-0.1l2.5-0.1l2.5-0.1l2.5 0.2l2.5-0.1l2.5 0.3l2.5-0.4l2.5 0.1l2.5 0.5l2.5-0.5l2.5 0.1l2.5 0l2.5 0.1l2.5-0.5l2.5 0.3l2.5-0.1l2.5 0.2l2.5-0.1l2.5 0l2.5-0.2l2.5 0.1l2.5 0.4l2.5-0.2l2.5-0.2l2.5 0.3l2.5-0.4l2.5 0.4l2.5-0.3l2.5-0.4l2.5 0.2l2.5 0.2l2.5 0.1l2.5-0.4l2.5 0.4l2.5-0.1l2.5-0.3l2.5 0.2l2.5-0.3l2.5-0.2l2.5 0.8l2.5-0.2l2.5 0.1l2.5-0.4l2.5 0.3l2.5-0.1l2.5 0l2.5-0.3l2.5 0" fill="none" stroke="#484848" stroke-width="2.6" stroke-linejoin="round" />
<path d="M1504.4 1187.2l2.5-0.2l2.5 0.4l2.5 0.3l2.4 0.3l2.5 0.1l2.5 0.2l2.5 0.5l2.5-0.3l2.5 0.8l2.5 0.1l2.5-0.1l2.5 0.2l2.4-0.1l2.5 0l2.5 0.4l2.5-0.1l2.5 0.4l2.5 0.2l2.5-0.4l2.5 0l2.5 0.3l2.5-0.7l2.5 0.1l2.5 0.3l2.5 0.1l2.6 0l2.5 0l2.5 0.2l2.5-0.2l2.5 0.2l2.5 0l2.5-0.2l2.5 0l2.5-0.1l2.5 0.4l2.5-0.1l2.5 0.4l2.5-0.3l2.5 0.4l2.5-0.6l2.5 0.3l2.5-0.3l2.5 0.3l2.5 0.2l2.5-0.2l2.5 0l2.5 0.2l2.5 0.4l2.5-0.6l2.5 0l2.5 0.1l2.5 0.1l2.5-0.1l2.5 0.3l2.5 0.1l2.5-0.4l2.5 0.7l2.5-0.6l2.5 0.4l2.5 0l2.5 0.4l2.5-0.5l2.5 0.2l2.5 0.1l2.5 0.1l2.5-0.1l2.5 0.5l2.5-0.7l2.5 0.2l2.5 0.2l2.4-0.1l2.5-0.1l2.5 0.7l2.5 0l2.5-0.6l2.5 0.8l2.5 0.2l2.5-0.4l2.5 0.7l2.5-0.4l2.5 0.4l2.5 0.3l2.5 0.4l2.5 0.1l2.5 0.2l2.5-0.1l2.5 0.7l2.5-0.1l2.5-0.1l2.5 0.1l2.5 0.6l2.5-0.1l2.5-0.3l2.5 0.2l2.4 0.5l2.5-0.6l2.5 0.4l2.5 0.6l2.6-0.4l2.5 1l2.5-0.5l2.6 0.1l2.4 0.4l2.3 0.7l2.2 0.7l2.2 1.2l2 1.8l1.4 0.7l1.3 1.4l1.3 1.1l1.4 0.8l1.3 0.3l1.4 1.6l1.4 0.5l1.3 1.1l1.4 0.9l1.3 0.4l1.4 1.3l1.3 0.2l1.4 1.4l1.4 0l1.4 1.8l1.3 0.5l1.3 0.2l1.3 1.8l1.2 0.7l1 2.4l1.1 0.3l0.9 2.3l1 0.5l1 0.5l1 1.9l1.1 1.1l1.2 1.5l1.2-0.3l0.6 1.4l0.6 0.5l0.5 1.1l0.5 0.7l0.5 0.8l0.4 1l0.5 0.3l0.4 1.3l0.4 0.1l0.4 0.8l0.4 1.3l0.4 0.7l0.4 0.1l0.4 2.9l0.3-1.2l0.4 0.5l0.4 2.6l0.3 0.4l0.4 0.8l0.3 0.1l0.4 0.3l0.3 1.6l0.4 1l0.3 0.8l0.3 0.9l0.4 1.7l0.3-0.9l0.4 0.3l0.3 1.9l0.3-0.1l0.3 0l0.4 4.1l0.3-0.1l0.3 0.2l0.3 1l0.3 2.6l0.2 0.3l0.3 0.7l0.3 0.4l0.3-0.3l0.2 1.7l0.2 0.1l0.3 3.4l0.2-1.7l0.2 0.6l0.2 0.6l0.2 3l0.2-1.3l0.1 2.9l0.2 0.6l0.2 0.4l0.1 3.4l0.2-1.9l0.1 1.9l0.2-0.8l0.1 1.3l0.1 2.4l0.2-0.6l0.1 1.6l0.1 1.6l0.2 0.3l0.1 0.4l0.2 1.4l0.2-1.3l0.1 2.7l0.2 2.2l0.2 1.6l0.2-0.2l0.2 0.3l0.2 0.9l0.2-0.1l0.3 2.6l0.3 0.8l0.3-0.6l0.4-0.2l0.3 2.8l0.4 1.7l0.4-0.9l0.3 1.6l0.4 0.9l0.4 1.4l0.4 0.4l0.3-0.6l0.4 2.6l0.3-0.3l0.3 1.1l0.3 1.7l0.3-1.8l0.2 3.5l0.3-1l0.2 1.3l0.3 2.7l0.2 0.8l0.2-1.1l0.2 0.6l0.2 0.4l0.3 1.6l0.2 3.3l0.2-0.5l0.2-0.3l0.2 1.7l0.2-0.3l0.2 2.1l0.2 1.7l0.2-1.3l0.2 3.2l0.2 1.6l0.2 0.2l0.2-0.6l0.2 2.4l0.2-1.1l0.2 0.8l0.2 4.1l0.2-2.5l0.2 1.3l0.2 1.5l0.2 1.2l0.2 2.1l0.2 0.3l0.2 1.5l0.2 0.3l0.2 0.4l0.1-0.8l0.2 2.4l0.2 0l0.2 0.9l0.1 1.3l0.2 3.3l0.2-0.2l0.1 0.9l0.2-1.2l0.1 1.9l0.2 0.7l0.1 1.4l0.2 1.4l0.1-0.1l0.1 1.2l0.2 1.4l0.1 0.7l0.1 1.2l0.2-2.6l0.1 2.6l0.1 1.8l0.1 0l0.1 0.8l0.2-0.6l0.1 4.1l0.1-0.1l0.1 0.3l0.1 3.6l0.2-1.3l0.1 2.2l0.1 0.3l0.1 1.2l0.2-1.7l0.1 2.7l0.1 0.7l0.1 2l0.2 3l0.1-0.4l0.1 0.7l0.2-1.9l0.1 2.6l0.1 0.4l0.2-0.3l0.1 2.6l0.1 1.6l0.2 0.2l0.1 1.5l0.1 1.3l0.2-0.8l0.1 3.2l0.1-1.9l0.2 1.5l0.1 1.1l0.1 0.5l0.2-0.2l0.1 3.5l0.1 1.6l0.2-0.4l0.1 0.5l0.1 0.4l0.2 1.7l0.1 1l0.1 0.1l0.2 0.5l0.1-1l0.1 3.4l0.2 2.3l0.1-0.5l0.1-0.7l0.2 1.6l0.1 0.1l0.2 0.5l0.1 4.4l0.1-0.4l0.2 1.2l0.1-1.8l0.1 3.6l0.2 1.1l0.1 1.4l0.2-1.4l0.1 0.7l0.1 3.4l0.1 0.3l0.2-0.1l0.1 2l0.1 1.9l0.2-0.6l0.1 1.1l0.1 1.3l0.1 0.7l0.1 0l0.2 1.1l0.1-1l0.1 1.4l0.1 4.8l0.1-2.3l0.1-0.2l0.1 3.9l0.2 1.4l0.1-2.2l0.1 2.2l0.1 0.7l0.1 0.8l0.1 0.3l0.1 0.9l0.1 1.3l0.1 1.9l0.1 0.1l0.1 1.4l0.2 0.8l0.1 0.5l0.1 0.5l0.1 0.6l0.1 1.4l0.1 1.3l0.1-0.6l0.1 1.6l0.1 2.6l0.2-0.9l0.1 1.9l0.1-0.7l0.1 3.6l0.1 1l0.1-0.2l0.2 0.7l0.1 1.3l0.1 0.3l0.1 0.3l0.1 2.4l0.1-0.6l0.1 2l0.1 1.7l0.2-1.5l0.1 1.9l0.1 1.1l0.1-1.3l0.1 2.5l0.1 1.5l0.1-0.5l0.1 3.2l0.1 1.6l0.1 0.7l0.1 1.5l0.1-1.5l0.1 2.4l0.1 0l0-0.7l0.1 1.2l0.1 1.5l0.1-0.5l0.1 2.6l0.1 1l0 3.8l0.1-1.7l0.1 1.9l0.1 0.1l0.1-0.3l0.1 0.6l0 1.3l0.1 1.1l0.1 2.4l0.1 1l0.1-0.8l0.1 1.1l0.2 0.3l0.1 1.5l0.1 1.4l0.1 0l0.2 1.6l0.1 0.1l0.1 2.9l0.2-0.3l0.2 0.1l0.1 2.9l0.2-2.3l0.2 2.5l0.1 2.6l0.2 0.6l0.2 0.4l0.2 0l0.2 2l0.2 0.6l0.2 1.2l0.2-1.2l0.1 3l0.2-1.2l0.2 0.6l0.2 2.1l0.2 0.8l0.2 2.3l0.2-0.6l0.2 1.4l0.2-0.5l0.1 0.7l0.2 1.7l0.2 1.9l0.2 2.9l0.1-2.8l0.2 3.8l0.1-1.2l0.1 2.6l0.2-2l0.1 2.7l0.1 0.8l0.2 0.3l0.1 1l0.1 1.2l0.2 1.1l0.1-1.2l0.2 1.6l0.1 1.2l0.2-1l0.2 2.3l0.2 3l0.2 0.4l0.3-0.4l0.2 2.7l0.3-0.2l0.3 0l0.5 2.6l0.5 1.7l0.5-0.9l0.6 1.6l0.6-0.3l0.7-0.1l0.7-2.1l0.8-0.8l0.7-0.5l0.7 0.6l0.4-1.1l0.4-0.8l0.3 0.7l0.3-0.5l0.3-4.3l0.3-1.1l0.2 0.8l0.2 0l0.3-0.8l0.2-1.8l0.2-2.8l0.1 3.1l0.2-3.5l0.2 0.2l0.1-1.3l0.2-1.2l0.2 0.6l0.1-0.8l0.2-3.5l0.1-2.1l0.2 1l0.1 0.2l0.2-1l0.1-0.8l0.2-0.1l0.1-1l0.1-2.4l0.2-1.8l0.1-0.3l0.1 1.1l0.1-2.9l0 1l0.1-1.4l0 0.6l0.1-3l0-3.3l0 3.5l0-2.9l0-1l0 0.6l0-2.7l0-1.6l0-0.2l0 0.1l-0.1-1.9l0 1.3l0-3.7l0-0.7l0-1.5l0 2.4l0-1.1l0-2.9l0-1.5l0-1.8l0 2.3l0-1.7l0-0.9l0-1.9l0 0.7l0.1-2.1l0-2.1l0-0.6l0.1 0.2l0-2.5l0.1 1l0-2.4l0.1-0.4l0.1-0.9l0-0.7l0.1-0.1l0-2.7l0.1-0.3l0.1-1.6l0.1 0l0-1.4l0.1 0.2l0.1-0.5l0.1 0.6l0.1-3.4l0.1 1l0-2.8l0.1-1.1l0.1 0.5l0.1-0.5l0.1-0.9l0.1-1.4l0.1-1.3l0 0.7l0.1-3.1l0.1-1.3l0.1-0.7l0.1-1.5l0.1-0.3l0 1.4l0.1-4.2l0.1 2.5l0.1-4.2l0 1.7l0.1-4.7l0.1 3.6l0-3.3l0.1 0l0.1-1.2l0.1-1.2l0 1l0.1-1.3l0.1-2.1l0.1-0.3l0.1-0.4l0-2.2l0.1 0.3l0.1-0.7l0.1-2.6l0.1-1.4l0 0.6l0.1-2.2l0.1 0.5l0.1-1.6l0.1 0.4l0-1l0.1 0.3l0.1-1.8l0.1-1.6l0.1-2l0.1-1.4l0 0.7l0.1-0.1l0.1-1.3l0.1-1.9l0.1-1.4l0 0.9l0.1-1.8l0.1-3l0.1 2.5l0.1-4.7l0 0.5l0.1-0.5l0.1 0.1l0.1-2l0-1.1l0.1-0.2l0.1 0.3l0.1-2.4l0 1.6l0.1-2.8l0.1-1.7l0-0.8l0.1-1.1l0.1 0.4l0-1.8l0.1-0.8l0.1-1.4l0 1.6l0.1-4.7l0.1 0.7l0-0.1l0.1-1l0.1-1.2l0-0.2l0.1-1.4l0.1-1.3l0-1.8l0.1 0.5l0-2.3l0.1-1.8l0.1 2.1l0-2.2l0.1-1.1l0.1-0.6l0-0.8l0.1-1.1l0-0.8l0.1-0.5l0.1-1.2l0-0.3l0.1 1.1l0-2.4l0.1-1.4l0-1.3l0.1-0.6l0.1-0.5l0-1.2l0.1-0.2l0-1l0.1-2.2l0-1.1l0.1 0l0 0.3l0.1-3.7l0 0.7l0.1-1.4l0-1l0.1-1l0 0.9l0.1-1.4l0-1.8l0.1-1.6l0 0.6l0.1-1.5l0-1.7l0.1-0.9l0-0.2l0.1-2.8l0 0.6l0.1-1l0-1.2l0 0.4l0.1-2.4l0 0.1l0.1-1.5l0-0.9l0.1-1l0 2.4l0-3.6l0.1-1.9l0-1.6l0.1-0.8l0-0.4l0-0.4l0.1-0.6l0 0.3l0.1-2.4l0-0.1l0-1.3l0.1-0.2l0-1l0.1-1.4l0-1l0 1.1l0.1-2.7l0-2.2l0.1-0.3l0-2l0 0.1l0.1-1.7l0 1.6l0.1 0.3l0-2.8l0-2l0.1-0.9l0-1.4l0.1-1l0 0.2l0 0.4l0.1-2.3l0-2.3l0.1 3l0-4.9l0.1 1.6l0 0.4l0-1.6l0.1-1.3l0-3.7l0.1 1.9l0-2.4l0-0.2l0.1-2.4l0-0.7l0.1-0.6l0 2l0-3.7l0.1-1.4l0-1.9l0.1 3.3l0-2l0-2.1l0.1-2.8l0 0.4l0.1-0.6l0 2l0-3.9l0.1 0.7l0-3.3l0.1 0.5l0 0.4l0-2.5l0.1-1.7l0 1.3l0.1-1.1l0-1.2l0.1-0.1l0-2.4l0.1-0.1l0-2.3l0-0.1l0.1-0.6l0-3l0.1 0.6l0 0.3l0.1-3l0-0.1l0.1-0.2l0 1.7l0.1-2.7l0-2.2l0.1-1.8l0 0.1l0.1-0.5l0-0.1l0-2.2l0.1 0.2l0-0.7l0.1-1.9l0-0.1l0.1-1.8l0-0.6l0.1-2.1l0 0.3l0.1-0.3l0-1.1l0.1-1.5l0.1-2.1l0-0.6l0.1-1.7l0.1 0.5l0-1.6l0.1-0.5l0-0.9l0.1-1l0-0.7l0.1-0.7l0.1-1.4l0-0.5l0.1-1.1l0.1-0.7l0-1.4l0.1-0.1l0.1-1.1l0-1.8l0.1-0.5l0.1-1.2l0.1-1.5l0.1-0.1l0.2-1.9l0.1-2l0.1-1.4l0.2-1.5l0.2-1.4l0.1-1.8l0.2-1l0.2-2.1l0.3-2.8l0.2-0.8l0.3-1.2l0.3-2l0.3-2l0.4-1l0.5-1.9l0.6-2.2l0.8-0.9l0.8-1l1.4-1.5l2.1-1l2.6-0.8l2.6-0.9l2.4 0l2.5-0.8l2.5-0.6l2.4-0.2l2.5 0l2.5-0.6l2.5-0.3l2.5-0.6l2.4 0.5l2.5-0.5l2.5-0.1l2.5-0.1l2.5-0.9l2.5 0.3l2.5-0.1l2.5-0.7l2.5 0.4l2.5-0.2l2.5-0.4l2.5 0.5l2.5-0.2l2.5 0l2.5 0.1l2.5-0.2l2.5 0l2.5-0.4l2.5 0.5l2.5-0.3l2.5-0.2l2.5 0.2l2.5 0.2l2.5-0.5l2.5 0.5l2.5-0.3l2.5 0.5l2.5-0.2l2.5-0.1l2.5 0.1l2.5-0.3l2.5 0.2l2.5-0.1l2.5-0.1l2.5 0.2l2.5-0.1l2.5 0.3l2.5-0.2l2.5 0l2.5-0.1l2.5 0.3l2.5-0.7l2.5 0l2.5 0.1l2.5 0.3l2.5-0.4l2.5 0.2l2.5 0.4l2.5-0.1l2.5-0.4l2.5 0.5l2.5 0.1l2.5 0.2l2.5-0.5l2.5 0.1l2.5-0.1l2.5 0.4l2.5-0.3l2.5-0.3l2.5 0.4l2.5-0.3l2.5 0.2l2.5-0.4l2.5 0.3l2.5 0.5l2.5-0.8l2.5 0.4l2.5 0.2l2.5-0.3l2.5 0.3l2.5-0.2l2.5-0.2l2.5 0l2.5 0.2l2.5-0.4l2.5 0.2l2.5 0.3l2.5-0.2l2.5 0.2l2.5-0.2l2.5 0.6l2.5 0l2.5 0l2.5 0l2.5-0.1l2.5-0.1l2.5 0.8l2.5-0.3l2.5-0.1l2.5 0.2l2.5 0.2l2.5 0.1l2.5 0.2l2.5-0.1l2.5-0.3l2.5 0.3l2.5 0.2l2.5 0l2.5 0.2l2.5-0.6l2.5 1.3l2.5-0.3l2.5 0.6l2.5 0l2.5 0l2.5 0.5l2.5-0.6l2.5 1l2.4-0.5l2.5-0.4l2.5 0.4l2.5 0.3l2.5-0.3l2.5 0.5l2.5 0.1l2.5 0l2.5 0.1l2.5 0.1l2.5 0.3l2.5 0.1l2.5 0l2.5 0.1l2.5 0.1l2.5 0l2.5 0l2.5 0.4l2.5-0.1l2.5-0.7l2.5-0.1l2.5 0l2.5 0.4l2.5-0.4l2.5 0.4l2.5-0.6l2.5-0.1l2.5-0.2l2.5 0l2.5 0.2l2.5 0.6l2.5-0.4l2.5-0.3l2.5-0.2l2.5 0l2.5-0.2l2.5 0l2.5 0l2.5 0l2.5-0.4l2.5 0.1l2.5-0.4l2.5-0.3l2.5 0l2.5-0.4l2.5 0l2.5-0.3l2.5 0.1l2.4-0.4l2.5 0l2.5-0.5l2.5 0.1l2.5 0.3l2.5 0l2.5-0.3l2.5-0.3l2.5-0.1l2.5-0.1l2.5 0.1l2.5 0.1l2.5-0.3l2.5-0.1l2.5 0l2.5 0l2.5-0.3l2.5 0.1l2.5 0l2.5 0.1l2.5 0.4l2.5-0.2l2.5-0.2l2.5-0.5l2.5 0.2l2.5 0.2l2.5 0.1l2.5-0.9l2.5 0.7l2.5-0.4l2.5 0.2l2.5-0.4l2.5 0l2.5-0.3l2.5 0.2l2.5 0.2l1.7-0.1" fill="none" stroke="#FC3535" stroke-width="2.8" stroke-linejoin="round" />
<path d="M1504.4 1186.3l2.5 0.3l2.4 0.5l2.5 0l2.5 0.8l2.5 0.1l2.5-0.1l2.4 0l2.5 0.2l2.5-0.3l2.5 0.7l2.5-0.1l2.5-0.1l2.5 0l2.5 0.1l2.5 0.4l2.5-0.5l2.5 0.4l2.5-0.1l2.5 0.1l2.5 0.3l2.5-0.1l2.5-0.2l2.5 0l2.5 0.3l2.5-0.1l2.6-0.5l2.5 0.5l2.5 0.1l2.5-0.1l2.5-0.1l2.5 0.1l2.5 0.2l2.5 0.4l2.5-0.7l2.5 0l2.5-0.3l2.5 0.7l2.5-0.2l2.5-0.3l2.5 0.4l2.5-0.5l2.5 0.4l2.5-0.2l2.5 0.4l2.5-0.2l2.5 0.1l2.5-0.3l2.5-0.1l2.5 0.4l2.5 0l2.5-0.4l2.5-0.1l2.5 0.4l2.5-0.1l2.5 0l2.5-0.2l2.5 0.4l2.5-0.5l2.5 0.6l2.5-0.4l2.5 0.1l2.5-0.1l2.5-0.4l2.5 0.2l2.5 0l2.5 0.2l2.5 0.1l2.5-0.1l2.5 0l2.5 0.2l2.5 0.1l2.5-0.2l2.5-0.2l2.5 0.1l2.5 0.3l2.5-0.5l2.5 0.1l2.5 0.3l2.5 0.1l2.5-0.2l2.5 0.1l2.5 0.1l2.5-0.2l2.5 0l2.5 0.4l2.5-0.1l2.5 0l2.5-0.3l2.5 0.2l2.5 0.1l2.5-0.1l2.5 0.2l2.5 0.4l2.5-0.5l2.5 0.1l2.5 0.1l2.5-0.1l2.5 0.2l2.4 0l2.6 0.3l2.5 0.2l2.5 0.5l2.5 0.4l2.5 0.2l2.5 0.5l2.4 0.7l2.3 0.6l2.4-0.1l2.2 1.4l2.3 1.1l2.2 1.5l2.1 1.3l2.1 1.3l2 1.2l2.1 2.1l2 1.7l1.2 0.7l1.2 1.2l1.2 0.8l1.2 1.1l1.1 1.6l1.1 1l1 0.8l1 1.8l1 1.5l1 1l0.9 1.3l0.9 1.4l0.9 1.5l0.8 0.9l0.7 2.1l0.7 1.8l0.6 0.4l0.6 1.4l0.6 0.9l0.5 2.5l0.6 1.2l0.5 1.7l0.4 2.2l0.5 0.8l0.3-1l0.2 3.1l0.2 0.4l0.3 0.1l0.2 1.9l0.3 1.6l0.2 0.7l0.2 1.3l0.3 1.2l0.2-0.1l0.2 0.3l0.2 1.5l0.2 0.9l0.3-0.9l0.2 2.9l0.2-0.8l0.2 2.6l0.2 0.6l0.2 0.4l0.2 1.3l0.2-0.6l0.2 0.8l0.2 2.5l0.1 0.7l0.2 0.6l0.2 0.3l0.2 1l0.1 1.4l0.2 1.3l0.2-0.8l0.2 1.8l0.1 1.2l0.2-0.6l0.1 0.9l0.2 2.2l0.1 0.6l0.2 1.9l0.1 0.8l0.2 0.8l0.1 0.6l0.1 2.6l0.2-0.6l0.1-0.5l0.1 1.7l0.2 2.4l0.1 0.3l0.1 0.5l0.2 2l0.1-0.3l0.1 1.6l0.1-0.5l0.2 1.6l0.1 1.2l0.1-0.5l0.1 0.1l0.2 1l0.1 1.4l0.1 2.6l0.1-0.2l0.1 1.3l0.2 0.2l0.1 1.3l0.1 1.4l0.1-0.1l0.1 1.3l0.2 1l0.1 0.5l0.1 1.1l0.1 1.4l0.1-1.8l0.2 4.6l0.1 1.5l0.1-1.1l0.1 0.2l0.1 1.5l0.1 1.7l0.1 0.9l0.1-1.3l0.1 2.6l0.1 0.6l0.1 2.3l0.1-1.1l0.1 2.1l0.1-0.2l0.1 1l0.1 1.3l0.1 1.7l0 1.2l0.1-1.2l0.1 0.8l0.1 1.3l0.1 2.5l0-0.6l0.1 3l0.1-2.6l0.1 2.9l0 1l0.1 0.7l0.1 1.2l0 2.1l0.1-1l0.1 1.4l0 0.7l0.1 0.2l0.1 3.1l0 0.6l0.1-0.2l0.1 1.2l0 2.1l0.1-1.2l0.1 1.9l0 1.4l0.1-0.8l0.1 1.5l0 0.9l0.1 0.2l0.1 1.8l0 1.1l0.1 0.2l0.1 2.6l0 0.3l0.1 1.1l0.1 0.7l0 1.9l0.1-0.7l0 0.9l0.1-0.5l0.1 3.1l0 0.1l0.1 1.1l0.1 1.1l0 0.5l0.1 2.2l0-0.7l0.1 0.3l0.1 1.7l0 0.3l0.1 1.5l0.1 1.4l0 1l0.1 1.4l0 2.2l0.1-2.3l0.1 1.8l0 1.7l0.1-0.1l0 1.7l0.1-0.9l0.1 2.3l0 2.9l0.1-1.5l0.1 1l0 2l0.1 0.9l0 1.7l0.1 0.7l0.1-0.2l0 2.5l0.1-2.5l0.1 2.3l0 2.1l0.1-0.1l0 1l0.1 1.5l0.1 0.3l0 0.8l0.1 1.1l0.1 1.1l0.1 2.5l0-1.4l0.1 1.9l0.1 0.7l0 1.7l0.1 0.3l0.1 1.6l0-0.2l0.1 1.7l0.1-0.3l0 1.1l0.1 2.1l0.1 1.2l0 2l0.1-1.4l0.1 1.7l0 0.2l0.1 0.8l0.1 0.1l0.1 1.6l0 0.7l0.1 1.8l0.1 0.4l0 1.3l0.1-0.9l0.1 2.2l0.1 0.5l0 1.1l0.1 1.8l0.1 0.7l0.1 0l0-0.3l0.1 2.7l0.1 0l0.1 1.1l0 1.4l0.1 1l0.1 0l0 1.3l0.1 2.6l0.1-0.7l0 2.1l0.1 1.6l0.1-1l0.1 2.3l0-0.8l0.1 1.9l0.1 0.8l0 0.7l0.1 0.7l0.1 1.1l0 0.4l0.1 0.8l0.1 3.1l0.1-1.1l0 2.7l0.1-0.9l0.1 1.5l0 1.8l0.1 0.6l0.1-0.9l0 1.4l0.1 0.4l0.1 3.4l0-0.6l0.1 1.4l0-0.7l0.1 3.1l0-1.1l0.1 2.9l0.1-0.6l0 2.1l0.1 1.4l0-0.7l0 0.9l0.1 0.5l0 2.6l0.1 0.5l0-0.3l0.1 0.9l0 2l0 0.1l0.1 1.5l0 2.3l0 2l0.1-1.6l0-0.5l0 2.8l0.1-0.8l0 1.9l0 1.5l0 1l0.1 1.3l0 1.6l0 0.2l0.1-0.7l0 2.4l0 0.6l0.1 3l0-0.6l0 0.5l0 1.1l0 1.2l0.1 1.2l0-0.1l0 2.1l0 1l0 0.3l0.1 1.3l0 1.4l0 0.6l0-0.2l0.1 1.6l0 1.7l0 1l0.1-0.5l0 0.4l0.1 2.1l0 0.2l0 1.4l0.1 0.7l0 1.2l0.1 0.7l0 1.5l0 2.7l0.1-2.6l0 0.8l0.1 2.4l0 1l0.1 2.4l0-2.8l0.1 3.3l0 0.8l0.1 1l0-0.9l0.1 2.7l0 1.5l0.1-1.1l0 3.5l0-1.2l0.1 1.3l0 1.3l0.1 0.8l0-0.6l0.1 2.5l0 1.6l0.1 1l0-0.1l0.1 1.6l0-0.1l0.1 1.7l0 1.4l0 2l0.1-1.2l0 1l0.1-0.2l0 1.1l0 2.5l0.1 1l0-1.2l0 2.1l0.1 0.6l0 1.4l0 1.4l0.1 0.1l0-0.1l0.1 1.9l0 1.6l0 0.4l0.1 0.6l0 0.6l0 0.5l0.1 2.3l0 1.1l0.1 0.2l0 2.9l0-0.4l0.1 0.4l0 2.3l0.1-0.6l0 3.5l0 0.4l0.1-0.4l0 0.3l0.1 0.9l0 1.4l0.1 1.9l0-0.4l0 1.5l0.1-0.1l0 2.3l0.1-0.5l0 1.7l0.1 0.1l0 1.2l0.1 2l0.1 1.2l0-0.1l0.1 3.2l0.1-1.3l0 0.8l0.1 2l0.1-0.7l0.1 0.6l0 2.2l0.1-0.1l0.1 2.6l0.1 0.2l0.1 0.7l0 1.1l0.1-0.5l0.1 0.6l0.1 1.2l0.1 1.2l0.1-0.4l0 1.9l0.1 0.7l0.1 0.6l0.1 1l0.1 1.4l0 2.3l0.1 0.8l0.1 0.9l0.1 3.1l0-1.1l0.1 1.1l0.1 1l0-0.2l0.1 1.3l0 0.1l0.1 1.7l0.1-1.8l0 3.4l0.1 0.8l0-2.5l0.1 5l0.1 0.9l0-1.3l0.1 0.5l0 3.4l0.1-0.6l0.1 0.1l0 1.2l0.1 1.4l0 3.1l0.1-0.6l0 0.6l0.1 1.2l0.1 1.3l0-0.5l0.1 3.5l0-1l0.1 0.6l0 1.1l0.1 1.2l0.1 0.1l0 2.9l0.1-1.5l0 4l0.1 0.7l0.1-2.5l0 3.7l0.1 1.4l0.1-1.1l0 2.5l0.1-0.4l0 2.1l0.1-0.6l0.1 1.2l0 1.2l0.1-0.3l0.1 2.2l0 0.4l0.1 0.6l0.1 1.1l0 0.7l0.1 0.8l0.1 0.6l0.1 2.5l0 0.8l0.1 0.8l0.1 0.6l0 0.4l0.1 0.2l0.1 2.6l0 0.9l0.1-0.5l0.1 3l0.1-1.7l0 3.1l0.1-1.2l0.1 1.8l0-0.8l0.1 3.1l0.1 0.8l0.1-0.5l0 1.6l0.1 0.9l0.1 2.5l0 0.2l0.1 0.2l0.1 2.1l0.1-0.8l0 2.3l0.1 0.5l0.1 0.2l0-0.4l0.1 2.9l0.1 0l0.1 1.9l0 0.7l0.1-1.3l0.1 2.9l0.1 0.7l0 2.5l0.1-1.5l0.1 0.2l0.1 1.1l0 3.5l0.1-0.9l0.1 4.9l0.1-3.4l0 1.5l0.1 0.6l0.1 0.9l0.1 2.4l0-0.3l0.1 2.3l0.1 1.4l0.1-0.3l0.1 0.8l0.1 1.5l0 0.3l0.1 2.3l0.1-1.2l0.1 1.8l0.1-0.5l0.1 2.2l0.1 0.6l0.1 0.2l0.1 1.1l0.1 1.8l0.1 0.5l0.1 3.1l0.1-1.6l0.1-0.1l0.1 2.4l0.1 1.4l0.1-0.3l0.1 1.5l0.1 0l0 0.7l0.1 2.8l0.1-0.8l0.1 0.6l0 0.8l0.1 1.6l0 3.5l0.1-1.1l0 1.2l0.1 0.5l0 1.4l0.1 1.8l0 0.2l0.1 2.8l0 0.7l0-0.1l0.1 1.4l0 2l0.1 1.6l0 0.1l0 0.7l0.1 0.8l0 1.2l0 1.3l0.1 1.3l0-1.5l0.1 1.6l0 1l0.1 0.2l0 0.9l0.1 0.4l0-0.9l0.1-0.3l0.1 0.1l0-2.3l0.1 0.6l0.1-0.1l0.1-1.1l0.1-1.1l0-1.3l0.1-0.2l0.1-1.7l0.1-1.3l0.1-0.6l0.1-2.2l0.1 0.3l0-1.4l0.1-1.8l0.1-1.9l0.1-0.5l0.1-0.6l0-2l0.1-0.8l0.1-0.4l0-0.7l0.1-0.4l0.1 0.1l0-3l0.1 1.3l0.1-2.9l0-1l0.1 0.3l0-2.2l0.1-0.8l0.1 0.1l0-2.3l0.1 0.5l0-1l0.1-1.3l0-2.8l0.1 2.7l0.1-3l0 0.7l0.1-2.6l0-1.3l0.1 2.3l0-4.4l0.1 1.5l0.1-2.3l0-0.8l0.1-1l0-0.2l0.1-1.9l0 1.1l0.1-3.9l0.1 0.2l0 0.1l0.1-0.3l0.1-1.1l0-2.5l0.1-0.7l0-0.6l0.1-1.3l0.1-1.1l0 1.7l0.1-1.3l0-3.4l0.1 0.6l0.1-1.1l0-1.5l0.1-1.4l0 1.7l0.1-1.7l0.1-1l0-1.6l0.1-1.7l0 0.7l0.1-3l0.1-0.9l0 0.3l0.1-1.3l0-0.6l0.1-1.1l0.1-2.2l0-0.6l0.1 0l0-1l0.1-0.3l0.1-1.2l0-1.1l0.1-1.2l0.1-0.1l0-0.4l0.1-3l0.1 0.9l0-2.3l0.1-0.2l0-1.4l0.1 0.2l0-2.6l0.1 0.2l0.1-1.5l0-2.7l0.1-0.1l0-0.2l0.1-1.7l0-0.3l0.1 0.8l0-1.7l0.1-1.7l0.1 2l0-3.2l0.1-0.6l0-1.9l0.1 0.4l0-2.4l0.1 0.5l0-1.8l0.1-0.9l0-0.5l0.1 0.3l0-3.4l0.1 0.3l0.1-0.9l0.1-2.8l0 0.5l0-0.9l0.1-1.3l0-0.4l0.1-1.7l0 1.6l0.1-2.9l0-0.8l0.1-0.9l0-0.9l0.1-0.7l0-0.4l0-2.2l0.1 1.2l0-4.4l0.1 1.3l0-1.4l0-1.4l0.1-1.4l0-0.2l0-0.6l0.1-1.6l0-0.7l0.1-1.9l0 0.7l0-1l0.1-0.5l0-1.8l0 0.2l0.1-2.2l0 0.7l0-1.4l0.1-0.4l0-1.4l0-0.2l0.1-1.8l0-1.1l0-1.4l0.1 0.1l0-2l0-0.4l0.1-0.8l0-0.2l0-1.8l0.1 0.6l0-2.3l0-0.5l0.1-1.7l0-0.4l0 0.8l0.1-3.4l0 0.9l0-2.2l0.1 0.6l0-1.5l0-0.7l0.1-1.3l0-2.3l0 1l0.1-2.2l0-1.5l0.1-1.3l0 0.4l0-0.9l0.1-1.5l0 0.1l0.1-1.1l0-2.2l0.1-1.2l0-0.9l0-1.8l0.1 0.1l0-1.9l0.1-1.5l0 0.1l0-0.8l0.1-1l0 0.8l0-0.9l0.1-1.2l0-1.4l0.1-1.2l0-2.1l0 2l0.1-2.9l0-0.1l0-0.3l0.1-2.3l0-1.2l0-0.1l0.1-3l0 0.1l0-0.4l0.1 0.4l0-1.3l0-2l0.1-0.1l0-2.1l0 0.7l0-3.1l0.1 0.4l0 0.1l0-1.6l0-1.1l0.1 0.7l0-3.3l0-0.9l0-1.3l0.1-0.7l0-0.8l0 1.2l0-3.4l0.1 0.3l0-2l0 0.6l0-2.3l0.1 0.8l0-1.9l0-1.8l0-0.8l0.1-0.7l0 1.7l0-2.2l0.1-1.2l0-0.6l0-0.4l0.1-1.8l0-0.3l0-1.6l0.1 0.3l0-2.7l0.1 0l0-0.3l0.1-2.5l0.1 0.7l0-1.9l0.1-0.4l0.1-2.4l0 0.2l0.1-1.2l0.1-0.2l0-2.5l0.1 1.6l0.1-3.4l0 1.3l0.1-2.4l0.1-1.5l0-0.1l0.1-1.1l0 1.5l0.1-2.1l0-1l0.1-0.8l0-3.1l0 1.6l0.1-2.3l0-0.4l0-1.9l0.1-0.7l0-0.7l0-1.1l0 0.7l0.1-2.1l0-0.9l0-1.7l0.1 0.2l0-2.2l0-0.2l0-0.4l0.1-1.1l0 0.7l0-2.6l0-0.8l0.1-0.7l0-0.3l0-2.2l0 1.7l0-2.1l0.1-0.8l0-0.9l0-1.5l0 0.1l0-2.5l0.1-1.2l0-0.9l0 0.4l0-1.4l0 0.4l0.1-2.2l0-0.7l0-0.5l0-2l0-1.4l0.1 0.6l0-0.9l0 1l0-4.2l0 1l0.1-2.6l0-0.5l0 0.4l0-2.4l0 1.6l0.1-2.1l0 0.4l0-2.9l0-0.8l0.1 0.9l0-3.1l0-0.9l0-0.4l0.1-1l0-0.7l0-1.1l0-0.7l0.1-1.2l0-1.1l0 0.1l0-1.6l0.1 0.7l0-2.5l0-1.3l0.1-1.4l0 0.9l0-1.5l0.1-2l0 1.1l0-4.1l0 0.5l0.1-0.1l0-1.6l0-2.3l0-0.1l0.1-0.1l0-2.9l0 1.6l0-0.9l0.1-2.1l0-0.5l0-2.1l0.1 0.7l0-1.5l0-1l0.1-1.2l0-1.4l0.1 0.1l0-1.6l0-1.9l0 0.9l0.1-1.6l0-1.4l0.1-0.8l0-2.5l0.1 0l0-1.6l0-0.3l0.1-1.6l0-1.4l0.1-1.6l0 0.8l0.1-1.6l0-0.2l0.1-2.2l0-0.5l0.1-0.6l0-1.6l0.1-0.3l0-1.5l0.1-0.4l0 0.5l0.1-1.9l0.1-2.7l0 0.1l0.1-1.1l0 0.2l0.1-0.4l0.1-1.9l0-0.9l0.1 0.1l0-2.1l0.1-1.5l0.1-0.4l0 1l0.1-3.5l0.1-1l0-0.8l0.1 1.3l0.1-1.8l0-1.6l0.1-1.3l0.1 0l0.1-2l0.1-2.3l0 3.5l0.1-3.5l0.1-1.9l0 0.1l0.1-1l0.1-1.7l0-0.6l0.1-1.2l0-2.1l0.1 0.9l0.1-0.9l0-0.9l0.1-1l0-1.6l0.1 0l0.1-1.2l0-1.2l0.1 0.2l0-2.4l0.1 1.6l0.1-2.6l0-0.9l0.1-0.4l0.1-3.1l0.1 1l0-2.5l0.1 0.3l0-0.5l0.1-2.1l0-0.7l0.1-1.1l0.1-0.8l0-0.8l0.1 0.6l0-3.2l0.1-0.2l0.1 0.7l0-3l0.1-0.8l0 0.2l0.1-2.1l0.1-1.9l0 1l0.1-1.1l0-2.1l0.1 0.5l0.1-1.8l0-0.1l0.1-2.4l0 1.1l0.1-2.2l0.1 1.2l0-1.4l0.1-1.4l0 0.2l0.1-1.8l0.1-2.6l0 0.4l0.1-1.1l0.1-0.6l0 0.6l0.1-2l0.1-1.1l0-0.2l0.1-1.2l0.1-2.9l0-0.5l0.1-0.7l0.1 0.8l0-0.2l0.1-2.2l0.1-2l0-0.7l0.1-1.3l0.1 1.4l0-3.9l0.1-0.9l0.1-0.1l0-0.1l0.1-0.1l0.1-2.3l0.1 0.7l0-2.3l0.1-1.1l0.1 0l0-1.1l0.1-0.2l0.1-1.6l0 0.6l0.1-2.3l0.1-1.2l0.1-0.7l0 0.2l0.1-3l0.1-0.2l0-1.7l0.1-0.8l0.1 0.1l0.1-0.8l0 0.6l0.1-2.9l0.1-0.9l0-0.9l0.1-1.5l0.1-1.2l0 0.7l0.1-1.4l0.1-1.5l0 0.3l0.1-1l0.1-1.3l0-1.5l0.1-0.2l0.1 0l0-1.5l0.1-1.5l0.1-0.7l0-1.6l0.1-1.7l0.1 1.9l0.1-2.1l0-1.2l0.1-0.4l0.1-0.3l0-2.1l0.1-0.5l0.1-1.8l0.1-1.2l0.2-1.3l0.1-2l0.2-0.9l0.1-1.3l0.2-2.1l0.2-1.6l0.2-2.2l0.1-1.5l0.2-1l0.2-1l0.2-3l0.2-0.8l0.2-1.6l0.3-1.8l0.2-1.9l0.3-2.1l0.3-0.2l0.3-2.4l0.4-0.8l0.4-1.7l0.8-2.3l1.3-2.7l1.6-2.4l1.7-0.9l2.1 0l2.5-0.8l2.6-0.5l2.7 0.1l2.6-0.3l2.5-0.7l2.5-0.2l2.5-0.2l2.5-0.2l2.5-0.3l2.5 0.2l2.5-0.5l2.5 0l2.4 0.1l2.5 0l2.5-0.5l2.5 0.4l2.5-0.1l2.5-0.1l2.5-0.2l2.5 0.1l2.5 0.2l2.5-0.3l2.5-0.2l2.5 0l2.5 0.2l2.5-0.4l2.5 0.1l2.5 0l2.5 0.5l2.5-0.6l2.5 0.3l2.5 0l2.5-0.3l2.5 0.2l2.5-0.3l2.5 0l2.5 0.3l2.5 0.2l2.5-0.1l2.5-0.3l2.5 0.4l2.5-0.1l2.5-0.3l2.5 0.3l2.5-0.3l2.5 0.5l2.5-0.4l2.5 0l2.5 0.2l2.5-0.3l2.5 0.4l2.5-0.2l2.5-0.2l2.5 0l2.5 0.7l2.5-0.5l2.5-0.4l2.5 0.4l2.5-0.1l2.5 0.1l2.5 0.3l2.5-0.7l2.5 0.8l2.5-0.4l2.5 0.1l2.5 0.1l2.5-0.4l2.5 0.3l2.5-0.1l2.5 0l2.5-0.4l2.5 0.4l2.5 0.3l2.5-0.6l2.5 0.3l2.5 0l2.5-0.3l2.5 0.2l2.5 0.2l2.5 0l2.5-0.2l2.5 0.3l2.5-0.6l2.5 0.6l2.5-0.2l2.5 0.6l2.5-0.5l2.5-0.4l2.5 0.2l2.5 0.2l2.5-0.3l2.5 0.4l2.5 0.1l2.5 0l2.5 0.1l2.5-0.3l2.5 0.2l2.5 0l2.5-0.2l2.5 0.4l2.5 0l2.5-0.1l2.5-0.1l2.5 0.2l2.5-0.1l2.5 0.4l2.5-0.1l2.5 0.1l2.5-0.2l2.5 0.3l2.5-0.1l2.5-0.2l2.5 0.6l2.5-0.4l2.5 0.2l2.5 0l2.5 0.4l2.5-0.3l2.5 0.2l2.5 0l2.5-0.3l2.5 0.1l2.5 0.2l2.5 0.4l2.5 0l2.5 0.4l2.5 0l2.5-0.2l2.5 0.3l2.5 0.1l2.5 0l2.5 0.3l2.5-0.4l2.5 0.3l2.5-0.4l2.5 0.3l2.5 0.1l2.5-0.5l2.5 0.6l2.5-0.2l2.5 0.2l2.5-0.1l2.5 0l2.5 0l2.5-0.2l2.5 0.4l2.5-0.4l2.5 0.2l2.5 0l2.5 0l2.5-0.4l2.5 0.2l2.5-0.4l2.5 0.3l2.5-0.1l2.5-0.1l2.5-0.1l2.5-0.1l2.5 0.1l2.5-0.1l2.5-0.3l2.5 0.3l2.5-0.1l2.5-0.5l2.5 0.3l2.5 0l2.5 0.2l2.5-0.6l2.5 0.1l2.5-0.3l2.5-0.1l2.5 0.2l2.5-0.2l2.5-0.1l2.5-0.9l2.5 0.4l2.5-0.3l2.5 0.3l2.5-0.3l2.5-0.5l2.5 0.2l2.5 0.1l2.5 0.1l2.5-0.7l2.5-0.2l2.5 0.4l2.5-0.2l2.5-0.2l2.5 0l2.5 0.6l2.5-0.7l2.5 0.1l2.5 0.1l2.5-0.3l2.5-0.3l2.5 0.2l2.5 0.2l2.5-0.3l2.5-0.1l2.5-0.2l2.5 0l2.5-0.1l2.5 0l2.5 0l2.5-0.2l2.5 0.3l2.5 0l2.5-0.3l0.4 0.3" fill="none" stroke="#0668EA" stroke-width="2.9" stroke-linejoin="round" />
<path d="M1504.4 1186.3l2.3 1.3l2.3 1.1l2.4 0.8l2.3 0.7l2.4 1.5l2.4 0.1l2.4 0.4l2.5 0.1l2.5 0.5l2.4 0.6l2.5 0.2l2.5 0.5l2.6 0.4l2.5-0.5l2.5 0l2.4 0.6l2.5-0.4l2.5 0l2.5-0.1l2.5-0.3l2.5-1.1l2.5 0.2l2.5-0.1l2.4-0.7l2.5-0.5l2.5-0.4l2.5-0.1l2.5-0.6l2.4-0.3l2.5-0.6l2.5 0.1l2.5-0.4l2.5-0.3l2.5 0.6l2.5-0.3l2.4 0.1l2.5 0.1l2.5-0.1l2.5 0.1l2.5 0.1l2.5 0.2l2.5-0.1l2.5-0.2l2.6-0.2l2.5 0.2l2.5 0l2.5 0.3l2.5-0.4l2.5-0.4l2.5 0.3l2.5 0l2.5-0.3l2.5 0.4l2.5 0l2.5 0.2l2.5-0.1l2.5 0.4l2.5-0.2l2.5 0.4l2.5 0.2l2.5 0l2.5 0l2.4 0.3l2.5 0.5l2.5 0.3l2.5 0l2.5 0.6l2.5-0.2l2.5 0.6l2.5 0.1l2.5 0.6l2.4 0.3l2.5 0.2l2.4 0.6l2.4 1.2l2.3 0.4l2.4 0.3l2.4 1.2l2.3 1l2.4 0.7l2.4 1l1.5 0.1l1.5 0.7l1.6 0.5l1.5 0.7l1.6-0.3l1.5 0.8l1.5-0.1l1.6 1.2l1.5 0.3l1.6 0.4l1.5 0.6l1.5-0.4l1.6 1.2l1.5 0.1l1.5 1.3l1.6 0l1.5 1l1.5 0.4l1.6-0.3l1.5 0.4l1.5 0.4l1.6 0.9l1.5 0.9l1.5-0.4l1.6 0.6l1.5-0.2l1.6 1.7l1.5 0l1.5 1.7l1.6-1.1l1.5 0.6l1.5 0.3l1.5 0.9l1.6 0.4l1.5 1l1.6 0l1.6 0.4l1.6 0.3l1.5 0.9l1.5 0.3l1.4 0.9l1.3 0.7l1.2 1.4l1 1.2l1 0.1l1 2l0.9 1.3l0.8 0.7l0.9 1.3l0.5 2.5l0.5 0.6l0.5-1l0.5 1.4l0.5 1.4l0.5 0.4l0.5 0.1l0.5 1.8l0.5 0.2l0.5 2.2l0.6 0.6l0.5-1.2l0.5 1.5l0.5 0.5l0.5-0.3l0.5 1.6l0.5 1.4l0.5-0.3l0.5 2l0.5 0.4l0.6 0.7l0.5 1.9l0.5-1.1l0.6 0.8l0.5 1.7l0.6 0.1l0.6 1.2l0.6-0.3l0.6 1.6l0.7 1.6l0.6-1.3l0.6 0.8l0.7 1.9l0.6 0.2l0.6-0.1l0.6 0.8l0.5 0.8l0.5 1.4l0.5 0.5l0.4-0.6l0.4 1.4l0.4 0.5l0.4 1.3l0.3 0.4l0.4 2.7l0.3 0.5l0.3 2.3l0.3-0.6l0.3 1.5l0.3-2l0.3 2.4l0.3-0.4l0.3 4.5l0.3-0.5l0.4 0.8l0.3-1.4l0.4 0.5l0.4 2.3l0.4 0.9l0.4-2.2l0.4 3.4l0.4 0.3l0.4 0.2l0.4 3.1l0.5-0.4l0.4 0.1l0.4 2.1l0.4 0.6l0.4 0.6l0.4 0.7l0.3 1.7l0.4-1.6l0.3 3.9l0.3-0.5l0.4 0.4l0.3 2.1l0.3-0.4l0.3 2.3l0.3-0.1l0.3 2l0.3-1.8l0.3 1.1l0.3 1.8l0.3 0.7l0.3 1.8l0.3 0.7l0.3 1.4l0.3-0.3l0.3 0l0.3 2.3l0.3 2.1l0.3-1.5l0.3 2.8l0.3 0.1l0.3 0.3l0.3 3l0.3-0.2l0.3-0.1l0.3 2.9l0.2-3.2l0.3 2.4l0.3 1.5l0.3 0.2l0.3-0.3l0.3 2.7l0.2-0.2l0.3 3l0.3-1.9l0.2 2.2l0.3 0.2l0.2 2.8l0.3 0l0.2 1.3l0.2-1l0.3 2.3l0.2-0.5l0.2 1.5l0.3 2.7l0.2-3.1l0.2 4.9l0.2 0.9l0.2-2.3l0.2 3l0.2 0.1l0.2 0.1l0.2 2.5l0.2 1.5l0.2 0.1l0.2 0.1l0.2 2.1l0.2 1.2l0.2-0.5l0.2 1.1l0.2 1.2l0.1 1.5l0.2-1.5l0.2 1.1l0.1 0.8l0.2 2.5l0.1-0.7l0.2 3l0.2 0.9l0.1-0.4l0.2 1.6l0.1 1.4l0.2 0.1l0.2 1.4l0.1-1.7l0.2 3.8l0.1-3l0.2 3.6l0.2 2.3l0.1-1.6l0.2 2.2l0.2-0.7l0.1 3.2l0.2 0.4l0.2 1.9l0.2 0.3l0.2 0.5l0.2 1l0.2-1.4l0.2 4.7l0.2-1.4l0.2 2l0.2-1.1l0.2 2.1l0.2 0.3l0.2 2.2l0.2-0.7l0.2 2l0.1 0.1l0.2 0.7l0.2 1.6l0.2 0.5l0.2 2l0.1 1l0.2 0.3l0.2-0.6l0.1 2.3l0.2 1l0.1 0.9l0.2 1.5l0.1 0.5l0.2 0.2l0.1 2.7l0.1-1.8l0.2 1.2l0.1 3l0.2-1.3l0.1 0.2l0.1 3.2l0.1 0.8l0.2-0.4l0.1 1.8l0.1 0.8l0.2 1.3l0.1 0.1l0.1 1.5l0.1 0.9l0.2 0.4l0.1 1.9l0.1-0.6l0.1 1.2l0.2 2.4l0.1-0.2l0.1 0.8l0.1 0.5l0.2 1.3l0.1 1.7l0.1-0.9l0.2 1.8l0.1 0.8l0.1 0.3l0.2 1.3l0.1 1.4l0.1 1.5l0.2-1.3l0.1 1.1l0.1 0.7l0.2 1.9l0.1-0.4l0.1 2.4l0.2 0.5l0.1 0.9l0.1 3.9l0.1-0.2l0.2 0l0.1 0.7l0.1 0.7l0.2 2l0.1 0.4l0.1-0.5l0.2 2.4l0.1-2.1l0.1 3.6l0.2 1.7l0.1 0.9l0.2 0.2l0.1-1.1l0.1 1.6l0.2 2.3l0.1 0.9l0.1 0l0.2 2.1l0.1 0.8l0.2 0l0.1 0.7l0.2 1.4l0.1-1.2l0.2 3.3l0.1 0.1l0.2 1.5l0.1 2.2l0.2-1.5l0.1 1.6l0.2 0.8l0.1 2.5l0.2-2.7l0.1 3.3l0.2 1.2l0.1-0.3l0.2 0.9l0.1 1.1l0.2 0.8l0.1 1l0.2 1.1l0.1 0.4l0.2 0.7l0.1 1l0.2 2.5l0.1-1.9l0.1 2.6l0.2 1.3l0.1 0l0.1 0.9l0.2 3.6l0.1-1.1l0.1 1.7l0.1-0.5l0.1 2.2l0.2 0.3l0.1 1.8l0.1-1.5l0.1 3.7l0.1-0.6l0.2 0.3l0.1-0.3l0.1 3l0.1 1.7l0.2-0.5l0.1 2.4l0.2-1.6l0.1 1.3l0.2 1.3l0.1 1.8l0.2 0.9l0.2-0.2l0.2 2l0.2-1.2l0.2 0.9l0.2 3.2l0.2 0.4l0.2 1.5l0.2-0.9l0.2-0.6l0.3 4.4l0.2-0.1l0.2-1.1l0.3 1.8l0.2 0.1l0.2 1.5l0.3 2.8l0.2 1.6l0.2-1.1l0.2 1.1l0.2 0.3l0.2 2.2l0.2-1.5l0.2 0.3l0.3 1.9l0.3 3.2l0.3-1.2l0.3 4l0.3 0.7l0.4-1.8l0.7-0.1l0.8 0.1l0.7 2.3l0.5-0.4l0.4 0.5l0.5-0.6l0.3-1.1l0.4-0.6l0.3-1.8l0.3-0.7l0.3-3.1l0.3 1.2l0.2-0.7l0.2-1.9l0.2-2.2l0.2 0.9l0.2-0.9l0.1-0.6l0.2-2.4l0.1 1.1l0.2-3.2l0.1 0.1l0.1-1.1l0.2-2.8l0.1 1.5l0.1-2.6l0.1 2.3l0.1-2.3l0.1-2.4l0.1 0.6l0.1-2.1l0.1 0.3l0.1-1.4l0.1-0.3l0.1-0.2l0.1-0.3l0.1-3.1l0.1-0.5l0.1-2l0 0.3l0.1-0.1l0.1-0.5l0.1-4.1l0.1 2.5l0-3.7l0.1 0.4l0.1-0.8l0.1-2.8l0-1l0.1 0.8l0.1-0.3l0-1.1l0.1-2.4l0.1-0.1l0 0.3l0.1-1.4l0.1-1.6l0 1.1l0.1-2.2l0-2.1l0.1-0.2l0.1-1.2l0 0.4l0.1-0.8l0.1-1.4l0.1-3.5l0 0.8l0.1-1.1l0-1.3l0.1-1.1l0-0.9l0.1-1.9l0 0.2l0.1-0.3l0-0.2l0.1-2l0.1-1.4l0-0.9l0.1-1l0 0.2l0.1-0.8l0-1l0.1 1.3l0-5l0.1 0.7l0-1.4l0.1 1.1l0-1.9l0.1-1.4l0-0.5l0.1 0l0-2.2l0.1-2.1l0-0.3l0.1-1.5l0 0.5l0.1-3l0 0.3l0 1l0.1-0.5l0-2.2l0.1-1.3l0-0.1l0.1-1.4l0-1.7l0.1 0.3l0-1.7l0 0.6l0.1-2.9l0 1.5l0.1-2.5l0 1.5l0.1-4.3l0-0.5l0 0.4l0.1-2.1l0 0.9l0.1-2.7l0 0.3l0.1-1.3l0-2.4l0 1.1l0.1-0.9l0-2.4l0.1 0.2l0-1.4l0.1 0l0-2.7l0-1l0.1-0.5l0-1.3l0.1-0.9l0-0.8l0.1 1.6l0-1.2l0-0.7l0.1-1.1l0-1.5l0.1-2.9l0 0.4l0.1 0.7l0-1.9l0-0.8l0.1-0.6l0-0.2l0.1-2.7l0-0.5l0.1-1.1l0-1.1l0.1-0.4l0-1.7l0-1.9l0.1 0.5l0-0.4l0.1-1.2l0-0.5l0.1 0l0-2.7l0.1-1.3l0 0.4l0-1l0.1-1.4l0-1.4l0.1-0.5l0-2l0.1-0.6l0 0.1l0.1-1.6l0-0.5l0-1l0.1 0.1l0.1-1l0-1.7l0.1-2.2l0 0.2l0.1-0.8l0-3.4l0-1l0.1 1.4l0-2.7l0.1 1.5l0-0.7l0.1-1.5l0-1l0.1-1.6l0-0.3l0.1-1.9l0 0.1l0.1-0.9l0-0.6l0.1-2.8l0-0.8l0.1-1.4l0 0.2l0.1-2.7l0 2.1l0.1-3.4l0-0.6l0 0.9l0.1-1l0-1.3l0.1-1l0-1.2l0.1-0.2l0-1.2l0.1-1.1l0-2.6l0.1 0.9l0 0.5l0.1-1.8l0-3.3l0.1 1.8l0 0.4l0.1-3.5l0-1.9l0.1 0.6l0-1.1l0.1-0.4l0-1.8l0.1-0.3l0-1.3l0.1-0.2l0-2.1l0.1-0.6l0-1l0.1-0.8l0-1.5l0.1 1.3l0-2.4l0.1 0.9l0-2.7l0.1-2.8l0 0.1l0.1 0.1l0-0.7l0.1-0.7l0-1.3l0.1-1.1l0-1.2l0.1-1.5l0-0.4l0.1 1l0-0.9l0.1-0.8l0-2l0.1 1.1l0-4.5l0 1.4l0.1-1.3l0-0.3l0.1-1.1l0-1.4l0-0.7l0.1-1.6l0-2.1l0 0.4l0.1-0.1l0-2l0-0.5l0-0.9l0.1 1.5l0-3.5l0-0.5l0-1.6l0.1-1.9l0 0.9l0-0.4l0-2.3l0.1-0.4l0-1.3l0-1l0-0.8l0.1-0.9l0-0.8l0 0.1l0-2.8l0-1.2l0.1-0.5l0-0.7l0 0.1l0-1.9l0.1 0.4l0-2.9l0-0.3l0-2.7l0 0.9l0.1 0.7l0-3.3l0 0.2l0.1-0.8l0-0.6l0-0.5l0-0.8l0.1-2.7l0.1-0.6l0-1.4l0-0.8l0.1-1.1l0-0.2l0.1-1.6l0-2l0.1-0.9l0 0.1l0.1-1.3l0.1-1.1l0-1.1l0.1-1l0-0.8l0.1-0.7l0.1-1.1l0 0.1l0.2-2.2l0.1-2l0.1-1.4l0.2-2.9l0.1-1.4l0.2-0.3l0.2-2.2l0.1-0.8l0.2-2.1l0.2-1.7l0.2-1.2l0.2-1.6l0.3-2l0.2-0.9l0.3-2.4l0.4-1.2l0.4-1.6l0.4-1.3l1-2l2-2l2.4-1.1l2.2-0.8l2.4-0.4l2.5-0.5l2.5-0.1l2.6-0.2l2.5-0.5l2.5 0.1l2.5-0.6l2.5-0.2l2.5-0.8l2.5-0.3l2.5 0.5l2.5-0.5l2.5 0.1l2.5-0.1l2.5 0.4l2.5-0.4l2.5-0.2l2.5 0.3l2.5-0.2l2.5 0.2l2.5 0.1l2.5-0.5l2.5 0.5l2.5-0.3l2.5-0.5l2.5 0.3l2.5 0.5l2.5-0.5l2.5 0.1l2.5-0.3l2.5 0l2.5 0.1l2.5 0.1l2.5 0l2.5-0.3l2.5-0.1l2.5 0.1l2.5-0.1l2.5 0.5l2.5-0.3l2.5 0.1l2.5-0.1l2.5-0.1l2.5 0.1l2.5-0.1l2.5 0.2l2.5 0l2.5-0.1l2.5 0.1l2.5-0.2l2.5-0.1l2.5 0.4l2.5-0.4l2.5-0.2l2.5 0.4l2.5-0.1l2.5 0l2.5-0.1l2.5-0.1l2.5 0.5l2.5-0.4l2.5 0.3l2.5 0l2.5-0.2l2.5 0.1l2.5-0.3l2.5 0.5l2.5-0.2l2.5-0.1l2.5 0.1l2.5-0.1l2.5 0.5l2.5-0.5l2.5-0.3l2.5 0l2.5 0.4l2.5 0.3l2.5-0.7l2.5 0.4l2.5-0.1l2.5 0.1l2.5 0.3l2.5-0.9l2.5 0.4l2.5 0.5l2.5-0.6l2.5 0.4l2.5-0.2l2.5 0l2.5-0.4l2.5 0.7l2.5-0.6l2.5 0.4l2.5-0.1l2.5 0l2.5-0.1l2.5-0.3l2.5 0.8l2.5-0.5l2.5 0.1l2.5 0.5l2.5-0.6l2.5 0.2l2.5-0.1l2.5 0l2.5-0.2l2.5 0.3l2.5 0l2.5 0.1l2.5-0.5l2.5 0.3l2.5 0.1l2.5 0.1l2.5 0.1l2.5 0l2.5-0.5l2.5-0.1l2.5 0.5l2.5-0.2l2.5 0.1l2.5 0l2.5 0.1l2.5 0.1l2.5-0.3l2.5 0.4l2.5 0l2.5-0.8l2.5 0.5l2.5-0.2l2.5 0.4l2.5-0.3l2.5-0.3l2.5 0.6l2.5-0.5l2.5 0.1l2.5 0.3l2.5-0.3l2.5 0.2l2.5-0.3l2.5 0l2.5-0.1l2.5 0.3l2.5-0.1l2.5-0.1l2.5 0.1l2.5 0.2l2.5-0.1l2.5 0.1l2.5 0.2l2.5-0.2l2.5-0.5l2.5 1l2.5-0.6l2.5-0.1l2.5-0.2l2.5 0l2.5 0.1l2.5 0l2.5 0.3l2.5 0.4l2.5-0.5l2.5 0.1l2.5 0.1l2.5 0l2.5-0.3l2.5 0.2l2.5-0.1l2.5-0.1l2.5 0.1l2.5-0.4l2.5 0.6l2.5-0.1l2.5 0.2l2.5-0.2l2.5 0l2.5-0.4l2.5 0.5l2.5-0.2l2.5 0l2.5-0.3l2.5 0.3l2.5-0.1l2.5-0.3l2.5 0.5l2.5-0.5l2.5 0l2.5 0.2l2.5 0.1l2.5-0.3l2.5 0.2l2.5 0.1l2.5-0.2l2.5 0l2.5 0.1l2.5-0.2l2.5-0.2l2.5 0.4l2.5-0.1l2.5-0.3l2.5-0.2l2.5 0.4l2.5-0.3l2.5 0.3l2.5-0.4l2.5-0.1l2.5 0.3l2.5-0.4l2.5 0.3l2.5-0.1l0.6-0.4" fill="none" stroke="#06AA5A" stroke-width="2.9" stroke-linejoin="round" />
</g>
<text x="1694.70" y="1876.50" font-family="'Liberation Serif', serif" font-size="46" font-weight="bold" font-style="normal" text-anchor="middle" fill="#000" >200</text>
<text x="1926.13" y="1876.50" font-family="'Liberation Serif', serif" font-size="46" font-weight="bold" font-style="normal" text-anchor="middle" fill="#000" >400</text>
<text x="2157.57" y="1876.50" font-family="'Liberation Serif', serif" font-size="46" font-weight="bold" font-style="normal" text-anchor="middle" fill="#000" >600</text>
<text x="2389.00" y="1876.50" font-family="'Liberation Serif', serif" font-size="46" font-weight="bold" font-style="normal" text-anchor="middle" fill="#000" >800</text>
<text x="1958.70" y="1958.10" font-family="'Liberation Serif', serif" font-size="62.5" font-weight="bold" text-anchor="middle"><tspan font-style="italic">T</tspan>/°C</text>
<line x1="2018.90" y1="1413.50" x2="2096.80" y2="1413.50" stroke="#484848" stroke-width="1.8"/>
<text x="2107.50" y="1426.50" font-family="'Liberation Serif', serif" font-size="48.4" font-weight="normal" font-style="normal" text-anchor="start" fill="#000" >PLA2300</text>
<line x1="2018.90" y1="1473.20" x2="2096.80" y2="1473.20" stroke="#FC3535" stroke-width="2.8"/>
<text x="2107.50" y="1485.90" font-family="'Liberation Serif', serif" font-size="48.4" font-weight="normal" font-style="normal" text-anchor="start" fill="#000" >PLA3200</text>
<line x1="2018.90" y1="1532.40" x2="2096.80" y2="1532.40" stroke="#0668EA" stroke-width="2.8"/>
<text x="2107.50" y="1545.80" font-family="'Liberation Serif', serif" font-size="48.4" font-weight="normal" font-style="normal" text-anchor="start" fill="#000" >PLA4700</text>
<line x1="2018.90" y1="1591.40" x2="2096.80" y2="1591.40" stroke="#06AA5A" stroke-width="2.8"/>
<text x="2107.50" y="1604.60" font-family="'Liberation Serif', serif" font-size="48.4" font-weight="normal" font-style="normal" text-anchor="start" fill="#000" >PLA5500</text>
<rect x="1334.1" y="1011.0" width="97.8" height="99.0" fill="#ff2e00"/>
<text x="1383.00" y="1082.80" font-family="'Liberation Sans', sans-serif" font-size="76" font-weight="normal" font-style="normal" text-anchor="middle" fill="#fff" >d</text>
</g>
<g id="panel-e">
<line x1="340.95" y1="2836.40" x2="340.95" y2="2829.10" stroke="#000" stroke-width="1.9"/>
<line x1="458.70" y1="2836.40" x2="458.70" y2="2822.40" stroke="#000" stroke-width="2.9"/>
<line x1="576.45" y1="2836.40" x2="576.45" y2="2829.10" stroke="#000" stroke-width="1.9"/>
<line x1="694.20" y1="2836.40" x2="694.20" y2="2822.40" stroke="#000" stroke-width="2.9"/>
<line x1="811.95" y1="2836.40" x2="811.95" y2="2829.10" stroke="#000" stroke-width="1.9"/>
<line x1="929.70" y1="2836.40" x2="929.70" y2="2822.40" stroke="#000" stroke-width="2.9"/>
<line x1="1047.45" y1="2836.40" x2="1047.45" y2="2829.10" stroke="#000" stroke-width="1.9"/>
<line x1="259.00" y1="2803.40" x2="273.00" y2="2803.40" stroke="#000" stroke-width="2.8"/>
<line x1="259.00" y1="2736.90" x2="266.30" y2="2736.90" stroke="#000" stroke-width="2.0"/>
<line x1="259.00" y1="2670.40" x2="273.00" y2="2670.40" stroke="#000" stroke-width="2.8"/>
<line x1="259.00" y1="2603.90" x2="266.30" y2="2603.90" stroke="#000" stroke-width="2.0"/>
<line x1="259.00" y1="2537.40" x2="273.00" y2="2537.40" stroke="#000" stroke-width="2.8"/>
<line x1="259.00" y1="2470.90" x2="266.30" y2="2470.90" stroke="#000" stroke-width="2.0"/>
<line x1="259.00" y1="2404.40" x2="273.00" y2="2404.40" stroke="#000" stroke-width="2.8"/>
<line x1="259.00" y1="2337.90" x2="266.30" y2="2337.90" stroke="#000" stroke-width="2.0"/>
<line x1="259.00" y1="2271.40" x2="273.00" y2="2271.40" stroke="#000" stroke-width="2.8"/>
<line x1="259.00" y1="2204.90" x2="266.30" y2="2204.90" stroke="#000" stroke-width="2.0"/>
<line x1="259.00" y1="2138.40" x2="273.00" y2="2138.40" stroke="#000" stroke-width="2.8"/>
<line x1="259.00" y1="2104.90" x2="259.00" y2="2837.90" stroke="#000" stroke-width="2"/>
<line x1="1165.50" y1="2104.90" x2="1165.50" y2="2837.90" stroke="#000" stroke-width="3"/>
<line x1="258.00" y1="2106.40" x2="1167.00" y2="2106.40" stroke="#000" stroke-width="3"/>
<line x1="258.00" y1="2836.40" x2="1167.00" y2="2836.40" stroke="#000" stroke-width="3"/>
<clipPath id="clip-e"><rect x="258.0" y="2106.4" width="906.0" height="731.5"/></clipPath>
<g clip-path="url(#clip-e)">
<path d="M258.6 2136.9l3.1 0.1l3 0l3 0.1l3 0l3 0l3 0.1l3 0l3 0.1l3 0.1l3 0l3 0.1l3.1 0.1l3 0l3 0.1l3 0.1l3 0.1l3 0.1l3 0.1l3 0.1l3 0.1l3 0.1l3 0.1l3 0.1l3 0.1l3.1 0.2l3 0.1l3 0.1l3 0.2l3 0.2l3 0.2l3 0.2l3 0.2l3 0.2l3 0.2l3 0.2l3 0.3l3 0.2l3 0.2l3 0.2l3 0.2l3 0.2l3 0.2l3 0.1l3 0.2l3 0.2l3 0.2l3 0.1l3 0.2l3 0.2l3 0.2l3.1 0.2l3 0.2l3 0.2l3 0.3l3 0.2l3 0.3l3 0.2l3 0.3l3 0.3l2.9 0.4l3 0.3l3 0.4l3 0.4l3 0.5l2.9 0.5l3 0.6l3 0.7l2.9 0.7l2.9 0.7l2.9 0.8l2.8 0.9l2.9 1l2.8 1.1l2.8 1.2l2.7 1.3l2.7 1.3l2.6 1.4l2.5 1.6l2.5 1.8l2.5 1.8l2.4 1.8l2.4 1.8l2.4 1.8l2.4 1.8l2.4 1.9l2.4 1.8l2.3 2l2.3 1.9l2.1 2.1l2.2 2.1l2 2.2l2.1 2.3l1.9 2.4l1.7 2.4l1.7 2.4l1.5 2.6l1.4 2.7l1.4 2.7l1.4 2.7l1.3 2.7l1.3 2.7l1.2 2.8l1.2 2.7l1 2.9l1 2.8l0.9 2.9l0.8 2.9l0.8 2.9l0.8 2.9l0.8 2.9l0.8 2.9l0.7 2.9l0.7 2.9l0.7 3l0.6 2.9l0.5 3l0.5 2.9l0.5 3l0.5 3l0.4 3l0.5 2.9l0.5 3l0.6 3l0.5 2.9l0.4 3l0.5 3l0.5 3l0.4 2.9l0.4 3l0.5 3l0.4 3l0.4 3l0.4 2.9l0.4 3l0.5 3l0.4 3l0.4 3l0.5 2.9l0.4 3l0.4 3l0.4 3l0.4 3l0.3 3l0.4 2.9l0.4 3l0.3 3l0.4 3l0.4 3l0.3 3l0.4 3l0.4 2.9l0.4 3l0.3 3l0.4 3l0.4 3l0.4 3l0.3 3l0.4 3l0.4 2.9l0.4 3l0.3 3l0.4 3l0.4 3l0.3 3l0.4 3l0.4 2.9l0.4 3l0.3 3l0.4 3l0.4 3l0.4 3l0.3 3l0.4 2.9l0.4 3l0.4 3l0.3 3l0.4 3l0.4 3l0.3 3l0.4 2.9l0.4 3l0.4 3l0.4 3l0.3 3l0.4 3l0.4 3l0.3 3l0.3 3l0.3 3l0.3 2.9l0.3 3l0.4 3l0.3 3l0.4 3l0.4 3l0.6 2.9l0.6 3l0.6 2.9l0.7 3l0.6 2.9l0.5 3l0.4 3l0.5 2.9l0.3 3l0.4 3l0.3 3l0.4 3l0.3 3l0.3 3l0.4 3l0.3 3l0.3 3l0.4 2.9l0.3 3l0.3 3l0.3 3l0.3 3l0.4 3l0.3 3l0.3 3l0.3 3l0.3 3l0.4 3l0.3 3l0.4 2.9l0.3 3l0.4 3l0.3 3l0.4 3l0.3 3l0.4 3l0.3 3l0.4 3l0.3 2.9l0.4 3l0.3 3l0.4 3l0.4 3l0.3 3l0.4 3l0.4 3l0.3 3l0.4 2.9l0.4 3l0.4 3l0.4 3l0.5 3l0.4 2.9l0.5 3l0.5 3l0.4 2.9l0.5 3l0.5 3l0.5 3l0.6 2.9l0.5 3l0.5 3l0.5 2.9l0.5 3l0.6 3l0.5 2.9l0.6 3l0.6 2.9l0.7 2.9l0.7 3l0.8 2.9l0.8 2.9l0.8 2.9l0.9 2.9l0.9 2.8l0.9 2.9l1 2.8l1.1 2.8l1.1 2.8l1.2 2.8l1.3 2.7l1.3 2.8l1.3 2.7l1.5 2.7l1.5 2.5l1.7 2.4l1.9 2.4l2.1 2.3l2.3 2l2.3 1.8l2.6 1.5l2.7 1.3l2.8 1.2l2.9 1l2.9 0.7l2.9 0.7l2.9 0.7l3 0.5l3 0.5l3 0.4l3 0.4l3 0.3l3 0.3l3 0.3l3 0.3l3 0.2l3 0.3l3 0.3l2.9 0.3l3 0.3l3 0.3l3 0.4l3 0.3l3 0.3l3 0.3l3 0.2l3 0.3l3 0.3l3 0.2l3 0.3l3 0.2l3 0.3l3 0.2l3 0.2l3 0.3l3 0.2l3 0.2l3 0.2l3 0.2l3 0.2l3 0.2l3 0.2l3 0.2l3 0.2l3 0.2l3 0.2l3 0.2l3 0.2l3 0.2l3 0.2l3 0.1l3.1 0.2l3 0.2l3 0.2l3 0.2l3 0.1l3 0.2l3 0.2l3 0.1l3 0.2l3 0.2l3 0.1l3 0.2l3 0.2l3 0.1l3 0.2l3 0.1l3 0.2l3 0.1l3 0.2l3.1 0.1l3 0.1l3 0.2l3 0.1l3 0.2l3 0.1l3 0.2l3 0.1l3 0.2l3 0.1l3 0.2l3 0.1l3 0.2l3 0.2l3 0.2l3 0.2l3 0.2l3 0.1l3 0.2l3 0.2l3.1 0.3l3 0.2l3 0.2l3 0.2l3 0.2l3 0.2l3 0.2l3 0.2l3 0.3l3 0.2l3 0.2l3 0.3l3 0.2l3 0.2l3 0.3l3 0.2l3 0.3l3 0.2l3 0.3l3 0.2l3 0.3l3 0.2l3 0.2l3 0.3l3 0.2l3 0.2l3 0.3l3 0.2l3 0.2l3 0.3l3 0.2l3 0.3l3 0.2l3 0.3l3 0.3l3 0.3l2.9 0.3l3 0.3l3 0.3l3 0.3l3 0.3l3 0.3l3 0.3l3 0.3l3 0.3l3 0.4l3 0.3l3 0.3l3 0.3l3 0.3l3 0.3l3 0.3l3 0.2l3 0.3l3 0.3l3 0.2l3 0.3l3 0.2l3 0.2l3 0.3l3 0.2l3 0.2l3 0.3l3 0.2l3 0.2l3 0.2l3 0.3l3 0.2l3 0.2l3 0.2l3 0.2l3 0.2l3 0.2l3 0.2l3 0.2l3 0.1l3 0.2l3 0.2l3 0.1l3 0.2l3 0.2l3 0.1l3 0.2l3 0.1l3 0.2l3 0.1l3.1 0.1" fill="none" stroke="#000000" stroke-width="4.0" stroke-linejoin="round" />
<path d="M258.6 2138.4l3 0.5l3 0.5l3 0.4l2.9 0.5l3 0.5l3 0.4l3 0.5l2.9 0.4l3 0.4l3 0.5l3 0.4l2.9 0.5l3 0.4l3 0.4l3 0.4l3 0.3l3 0.4l3 0.3l3 0.4l3 0.3l3 0.3l3 0.3l3 0.1l3 0.1l3 0l3 0l3 0l3 0l3 0l3 0l3 0l3 0l3.1 0l3 0l3 0.1l3 0.2l3 0.3l3 0.4l3 0.3l2.9 0.5l3 0.4l3 0.3l3 0.4l3 0.5l3 0.5l3 0.5l2.9 0.6l2.9 0.6l2.9 0.8l2.8 1l2.8 1.1l2.8 1.3l2.7 1.3l2.7 1.3l2.7 1.4l2.7 1.4l2.6 1.5l2.5 1.6l2.6 1.7l2.5 1.6l2.4 1.8l2.4 1.8l2.4 1.8l2.3 2l2.3 1.9l2.3 2l2.2 2l2.2 2.1l2.2 2.1l2.1 2.2l2 2.2l2 2.2l1.9 2.3l1.9 2.4l1.9 2.4l1.7 2.4l1.8 2.5l1.6 2.5l1.6 2.5l1.6 2.6l1.5 2.6l1.5 2.6l1.4 2.7l1.4 2.6l1.4 2.7l1.3 2.7l1.3 2.7l1.3 2.8l1.2 2.7l1.2 2.8l1.1 2.8l1.2 2.8l1.1 2.7l1.1 2.8l1.2 2.8l1.2 2.8l1.2 2.7l1.1 2.8l1.2 2.8l1.1 2.8l1.1 2.8l1 2.8l1 2.9l1 2.8l1 2.9l1 2.8l1 2.8l1.1 2.8l1.1 2.8l1.1 2.8l1.2 2.8l1.2 2.8l1.2 2.7l1.1 2.8l1.2 2.8l1.2 2.8l1.1 2.7l1.2 2.8l1.1 2.8l1.2 2.8l1.2 2.7l1.1 2.8l1.2 2.8l1.1 2.8l1.2 2.7l1.2 2.8l1.3 2.7l1.3 2.8l1.3 2.7l1.3 2.7l1.4 2.6l1.4 2.7l1.3 2.7l1.4 2.7l1.3 2.7l1.4 2.7l1.3 2.7l1.4 2.7l1.3 2.7l1.4 2.6l1.3 2.7l1.4 2.7l1.3 2.7l1.3 2.7l1.4 2.7l1.3 2.7l1.4 2.7l1.4 2.7l1.3 2.7l1.4 2.6l1.4 2.7l1.3 2.7l1.2 2.8l1.3 2.7l1.1 2.8l1.2 2.8l1.1 2.8l1.1 2.7l1.2 2.8l1.2 2.8l1.1 2.8l1.2 2.7l1.2 2.8l1.2 2.8l1.1 2.8l1 2.8l1 2.8l1 2.9l0.9 2.9l0.9 2.8l0.9 2.9l0.9 2.9l0.9 2.8l0.9 2.9l0.9 2.9l0.8 2.9l0.8 2.9l0.7 2.9l0.7 3l0.8 2.9l0.8 2.9l1 2.8l0.9 2.9l0.8 2.9l0.8 2.9l0.7 2.9l0.7 2.9l0.7 3l0.7 2.9l0.6 2.9l0.7 3l0.6 2.9l0.6 3l0.6 2.9l0.6 3l0.6 2.9l0.6 3l0.6 2.9l0.5 3l0.6 2.9l0.5 3l0.6 3l0.5 2.9l0.5 3l0.6 3l0.5 2.9l0.5 3l0.5 3l0.5 2.9l0.5 3l0.5 3l0.4 2.9l0.5 3l0.5 3l0.5 2.9l0.5 3l0.5 3l0.5 2.9l0.5 3l0.5 3l0.5 2.9l0.5 3l0.5 3l0.5 2.9l0.5 3l0.5 3l0.5 3l0.5 2.9l0.5 3l0.4 3l0.5 2.9l0.5 3l0.4 3l0.5 3l0.5 2.9l0.5 3l0.5 3l0.5 2.9l0.5 3l0.5 3l0.5 3l0.5 2.9l0.5 3l0.5 2.9l0.5 3l0.6 3l0.5 2.9l0.5 3l0.6 3l0.5 2.9l0.6 3l0.6 2.9l0.6 3l0.6 2.9l0.7 3l0.7 2.9l0.8 2.9l0.7 2.9l0.8 2.9l0.8 2.9l0.8 2.9l0.7 2.9l0.8 3l0.7 2.9l0.9 2.9l0.8 2.8l0.9 3l1 2.9l1 2.9l1.3 2.6l1.6 2.4l2.2 2.3l2.4 1.7l2.6 1.2l2.9 1l3 0.8l3 0.7l2.9 0.6l3 0.5l3 0.4l3 0.4l3 0.4l2.9 0.3l3 0.3l3 0.3l3 0.3l3 0.2l3 0.2l3 0.2l3 0.2l3 0.3l3.1 0.2l3 0.2l3 0.2l3 0.3l3 0.2l3 0.2l3 0.3l3 0.2l3 0.2l3 0.2l3 0.3l3 0.2l3 0.2l3 0.2l3 0.1l3 0.2l3 0.2l3 0.2l3 0.2l3 0.1l3 0.2l3 0.2l3 0.1l3 0.2l3 0.1l3 0.2l3 0.1l3 0.2l3.1 0.1l3 0.2l3 0.1l3 0.2l3 0.1l3 0.2l3 0.1l3 0.1l3 0.2l3 0.1l3 0.1l3 0.2l3 0.1l3 0.1l3.1 0.1l3 0.2l3 0.1l3 0.1l3 0.1l3 0.1l3 0.1l3 0.2l3 0.1l3 0.1l3 0.1l3 0.1l3 0.1l3.1 0.2l3 0.1l3 0.1l3 0.1l3 0.2l3 0.1l3 0.1l3 0.1l3 0.2l3 0.1l3 0.1l3 0.1l3 0.2l3.1 0.1l3 0.2l3 0.1l3 0.2l3 0.2l3 0.2l3 0.2l3 0.2l3 0.3l3 0.3l3 0.3l3 0.3l3 0.3l2.9 0.4l3 0.3l3 0.4l3 0.4l3 0.5l2.9 0.5l3 0.5l3 0.6l2.9 0.5l3 0.6l2.9 0.5l3 0.5l3 0.5l3 0.4l2.9 0.5l3 0.4l3 0.4l3 0.4l3 0.4l3 0.4l2.9 0.3l3 0.4l3 0.3l3 0.3l3 0.3l3 0.2l3 0.3l3 0.3l3 0.2l3 0.2l3 0.2l3 0.2l3 0.2l3 0.2l3 0.2l3 0.2l3 0.1l3.1 0.2l3 0.1l3 0.2l3 0.1l3 0.2l3 0.1l3 0.1l3 0.2l3 0.1l3 0.1l3 0.1l3 0.1l3 0.1l3.1 0l3 0.1l3 0.1l3 0.1l3 0.1l3 0.1l3 0.1l3 0l3 0.1l3 0.1l3 0l3.1 0.1l3 0.1l3 0l3 0.1l3 0l3 0.1l3 0l3 0.1l3 0l3 0l3.1 0" fill="none" stroke="#FF0000" stroke-width="4.0" stroke-linejoin="round" />
<path d="M258.6 2137.5l3 0.1l3.1 0.1l3 0.2l3 0.1l3 0.1l3 0.1l3 0.1l3 0.2l3 0.1l3 0.1l3 0.1l3 0.2l3 0.1l3.1 0.1l3 0.2l3 0.1l3 0.1l3 0.2l3 0.1l3 0.2l3 0.1l3 0.2l3 0.1l3 0.2l3 0.1l3 0.2l3 0.2l3 0.1l3.1 0.2l3 0.1l3 0.2l3 0.1l3 0.2l3 0.1l3 0.2l3 0.1l3 0.1l3 0.1l3 0.1l3 0.2l3 0.1l3.1 0.1l3 0.1l3 0.1l3 0.1l3 0.1l3 0.1l3 0.2l3 0.1l3 0.2l3 0.1l3 0.2l3 0.2l3 0.2l3 0.2l3 0.3l3 0.2l3 0.2l3 0.3l3 0.3l3 0.2l3 0.3l3 0.3l3 0.3l3 0.4l3 0.3l3 0.4l3 0.4l3 0.4l3 0.5l2.9 0.5l3 0.5l3 0.5l2.9 0.6l2.9 0.6l2.9 0.8l3 0.8l2.8 0.8l2.9 0.9l2.9 1l2.8 0.9l2.9 1.1l2.8 1l2.8 1.2l2.8 1.2l2.7 1.2l2.7 1.3l2.7 1.4l2.6 1.4l2.6 1.6l2.6 1.6l2.5 1.6l2.4 1.8l2.5 1.8l2.4 1.9l2.3 2l2.1 2.1l1.9 2.2l1.6 2.5l1.5 2.6l1.4 2.7l1.4 2.8l1.2 2.7l1.2 2.8l1.2 2.8l1.1 2.8l1 2.8l1 2.8l1 2.9l0.9 2.9l0.9 2.9l0.8 2.9l0.7 2.9l0.7 2.9l0.7 2.9l0.6 3l0.6 2.9l0.6 3l0.6 2.9l0.6 3l0.6 2.9l0.5 3l0.6 3l0.5 2.9l0.6 3l0.5 2.9l0.5 3l0.5 3l0.6 2.9l0.5 3l0.5 3l0.5 2.9l0.5 3l0.4 3l0.5 3l0.5 2.9l0.4 3l0.4 3l0.5 3l0.4 2.9l0.4 3l0.5 3l0.4 3l0.4 3l0.4 3l0.4 2.9l0.4 3l0.4 3l0.4 3l0.4 3l0.4 3l0.4 2.9l0.3 3l0.4 3l0.4 3l0.3 3l0.4 3l0.3 3l0.4 3l0.3 3l0.4 3l0.3 2.9l0.3 3l0.3 3l0.3 3l0.4 3l0.3 3l0.3 3l0.2 3l0.3 3l0.3 3l0.3 3l0.3 3l0.3 3l0.3 3l0.3 3l0.3 3l0.3 3l0.3 3l0.3 3l0.3 3l0.3 2.9l0.3 3l0.3 3l0.3 3l0.3 3l0.3 3l0.3 3l0.3 3l0.3 3l0.3 3l0.3 3l0.3 3l0.3 3l0.3 3l0.4 3l0.3 3l0.3 3l0.4 3l0.3 2.9l0.4 3l0.4 3l0.3 3l0.4 3l0.4 3l0.4 3l0.3 3l0.4 2.9l0.2 3l0.3 3l0.2 3l0.3 3l0.2 3l0.2 3l0.2 3l0.3 3.1l0.2 3l0.2 3l0.3 3l0.2 3l0.3 3l0.2 3l0.3 3l0.2 3l0.3 3l0.2 3l0.3 3l0.3 3l0.2 3l0.3 3l0.2 3l0.3 3l0.2 3l0.3 3l0.2 3l0.3 3l0.2 3l0.3 3l0.2 3l0.3 3l0.2 3l0.3 3l0.2 3l0.3 3l0.2 3l0.3 3l0.2 3l0.3 3l0.2 3l0.3 3l0.2 3l0.3 3l0.2 3l0.2 3l0.3 3l0.2 3l0.3 3l0.2 3l0.3 3l0.2 3l0.3 3l0.2 3l0.3 3l0.3 3l0.2 3l0.3 3l0.2 2.9l0.3 3l0.3 3l0.2 3l0.3 3l0.3 3l0.3 3l0.3 3l0.3 3l0.3 3l0.3 3l0.3 3l0.3 3l0.3 3l0.4 3l0.4 3l0.4 3l0.5 2.9l0.5 3l0.5 3l0.6 2.9l0.7 3l0.7 2.9l0.8 2.9l0.8 3l0.9 2.9l1 2.9l1.2 2.7l1.4 2.5l1.9 2.4l2.3 2.2l2.4 1.7l2.6 1.2l2.9 1.1l3 0.8l2.9 0.6l3 0.5l3 0.4l3 0.3l3 0.3l3 0.3l3 0.2l3 0.2l3 0.2l3 0.1l3 0.2l3 0.1l3 0.1l3.1 0.2l3 0.1l3 0.1l3 0.1l3 0.1l3 0.2l3 0.1l3 0.1l3 0.2l3 0.1l3 0.1l3 0.2l3.1 0.1l3 0.1l3 0.2l3 0.1l3 0.1l3 0.1l3 0.2l3 0.1l3 0.1l3 0.1l3 0.2l3 0.1l3 0.1l3.1 0.1l3 0.2l3 0.1l3 0.1l3 0.1l3 0.1l3 0.1l3 0.2l3 0.1l3 0.1l3 0.1l3 0.1l3.1 0.2l3 0.1l3 0.1l3 0.1l3 0.1l3 0.2l3 0.1l3 0.1l3 0.1l3 0.2l3 0.1l3 0.1l3 0.2l3.1 0.1l3 0.1l3 0.2l3 0.1l3 0.1l3 0.2l3 0.1l3 0.2l3 0.1l3 0.1l3 0.2l3 0.1l3 0.1l3 0.2l3.1 0.1l3 0.1l3 0.2l3 0.1l3 0.1l3 0.1l3 0.1l3 0.1l3 0.1l3 0.1l3 0.1l3.1 0.1l3 0.2l3 0.1l3 0.1l3 0.2l3 0.1l3 0.2l3 0.2l3 0.2l3 0.2l3 0.3l3 0.3l3 0.3l3 0.3l3 0.3l3 0.3l3 0.3l3 0.3l3 0.3l3 0.3l3 0.3l2.9 0.3l3 0.3l3 0.3l3 0.3l3 0.3l3 0.3l3 0.3l3 0.3l3 0.3l3 0.3l3 0.3l3 0.2l3 0.1l3 0.1l3 0.1l3 0l3 0.1l3.1 0l3 0.1l3 0l3 0l3 0.1l3 0l3 0l3 0l3 0l3.1 0.1l3 0l3 0l3 0l3 0.1l3 0l3 0l3 0l3 0.1l3.1 0l3 0l3 0l3 0l3 0.1l3 0l3 0l3 0l3 0.1l3 0l3.1 0l3 0l3 0l3 0.1l3 0l3 0l3 0l3 0l3 0l3 0.1l3.1 0l3 0l3 0l3 0l3 0l3 0l3 0l3 0.1l3 0l3.1 0" fill="none" stroke="#00FF00" stroke-width="4.0" stroke-linejoin="round" />
<path d="M258.6 2137.5l3 0.2l3.1 0.2l3 0.1l3 0.2l3 0.2l3 0.1l3 0.2l3 0.2l3 0.2l3 0.1l3 0.2l3 0.2l3 0.2l3 0.2l3.1 0.2l3 0.2l3 0.1l3 0.2l3 0.2l3 0.2l3 0.2l3 0.2l3 0.2l3 0.2l3 0.2l3 0.2l3 0.2l3 0.2l3 0.2l3 0.2l3.1 0.3l3 0.2l3 0.2l3 0.2l3 0.2l3 0.2l3 0.2l3 0.3l3 0.2l3 0.2l3 0.3l3 0.3l3 0.2l3 0.3l3 0.3l3 0.3l3 0.4l3 0.3l3 0.4l3 0.3l3 0.4l2.9 0.5l3 0.4l3 0.6l2.9 0.5l3 0.6l3 0.7l2.9 0.7l2.9 0.7l2.9 0.8l2.9 0.9l2.8 0.9l2.9 1l2.8 1.1l2.8 1.2l2.8 1.1l2.7 1.3l2.8 1.2l2.7 1.4l2.7 1.3l2.6 1.5l2.6 1.5l2.6 1.6l2.5 1.6l2.4 1.8l2.4 1.8l2.4 2l2.3 1.9l2.2 2.1l2.2 2l2.1 2.1l2 2.2l2.1 2.3l2 2.3l1.9 2.3l2 2.3l1.9 2.3l1.9 2.3l1.9 2.3l1.9 2.4l1.9 2.3l1.8 2.4l1.9 2.4l1.8 2.4l1.8 2.4l1.8 2.5l1.8 2.4l1.7 2.5l1.7 2.5l1.6 2.5l1.7 2.5l1.6 2.6l1.5 2.6l1.4 2.6l1.4 2.7l1.3 2.7l1.2 2.8l1.1 2.8l1.1 2.8l1.1 2.8l1.1 2.8l1 2.8l1 2.9l1 2.8l0.9 2.9l0.9 2.9l0.9 2.9l0.8 2.9l0.7 2.9l0.7 2.9l0.7 3l0.7 2.9l0.7 2.9l0.6 3l0.7 2.9l0.7 2.9l0.7 3l0.7 2.9l0.7 2.9l0.6 3l0.6 2.9l0.5 3l0.6 3l0.5 2.9l0.5 3l0.4 3l0.5 3l0.5 2.9l0.6 3l0.5 3l0.5 2.9l0.5 3l0.5 3l0.5 2.9l0.5 3l0.5 3l0.4 3l0.5 2.9l0.5 3l0.4 3l0.5 3l0.4 3l0.5 2.9l0.4 3l0.4 3l0.4 3l0.4 3l0.5 3l0.4 2.9l0.4 3l0.3 3l0.4 3l0.4 3l0.4 3l0.3 3l0.4 3l0.3 3l0.4 3l0.3 2.9l0.3 3l0.4 3l0.3 3l0.4 3l0.3 3l0.3 3l0.4 3l0.3 3l0.4 3l0.3 3l0.4 3l0.3 3l0.4 3l0.3 3l0.4 2.9l0.3 3l0.2 3l0.3 3l0.4 3l0.3 3l0.5 3l0.5 3l0.5 3l0.5 2.9l0.4 3l0.4 3l0.3 3l0.3 3l0.2 3l0.3 3l0.2 3l0.3 3l0.2 3l0.2 3l0.2 3l0.3 3l0.2 3l0.3 3l0.2 3l0.3 3l0.2 3l0.2 3l0.3 3l0.2 3l0.3 3l0.2 3l0.3 3l0.2 3l0.3 3l0.3 3l0.3 3l0.3 3l0.3 3l0.3 3l0.3 3l0.3 3l0.3 3l0.3 3l0.3 3l0.3 3l0.3 3l0.3 3l0.4 3l0.3 3l0.3 3l0.3 3l0.3 3l0.4 3l0.3 3l0.3 3l0.4 3l0.3 3l0.3 3l0.4 3l0.3 3l0.4 2.9l0.3 3l0.4 3l0.3 3l0.4 3l0.4 3l0.3 3l0.4 3l0.4 3l0.4 3l0.4 2.9l0.4 3l0.4 3l0.5 3l0.4 3l0.4 3l0.5 2.9l0.4 3l0.5 3l0.5 3l0.4 2.9l0.5 3l0.5 3l0.5 3l0.6 2.9l0.5 3l0.6 3l0.6 2.9l0.7 3l0.7 2.9l0.8 2.9l0.8 2.9l1 2.9l1.1 2.8l1.3 2.7l1.5 2.6l1.8 2.6l2 2.2l2.4 1.4l2.8 1.2l3 0.9l3 0.6l2.9 0.5l3 0.4l3 0.4l3 0.3l3.1 0.2l3 0.3l3 0.3l3 0.2l3 0.3l3 0.2l3 0.2l3 0.2l3 0.2l3 0.2l3 0.2l3 0.2l3 0.1l3 0.2l3 0.1l3.1 0.2l3 0.1l3 0.2l3 0.1l3 0.2l3 0.1l3 0.2l3 0.1l3 0.2l3 0.2l3 0.2l3.1 0.2l3 0.2l3 0.2l3 0.1l3 0.2l3 0.2l3 0.2l3 0.1l3 0.2l3 0.1l3 0.1l3 0.2l3.1 0.1l3 0.1l3 0.1l3 0.1l3 0.1l3 0.1l3 0.1l3 0.1l3 0.1l3.1 0.1l3 0.1l3 0.1l3 0.1l3 0.1l3 0.1l3 0.1l3 0.1l3 0.1l3.1 0.1l3 0.2l3 0.1l3 0.1l3 0.1l3 0.1l3 0.1l3 0.1l3 0.1l3.1 0.1l3 0.1l3 0.1l3 0.1l3 0.1l3 0.1l3 0.2l3 0.1l3 0.1l3 0.1l3.1 0.1l3 0.1l3 0.1l3 0.1l3 0.1l3 0.1l3 0l3 0.1l3.1 0.1l3 0.1l3 0.1l3 0.1l3 0.1l3 0.1l3 0.1l3 0l3 0.1l3.1 0.1l3 0.1l3 0.1l3 0.1l3 0.1l3 0.1l3 0.1l3 0.1l3 0.1l3.1 0.1l3 0.1l3 0.1l3 0.1l3 0.1l3 0.1l3 0.1l3 0.1l3 0.1l3.1 0.1l3 0.1l3 0.1l3 0.1l3 0.1l3 0.1l3 0.2l3 0.1l3 0.1l3.1 0.1l3 0.1l3 0.1l3 0.1l3 0.1l3 0.2l3 0.1l3 0.1l3 0.1l3 0.1l3.1 0.2l3 0.1l3 0.1l3 0.1l3 0.2l3 0.1l3 0.1l3 0.1l3 0.2l3.1 0.1l3 0.1l3 0.1l3 0.2l3 0.1l3 0.1l3 0.1l3 0.2l3 0.1l3 0.1l3.1 0.2l3 0.1l3 0.1l3 0.2l3 0.1l3 0.1l3 0.2l3 0.1l3 0.2l3 0.1l3 0.2l3.1 0.1l3 0.2l3 0.2l3 0.1l3 0.2l3 0.2l3 0.2l3 0.1l3 0.2l3 0.2l3 0.2l3 0.2l3 0.2l3.1 0.2" fill="none" stroke="#0000FF" stroke-width="4.0" stroke-linejoin="round" />
<path d="M258.6 2139l3.1 0.1l3 0.1l3 0.1l3 0.1l3 0.1l3 0.2l3 0.1l3 0.1l3 0.2l3 0.1l3 0.1l3.1 0.2l3 0.1l3 0.2l3 0.1l3 0.1l3 0.2l3 0.1l3 0.2l3 0.1l3 0.2l3 0.2l3.1 0.1l3 0.2l3 0.2l3 0.2l3 0.3l3 0.2l3 0.2l3 0.3l3 0.3l3 0.3l3 0.3l3 0.3l3 0.3l3 0.4l2.9 0.4l3 0.4l3 0.5l3 0.5l3 0.6l2.9 0.6l3 0.7l2.9 0.8l2.8 0.8l2.9 0.9l2.8 1.1l2.8 1.2l2.7 1.3l2.7 1.4l2.6 1.5l2.6 1.6l2.5 1.6l2.4 1.8l2.4 1.9l2.3 2l2.2 2.1l2.1 2.1l2 2.2l2 2.3l1.9 2.3l1.8 2.5l1.8 2.4l1.7 2.5l1.6 2.5l1.6 2.6l1.6 2.6l1.5 2.6l1.4 2.6l1.4 2.7l1.4 2.7l1.2 2.7l1.3 2.8l1.1 2.7l1.2 2.8l1.1 2.8l1.2 2.8l1.1 2.8l1.1 2.8l1.1 2.8l1 2.9l1.1 2.8l1 2.8l1.1 2.8l1 2.9l1 2.8l1 2.8l1 2.9l0.9 2.9l1 2.8l0.9 2.9l0.9 2.8l1 2.9l0.9 2.9l1 2.8l0.9 2.9l1 2.8l0.9 2.9l1 2.8l1 2.9l0.9 2.9l1 2.8l0.9 2.9l0.9 2.8l1 2.9l0.9 2.9l0.9 2.9l0.9 2.8l0.9 2.9l0.8 2.9l0.9 2.9l0.9 2.8l0.9 2.9l0.9 2.9l0.9 2.9l0.9 2.9l0.9 2.8l0.9 2.9l0.9 2.9l0.9 2.8l1 2.9l1 2.9l0.9 2.8l1.1 2.8l1 2.9l1 2.8l1.1 2.8l1.1 2.8l1.1 2.8l1.1 2.9l1.1 2.7l1.2 2.8l1.3 2.7l1.3 2.7l1.5 2.7l1.5 2.6l1.5 2.6l1.7 2.5l1.7 2.5l1.8 2.3l2 2.4l2 2.2l2 2.2l2.1 2.2l2.2 2.1l2.2 2l2.3 2l2.3 1.9l2.4 1.9l2.3 1.9l2.5 1.7l2.5 1.8l2.4 1.8l2.3 1.9l2.3 2l2.3 2l2.1 2.2l1.8 2.3l1.4 2.6l1.3 2.7l1.1 2.8l1.1 2.9l1.1 2.8l1 2.9l1 2.8l0.9 2.9l1 2.9l0.9 2.8l0.9 2.9l0.9 2.9l0.9 2.8l0.9 2.9l0.8 2.9l0.7 2.9l0.7 3l0.6 2.9l0.5 3l0.6 3l0.5 2.9l0.5 3l0.4 3l0.4 3l0.3 3l0.3 3l0.3 3l0.3 3l0.3 3l0.2 3l0.2 3l0.3 3l0.2 3l0.2 3l0.3 3l0.2 3l0.2 3l0.2 3l0.2 3l0.2 3l0.2 3l0.1 3l0.2 3l0.2 3l0.2 3l0.2 3.1l0.2 3l0.2 3l0.2 3l0.2 3l0.2 3l0.3 3l0.2 3l0.2 3l0.1 3l0.2 3l0.2 3l0.2 3l0.2 3l0.2 3l0.1 3l0.2 3l0.2 3.1l0.2 3l0.1 3l0.2 3l0.2 3l0.1 3l0.2 3l0.2 3l0.1 3l0.2 3l0.2 3l0.1 3l0.2 3l0.2 3.1l0.1 3l0.2 3l0.2 3l0.1 3l0.2 3l0.1 3l0.2 3l0.2 3l0.1 3l0.2 3l0.2 3l0.1 3l0.2 3.1l0.2 3l0.1 3l0.2 3l0.2 3l0.1 3l0.2 3l0.2 3l0.1 3l0.2 3l0.1 3l0.2 3l0.1 3l0.2 3.1l0.1 3l0.2 3l0.1 3l0.2 3l0.1 3l0.2 3l0.1 3l0.2 3l0.2 3l0.2 3.1l0.1 3l0.3 3l0.2 3l0.4 3l0.4 3.4l0.6 3.4l0.9 2.4l1.9 1l3.4 0.5l3.1 0.6l2.9 0.5l3 0.4l3 0.4l3 0.4l3 0.2l3 0.2l3 0.2l3 0.1l3 0.1l3 0.1l3 0.2l3.1 0l3 0.1l3 0.1l3 0.1l3 0.2l3 0.1l3 0.1l3 0.1l3 0.1l3.1 0.1l3 0.1l3 0.1l3 0l3 0l3 0l3 0l3 0l3 0l3.1 0l3 0l3 0l3 0l3 0l3 0l3 0l3 0l3.1 0l3 0l3 0l3 0l3 0l3 0l3 0l3 0l3.1 0l3 0l3 0l3 0l3 0l3 0l3 0l3 0l3.1-0.1l3 0l3 0l3 0l3 0l3 0l3 0l3 0l3.1 0l3-0.1l3 0l3 0l3 0l3 0l3 0l3 0l3.1 0l3 0l3 0l3 0l3 0l3 0l3 0l3 0l3 0l3.1 0l3 0l3 0l3 0l3 0l3 0l3 0l3 0l3.1 0l3 0l3 0l3 0l3 0l3 0l3 0l3 0l3.1 0l3 0l3 0l3 0l3 0l3 0l3 0l3 0l3.1 0l3 0l3 0l3 0l3 0l3 0l3 0l3 0l3.1 0l3 0l3 0l3 0l3 0l3 0l3 0l3 0l3 0.1l3.1 0l3 0l3 0l3 0l3 0l3 0.1l3 0l3 0l3.1 0l3 0.1l3 0l3 0l3 0l3 0l3 0.1l3 0l3.1 0l3 0l3 0l3 0.1l3 0l3 0l3 0l3 0l3.1 0.1l3 0l3 0l3 0l3 0l3 0l3 0l3 0l3 0l3.1 0l3 0l3 0l3 0l3 0l3 0l3 0l3 0l3.1 0l3-0.1l3 0l3 0l3 0l3 0l3 0l3-0.1l3.1 0l3 0l3 0l3 0l3-0.1l3 0l3 0l3 0l3.1-0.1l3 0l3 0l3 0l3-0.1l3 0l3 0l3-0.1l3.1 0" fill="none" stroke="#00FFFF" stroke-width="4.0" stroke-linejoin="round" />
</g>
<text x="458.70" y="2889.10" font-family="'Liberation Serif', serif" font-size="49.5" font-weight="bold" font-style="normal" text-anchor="middle" fill="#000" >200</text>
<text x="694.20" y="2889.10" font-family="'Liberation Serif', serif" font-size="49.5" font-weight="bold" font-style="normal" text-anchor="middle" fill="#000" >400</text>
<text x="929.70" y="2889.10" font-family="'Liberation Serif', serif" font-size="49.5" font-weight="bold" font-style="normal" text-anchor="middle" fill="#000" >600</text>
<text x="1165.20" y="2889.10" font-family="'Liberation Serif', serif" font-size="49.5" font-weight="bold" font-style="normal" text-anchor="middle" fill="#000" >800</text>
<text x="242.60" y="2817.70" font-family="'Liberation Serif', serif" font-size="49.5" font-weight="bold" font-style="normal" text-anchor="end" fill="#000" >0</text>
<text x="242.60" y="2684.70" font-family="'Liberation Serif', serif" font-size="49.5" font-weight="bold" font-style="normal" text-anchor="end" fill="#000" >20</text>
<text x="242.60" y="2551.70" font-family="'Liberation Serif', serif" font-size="49.5" font-weight="bold" font-style="normal" text-anchor="end" fill="#000" >40</text>
<text x="242.60" y="2418.70" font-family="'Liberation Serif', serif" font-size="49.5" font-weight="bold" font-style="normal" text-anchor="end" fill="#000" >60</text>
<text x="242.60" y="2285.70" font-family="'Liberation Serif', serif" font-size="49.5" font-weight="bold" font-style="normal" text-anchor="end" fill="#000" >80</text>
<text x="242.60" y="2152.70" font-family="'Liberation Serif', serif" font-size="49.5" font-weight="bold" font-style="normal" text-anchor="end" fill="#000" >100</text>
<text x="712.40" y="2972.10" font-family="'Liberation Serif', serif" font-size="62.5" font-weight="bold" text-anchor="middle"><tspan font-style="italic">T</tspan>/°C</text>
<text transform="translate(149.20,2470.90) rotate(-90)" font-family="'Liberation Serif', serif" font-size="62.3" font-weight="bold" text-anchor="middle">Weightremaining (%)</text>
<line x1="840.30" y1="2301.90" x2="919.10" y2="2301.90" stroke="#000000" stroke-width="4"/>
<text x="927.30" y="2316.00" font-family="'Liberation Serif', serif" font-size="38.0" font-weight="normal" font-style="normal" text-anchor="start" fill="#000" >DA2300</text>
<line x1="840.30" y1="2348.90" x2="919.10" y2="2348.90" stroke="#FF0000" stroke-width="4"/>
<text x="927.30" y="2362.50" font-family="'Liberation Serif', serif" font-size="38.0" font-weight="normal" font-style="normal" text-anchor="start" fill="#000" >DA3200</text>
<line x1="840.30" y1="2395.90" x2="919.10" y2="2395.90" stroke="#00FF00" stroke-width="4"/>
<text x="927.30" y="2409.80" font-family="'Liberation Serif', serif" font-size="38.0" font-weight="normal" font-style="normal" text-anchor="start" fill="#000" >DA4700</text>
<line x1="840.30" y1="2443.20" x2="919.10" y2="2443.20" stroke="#0000FF" stroke-width="4"/>
<text x="927.30" y="2456.50" font-family="'Liberation Serif', serif" font-size="38.0" font-weight="normal" font-style="normal" text-anchor="start" fill="#000" >DA5500</text>
<line x1="840.30" y1="2489.70" x2="919.10" y2="2489.70" stroke="#00FFFF" stroke-width="4"/>
<text x="927.30" y="2502.40" font-family="'Liberation Serif', serif" font-size="38.0" font-weight="normal" font-style="normal" text-anchor="start" fill="#000" letter-spacing="-0.45">PPDO/PLA</text>
<rect x="29.1" y="2015.0" width="98.8" height="97.9" fill="#ff2e00"/>
<text x="80.00" y="2087.00" font-family="'Liberation Sans', sans-serif" font-size="76" font-weight="normal" font-style="normal" text-anchor="middle" fill="#fff" >e</text>
</g>
<g id="panel-f">
<line x1="1577.77" y1="2841.50" x2="1577.77" y2="2834.00" stroke="#000" stroke-width="3"/>
<line x1="1693.30" y1="2841.50" x2="1693.30" y2="2826.90" stroke="#000" stroke-width="3"/>
<line x1="1808.83" y1="2841.50" x2="1808.83" y2="2834.00" stroke="#000" stroke-width="3"/>
<line x1="1924.35" y1="2841.50" x2="1924.35" y2="2826.90" stroke="#000" stroke-width="3"/>
<line x1="2039.88" y1="2841.50" x2="2039.88" y2="2834.00" stroke="#000" stroke-width="3"/>
<line x1="2155.40" y1="2841.50" x2="2155.40" y2="2826.90" stroke="#000" stroke-width="3"/>
<line x1="2270.93" y1="2841.50" x2="2270.93" y2="2834.00" stroke="#000" stroke-width="3"/>
<line x1="2386.45" y1="2841.50" x2="2386.45" y2="2826.90" stroke="#000" stroke-width="3"/>
<line x1="1502.50" y1="2109.95" x2="1502.50" y2="2843.00" stroke="#000" stroke-width="3"/>
<line x1="2409.50" y1="2109.95" x2="2409.50" y2="2843.00" stroke="#000" stroke-width="3"/>
<line x1="1501.00" y1="2111.45" x2="2411.00" y2="2111.45" stroke="#000" stroke-width="3"/>
<line x1="1501.00" y1="2841.50" x2="2411.00" y2="2841.50" stroke="#000" stroke-width="3"/>
<clipPath id="clip-f"><rect x="1501.0" y="2111.4" width="907.0" height="731.6"/></clipPath>
<g clip-path="url(#clip-f)">
<path d="M1502.4 2189.7l2.4 0.4l2.5 0.6l2.5 0.1l2.4 1l2.5 0.2l2.5 0l2.4 0.1l2.5 0.2l2.5-0.4l2.5 0.8l2.5-0.2l2.5 0l2.5-0.1l2.5 0.2l2.5 0.4l2.5-0.6l2.5 0.4l2.5-0.1l2.5 0.2l2.5 0.3l2.5-0.2l2.5-0.2l2.5 0l2.5 0.4l2.5-0.2l2.5-0.5l2.5 0.6l2.5 0.1l2.5-0.1l2.5 0l2.5 0.1l2.5 0.2l2.5 0.6l2.5-0.9l2.5 0.1l2.5-0.4l2.5 0.8l2.5-0.2l2.5-0.2l2.5 0.4l2.5-0.6l2.5 0.5l2.5-0.2l2.5 0.5l2.5-0.2l2.5 0.1l2.5-0.2l2.5-0.2l2.5 0.5l2.5 0.1l2.5-0.5l2.5 0l2.5 0.4l2.5-0.1l2.5 0.2l2.5-0.2l2.5 0.6l2.5-0.4l2.5 0.7l2.5-0.2l2.5 0.2l2.5 0.1l2.5-0.3l2.5 0.3l2.5 0.3l2.5 0.4l2.5 0.3l2.5 0.2l2.4 0.3l2.5 0.6l2.5 0.5l2.5 0.1l2.4 0.1l2.5 0.5l2.4 0.9l2.5-0.2l2.4 0.7l2.5 1l2.4 0.8l2.4 0.5l2.3 0.8l1.5 0.6l1.5 0.3l1.5 0.5l1.5 1.3l1.5 0.5l1.5 0.6l1.4 0l1.5 1l1.5 0.7l1.5 0.3l1.5 1.1l1.4 1.2l1.5-0.3l1.5 0.8l1.5 0.6l1.5 0.3l1.6 0.5l1.5-0.1l1.6 0.4l1.7 0l1.6 0.6l1.6-0.1l1.6-0.3l1.6 0.3l1.5 0.5l1.6 0.6l1.5-0.9l1.5 1.6l1.4 0.6l1.4 1.1l1.3 0.6l1.2 0.8l1.2 0.7l1.2 2.2l1.1 1.4l1 0.7l1 1.5l0.9 0.9l0.9 1.3l0.8 2.1l0.8 1.1l0.7 0.8l0.4 1.8l0.4 1.1l0.4 0.3l0.4 0.9l0.4 0.8l0.3 1l0.4 0.2l0.3 1.8l0.3 1.3l0.3-0.5l0.4 0.8l0.3 0l0.2 2.1l0.3 0.5l0.3 1.1l0.3 1.6l0.3 0l0.2-1.4l0.3 3.5l0.2 0.3l0.3 0l0.2 2.1l0.2 1.7l0.3 0.7l0.2 1.4l0.2 1.3l0.2-0.4l0.2 0.3l0.3 1.6l0.2 0.9l0.2-1.2l0.2 3.2l0.2-1.1l0.2 3l0.2 0.5l0.1 0.3l0.2 1.5l0.2-1l0.2 0.8l0.2 2.8l0.2 0.7l0.1 0.6l0.2 0.1l0.2 1l0.2 1.5l0.2 1.4l0.1-1.1l0.2 2l0.2 1.2l0.2-0.8l0.1 0.8l0.2 2.5l0.2 0.6l0.2 2l0.1 0.7l0.2 0.8l0.2 0.6l0.2 2.9l0.1-0.9l0.2-0.7l0.2 1.9l0.1 2.6l0.2 0.1l0.2 0.5l0.1 2.1l0.2-0.5l0.2 1.7l0.1-0.6l0.2 1.7l0.1 1.1l0.2-0.6l0.2 0l0.1 1.1l0.2 1.4l0.1 2.7l0.2-0.3l0.1 1.4l0.2 0.1l0.1 1.3l0.1 1.4l0.2-0.1l0.1 1.3l0.2 1l0.1 0.4l0.1 1.1l0.2 1.6l0.1-2.1l0.1 5l0.2 1.5l0.1-1.3l0.1 0.1l0.2 1.6l0.1 1.8l0.1 0.8l0.2-1.5l0.1 2.8l0.1 0.6l0.1 2.4l0.2-1.4l0.1 2.3l0.1-0.4l0.1 1.1l0.1 1.3l0.2 1.9l0.1 1.1l0.1-1.4l0.1 0.8l0.1 1.4l0.1 2.6l0.1-0.7l0.2 3.1l0.1-2.9l0.1 3.2l0.1 0.9l0.1 0.6l0.1 1.3l0.1 2.3l0.1-1.2l0.1 1.3l0.1 0.7l0.2 0.2l0.1 3.3l0.1 0.6l0.1-0.4l0.1 1.3l0.1 2.2l0.1-1.4l0.1 2l0.1 1.4l0.1-1l0.2 1.6l0.1 0.9l0.1 0.1l0.1 1.9l0.1 1.2l0.1 0l0.2 2.9l0.1 0.2l0.1 1l0.1 0.8l0.1 1.9l0.1-0.8l0.1 0.9l0.2-0.6l0.1 3.3l0.1-0.1l0.1 1.2l0.1 1l0.1 0.5l0.1 2.4l0.1-0.9l0.1 0.3l0.1 1.7l0.1 0.3l0.1 1.5l0.1 1.5l0.1 1l0.1 1.4l0.1 2.4l0.1-2.7l0.1 1.9l0 1.8l0.1-0.2l0.1 1.8l0.1-1.1l0.1 2.4l0.1 3.2l0.1-1.8l0 0.9l0.1 2.2l0.1 0.9l0.1 1.8l0.1 0.7l0.1-0.3l0.1 2.6l0.1-2.9l0.1 2.5l0 2.3l0.1-0.3l0.1 1.1l0.1 1.4l0.1 0.3l0.1 0.8l0.1 1.1l0.1-0.1l0.1 1.2l0.1 2.7l0.1-1.7l0.1 1.9l0.1 0.7l0.1 1.8l0.1 0.3l0.1 1.6l0.1-0.2l0.1 1.7l0.2-0.4l0.1 1.1l0.1 2.2l0.1 1.3l0.2 2.1l0.1-1.7l0.1 1.8l0.2 0.1l0.1 0.7l0.2 0l0.1 1.7l0.2 0.8l0.1 2l0.2 0.4l0.1 1.5l0.2-0.9l0.2 2.3l0.2 0.5l0.3 1.1l0.2 1.9l0.3 0.4l0.4-0.4l0.3-0.8l0.7 2.5l1-0.5l1.1 0.5l0.6 0.7l0.3 0l0.3-1.3l0.2-0.3l0.2 1.1l0.2-2.7l0.1 0.2l0.1-0.4l0.1-3.5l0.1 0.2l0.1-3.1l0.1-0.2l0.2-1.3l0.1-1.4l0.1-1.2l0.1-0.6l0.2-1.2l0.2-0.5l0.2 2.3l0.3-2l0.4 2.6l0.4-1.2l0.5 1.6l0.5 2.1l0.4 0.7l0.4-1l0.3 1.4l0.3 0.3l0.3 3.6l0.3-0.8l0.2 1.4l0.3-0.9l0.3 3.3l0.2-1.3l0.3 3l0.2-0.7l0.3 2.2l0.3 1.3l0.3-0.9l0.3 0.9l0.3 0.4l0.3 2.7l0.3 0.5l0.4-0.6l0.3-0.1l0.4 0.8l0.3 2.1l0.4-0.2l0.4 1.6l0.5 2.2l0.4 2.1l0.6-1.9l0.5-0.5l0.6 2.8l0.6-1.2l0.6 1.3l0.6 0.6l0.7-0.2l0.6-0.3l0.7 0l0.6-1.5l0.7-2.6l0.6 0.8l0.6-0.9l0.6-1.7l0.6 1.6l0.6-2.4l0.6-1.1l0.5-0.6l0.5-0.4l0.3-0.5l0.3-1.8l0.2 0.5l0.3-0.7l0.2-1.6l0.2-0.3l0.2-0.4l0.2-1.1l0.2-2.2l0.2-0.1l0.1 0l0.2-0.8l0.1-2.5l0.2-1.4l0.1 0.4l0.1-1.7l0.2-0.4l0.1-1.1l0.1-0.6l0.2-1.1l0.1-0.2l0.2 1l0.1-4.7l0.1-0.9l0.2 0.6l0.1-0.7l0.1 0.8l0.2-5l0.1 1.8l0.1-1l0.1-0.9l0.1-2.7l0.2 1l0.1-0.2l0.1-3.1l0.1 1.9l0.1-3.2l0.1-0.5l0.1-0.4l0.2-0.9l0.1-2.7l0.1 1l0.1-0.1l0.1-0.9l0.1-1.9l0.1-0.1l0.1-2l0.1-0.1l0.1-0.3l0.1 0.3l0.1-3.1l0.1-0.8l0.1-2.3l0.1-0.5l0.1 0.8l0.1-0.7l0.1-3.3l0.1 0.5l0.1-1.2l0.1-0.4l0.1-0.4l0.1-1.7l0.1-2.1l0.1 0.3l0-0.1l0.1-1.5l0.1-1.2l0.1-1.3l0.1-1.3l0.1 0.7l0.1-1.9l0.1-0.7l0-1.7l0.1 1.4l0.1-2.4l0.1-1.4l0.1 0.6l0.1-2.5l0.1 2l0-1.5l0.1-2.3l0.1-1.6l0.1-0.8l0.1-0.4l0.1 0.2l0.1-2.3l0.1-0.3l0-2l0.1 0.6l0.1-2.4l0.1 0l0.1-1.8l0.1-0.5l0.1 0.3l0.1-0.5l0.1-2.1l0.1 1.7l0.1-3.4l0-1l0.1 0.4l0.1-2.7l0.1-1.3l0.1 0.7l0.1-2.1l0.1 1.1l0.1-1.8l0-1.1l0.1-0.7l0.1-2.3l0.1-1.3l0.1-0.6l0.1-0.5l0.1-2.4l0.1 0.2l0.1-1l0.1-1.2l0.1-0.9l0.1-0.3l0.1 0.7l0.1-1l0.1-0.9l0.1 1.5l0.1-3.1l0.1-0.7l0.1-0.7l0.1-2.1l0.1-0.5l0.1-1.7l0.2 0l0.1-3.9l0.1 1.9l0.2-1.1l0.1-4.6l0.1 3.7l0.2-0.9l0.1-3.4l0.2-1.3l0.1 1.9l0.2-2.5l0.1-1.8l0.2-0.6l0.2-0.3l0.1 1.6l0.2-2.6l0.2-1.2l0.2-0.5l0.1-0.4l0.2-2.5l0.2 2l0.2-2.9l0.2-1.3l0.2-0.7l0.1-0.5l0.2-1.8l0.2 1.3l0.2-3.5l0.2 2.6l0.2-1.2l0.2-4.5l0.2 2.2l0.2-0.3l0.2-3.1l0.2 0.9l0.2-2.4l0.2 0.5l0.2-2.5l0.2-0.6l0.2-0.5l0.2-2.2l0.3 0.5l0.2-1.4l0.2-1.2l0.2-0.6l0.3-1.1l0.2-1l0.2-1.1l0.2 0.7l0.3-1l0.2-0.9l0.3-1.2l0.2-1.3l0.3-1.6l0.2 0.9l0.3-1l0.2-2.1l0.3 1.2l0.3-3.4l0.2 1.2l0.3-2.7l0.3-0.1l0.3-2.4l0.3 1.1l0.3-0.9l0.3-2.1l0.3-0.2l0.3-0.9l0.3 0.6l0.3-1.5l0.3-1.4l0.2 0.1l0.3-2.2l0.3 0.3l0.3-1.2l0.3-1.4l0.3-1.9l0.3 0.7l0.3-1.5l0.2-0.1l0.3-1l0.3-2.5l0.3 0.7l0.3-1l0.3 0.2l0.2-2.5l0.3-1.4l0.3-0.6l0.3 0.9l0.3-2.1l0.3 1.9l0.3-3.8l0.2-0.4l0.3-1.1l0.3-0.9l0.3 0.2l0.3-1.6l0.2 0l0.3-0.6l0.5-2.3l0.5-1.5l0.4-1.2l0.5-1.9l0.5-0.8l0.5-2.6l0.6-1l0.5-2.2l0.6-0.9l0.6-1.7l0.6-1.8l0.6-1.6l0.6-1.2l0.7-1.7l0.8-0.6l0.8-2.2l0.9-1.4l1.2-0.2l1.4-0.4l1.6-1l1.6-0.3l1.6-0.9l1.4-0.8l2.2-0.6l2.2-1.8l2.3-1l2.4-0.6l2.4-0.2l2.5 0.3l2.5-0.8l2.5-0.3l2.5-0.4l2.5-0.2l2.5-0.1l2.5-0.5l2.5 0.1l2.5-0.3l2.5-0.6l2.5-0.1l2.4 0.1l2.5 0.1l2.5-0.3l2.5-0.2l2.5-0.1l2.5 0l2.5 0.1l2.5 0l2.5-0.6l2.5 0.2l2.5 0.1l2.5-0.1l2.5 0.2l2.5 0l2.5-0.3l2.5 0l2.5 0l2.5-0.5l2.5 0.3l2.5 0.1l2.5 0l2.5-0.1l2.5-0.1l2.5 0.2l2.5-0.2l2.5 0l2.5 0.1l2.5-0.2l2.5 0.3l2.5 0l2.5-0.2l2.5-0.2l2.5 0.2l2.5 0.1l2.5-0.3l2.5 0l2.5 0.1l2.5 0.1l2.5 0.1l2.5 0.3l2.5-0.6l2.5 0.6l2.5-0.5l2.5 0l2.5 0.2l2.5-0.3l2.5 0.1l2.5 0.2l2.5-0.3l2.5 0.3l2.5 0l2.5-0.1l2.5-0.5l2.5 0.9l2.5-0.5l2.5 0.4l2.5-0.5l2.5-0.1l2.5 0.8l2.5-0.8l2.5 0.5l2.5-0.3l2.5 0l2.5 0l2.5 0.2l2.5-0.3l2.5 0.5l2.5-0.7l2.5 0.3l2.5 0.2l2.5 0.1l2.5 0l2.5-0.4l2.5 0l2.5 0.1l2.5-0.1l2.5 0l2.5 0.6l2.5-0.1l2.5-0.6l2.5 0.3l2.5 0l2.5-0.2l2.5-0.1l2.5 0.7l2.5-0.2l2.5-0.1l2.5-0.1l2.5-0.2l2.5 0.4l2.5-0.6l2.5 0l2.5 0.3l2.5-0.1l2.5 0.1l2.5 0l2.5-0.4l2.5 0.1l2.5 0.2l2.5 0l2.5 0.1l2.5 0l2.5-0.1l2.5 0l2.5 0.2l2.5 0.2l2.5 0.1l2.5-0.5l2.5 0.4l2.5-0.3l2.5 0.1l2.5-0.1l2.5 0.3l2.5-0.4l2.5 0.2l2.5-0.1l2.5-0.5l2.5 0.2l2.5 0.2l2.5-0.2l2.5 0.2l2.5 0.4l2.5-0.2l2.5-0.2l2.5 0.7l2.5-0.6l2.5 0.1l2.5-0.3l2.5 0.4l2.5-0.4l2.5 0.3l2.5-0.2l2.5 0l2.5 0.1l2.5 0.3l2.5-0.6l2.5 0.3l2.5 0l2.5 0.2l2.5-0.5l2.5 0.4l2.5 0l2.5-0.1l2.5 0.1l2.5-0.2l2.5 0.6l2.5-0.5l2.5 0.1l2.5 0l2.5 0l2.5 0l2.5 0.1l2.5-0.3l2.5 0.5l2.5-0.8l2.5 0.5l2.5-0.1l2.5-0.1l2.5-0.2l2.5 0.2l2.5 0.1l2.5-0.2l2.5 0l2.5-0.2l2.5 0.4l2.5 0l2.5 0.1l2.5-0.2l2.5 0.2l2.5-0.3l2.5 0.4l2.5-0.1l2.5 0.1l2.5-0.1l2.5 0.1l2.5-0.2l2.5 0l2.5-0.2l2.5 0.3l2.5-0.3l2.5 0.1l2.5 0.1l2.5 0.1l2.5-0.2l2.5 0.4l2.5-0.4l2.5 0.1l2.5-0.2l2.5 0.2l2.5 0.4l2.5-0.6l2.5 0.4l2.5-0.3l2.5 0.4l2.5-0.2l2.5 0.1l0.9-0.1" fill="none" stroke="#484848" stroke-width="2.6" stroke-linejoin="round" />
<path d="M1502.4 2190.5l2.3 1.3l2.4 1.2l2.4 0.7l2.3 0.7l2.4 1.5l2.4 0l2.5 0.2l2.4-0.2l2.5 0.2l2.5 0.4l2.5-0.1l2.5 0.3l2.5 0.2l2.6-0.7l2.5 0l2.5 0.6l2.5-0.3l2.5 0.1l2.5 0l2.5-0.2l2.5-0.9l2.4 0.3l2.5 0l2.5-0.7l2.5-0.4l2.5-0.2l2.5 0.1l2.5-0.4l2.5 0.1l2.5-0.3l2.5 0.3l2.5-0.2l2.5-0.2l2.5 0.7l2.5-0.3l2.5 0.1l2.5 0.2l2.5 0.1l2.5 0.2l2.5 0.2l2.5 0.4l2.5-0.1l2.5 0l2.5 0l2.5 0.5l2.4 0.3l2.5 0.8l2.5-0.2l2.5-0.1l2.4 0.8l2.5 0.5l2.5 0l2.4 1l2.5 0.6l2.4 0.7l2.4 0.5l2.4 1l2.4 0.3l1.4 0.9l1.5 0.8l1.4 0.4l1.5 0.5l1.4 0.8l1.4 1.4l1.4 0.9l1.4 0.5l1.4 1.2l1.4 0.1l1.5 1.1l1.4 0.3l1.5 1l1.5 0.4l1.5 0.3l1.5 0.6l1.5 1.4l1.5 0.1l1.5-0.3l1.5 0.9l1.4 0.8l1.5 0.6l1.4 1.1l1.4 0.1l1.4 1.2l1.5 0.8l1.3 1.3l1.4-0.2l1.4 1.4l1.3 0.1l1.3 2l1.3 0.8l1.2 0.9l1.2 1.3l1.1-0.1l1.2 2.2l1.1 0.6l1.1 2.4l0.6 0l0.6 1.5l0.6 0.6l0.7-0.6l0.6 0.6l0.6 0.7l0.6 1.3l0.7 1.3l0.6-0.8l0.6 1l0.7-0.4l0.6 2.6l0.6 0l0.7 2.4l0.6-1.7l0.7 0.9l0.6 0.3l0.6 1.3l0.7 0.4l0.6 1.3l0.6 0l0.7 0.4l0.6 0.2l0.6 1.1l0.7 0.3l0.6 1l0.7 0.4l0.6 1.6l0.6 1l0.6-0.8l0.7 1.7l0.6 0.5l0.6-0.4l0.6 0.5l0.7 2.9l0.6 0.2l0.7-1.7l0.6 1.4l0.7 1.5l0.7 0.2l0.6-0.2l0.7 2l0.7 0l0.7 2.6l0.7 0.6l0.7-1.9l0.7 1.7l0.7 0.1l0.8-0.8l0.7 1.4l0.8 1l0.8-1.4l0.9 1.5l0.8-0.4l0.9-0.2l0.9 1.4l1-2.3l0.9 0.1l0.9 0.9l0.9-0.8l0.9 0.5l0.9-1.2l0.9 0.8l0.8 0.8l0.9-2.5l0.9-0.1l0.8 1l0.9-0.8l0.8-1.2l0.8-0.2l0.9-0.2l0.8 0.3l0.8-0.6l0.8-1.6l0.9 0.2l0.8-0.7l0.8 0.1l0.8-0.8l0.8 1.3l0.8-0.7l0.7 0.8l0.8-1.8l0.8 0.1l0.7-3l0.8 0.8l0.7-1.6l0.7 2.4l0.8-1.8l0.7-0.6l0.7-2.3l0.8-0.7l0.7 0.8l0.8-0.2l0.8-2.5l0.9 1.7l0.9-0.6l0.9-0.6l0.9 1.5l0.9-1l0.9-0.7l0.9 0.8l0.9-0.2l0.9-0.1l0.8-0.1l0.9 0.8l0.9-1.4l0.8 2.6l0.9-0.6l0.8 0.2l0.9 1.2l0.8-0.5l0.9 1.3l0.8-0.6l0.9 0.8l0.8-2.1l0.9-0.2l0.9 0.3l0.9-0.6l0.8 0.2l0.9-0.6l0.8 0l0.8-1.1l0.8-0.9l0.7 1l0.6 1.1l0.7-1.1l0.6 1.9l0.5 0.2l0.6 0.5l0.5 2.5l0.6 0.1l0.6 0.2l0.6 2.4l0.6-2.4l0.7 1.7l0.8 0.8l0.9-0.3l0.9-0.6l1 1.5l0.9-0.6l0.9 1.8l0.7-1.8l0.5 1.4l0.5 0l0.5 2.1l0.5 0l0.4 1.2l0.4-0.7l0.4 2.1l0.3-0.2l0.4 1.5l0.3 2.5l0.4-2.4l0.3 4.3l0.4 0.9l0.3-1.8l0.4 2.6l0.3 0.2l0.4 0.1l0.3 2.3l0.4 1.4l0.3 0.1l0.4 0.1l0.3 2l0.3 1.2l0.3-0.5l0.4 1l0.3 1.2l0.3 1.4l0.3-1.4l0.4 1l0.3 0.7l0.3 2.4l0.3-0.7l0.4 2.9l0.3 0.9l0.4-0.4l0.3 1.5l0.4 1.4l0.3 0l0.4 1.4l0.3-1.9l0.4 3.8l0.3-3l0.3 3.5l0.4 2.3l0.3-1.6l0.3 2.1l0.3-0.8l0.3 3.2l0.3 0.4l0.3 1.8l0.3 0.3l0.3 0.5l0.2 0.9l0.3-1.3l0.2 4.6l0.3-1.4l0.3 2l0.2-1.1l0.3 2l0.2 0.4l0.2 2.2l0.3-0.8l0.2 2l0.3 0.1l0.3 0.8l0.2 1.5l0.3 0.5l0.2 2l0.3 1l0.3 0.2l0.2-0.6l0.3 2.3l0.3 0.9l0.2 0.9l0.3 1.5l0.2 0.5l0.3 0.1l0.3 2.7l0.2-1.8l0.3 1.1l0.2 3l0.3-1.3l0.2 0.2l0.2 3.1l0.2 0.8l0.3-0.4l0.2 1.8l0.2 0.8l0.2 1.3l0.2 0.1l0.2 1.4l0.2 0.9l0.2 0.4l0.3 1.9l0.2-0.6l0.2 1.2l0.2 2.4l0.2-0.3l0.2 0.8l0.3 0.4l0.2 1.3l0.2 1.7l0.3-0.9l0.2 1.8l0.2 0.7l0.3 0.3l0.2 1.3l0.3 1.4l0.2 1.5l0.3-1.4l0.2 1.2l0.3 0.6l0.3 1.8l0.2-0.4l0.3 2.4l0.3 0.5l0.3 0.9l0.2 3.8l0.3-0.3l0.3 0l0.3 0.7l0.3 0.7l0.3 1.9l0.2 0.5l0.3-0.6l0.3 2.4l0.3-2.2l0.4 3.6l0.3 1.6l0.4 0.9l0.3 0l0.4-1.1l0.4 1.5l0.5 2.3l0.4 1l0.6 0l0.5 2.1l0.6 0.6l0.6-0.3l0.6 0.1l0.7 0.5l0.9-2.3l1 2.2l1-1.2l0.7 0.2l0.6 0.8l0.5-2.9l0.4 0.1l0.5-0.7l0.3 0.7l0.4-4.4l0.3 1.4l0.4-0.6l0.3-2.2l0.2-0.9l0.3-0.8l0.3-1l0.2-0.7l0.3-0.6l0.2-1.4l0.2-1.1l0.3-0.7l0.2 0.7l0.2-3.7l0.2 0.9l0.2-0.5l0.2-1.7l0.1-0.9l0.2 1.8l0.2-2.8l0.2-0.2l0.1-2.2l0.2 0.4l0.2-1.5l0.1 0l0.2-3.3l0.2 1.9l0.1-2.4l0.2-1.4l0.2-2.1l0.1 1.3l0.2-0.1l0.1-2.3l0.2 0.6l0.2-3.3l0.1-0.5l0.2-0.5l0.1 0l0.2-0.8l0.1-2l0.2 0.3l0.1-3l0.2-0.9l0.1 1.4l0.2-1.3l0.1-0.3l0.1-2.7l0.2-2.3l0.1 2.6l0.2-1.9l0.1-2.8l0.1 0.1l0.2-1.7l0.1-0.3l0.2 1.1l0.1-0.2l0.2-3l0.1-0.7l0.2-1.5l0.1 0.5l0.2-3.4l0.1-1.4l0.1 0.1l0.2 1.4l0.1-2.9l0.2 2.3l0.1-1l0.2-3.3l0.1-1.6l0.2-1.6l0.1 1.1l0.2-1.3l0.1-0.1l0.2-0.8l0.1-1.3l0.2-0.6l0.1-1.6l0.2-0.5l0.1-2.9l0.2 1.4l0.1-0.6l0.2-1.8l0.1-2.2l0.2 0.9l0.1-0.9l0.2-0.6l0.1-2.5l0.1 1.1l0.2-3.1l0.1 0l0.2-1l0.1-2.8l0.2 1.5l0.1-2.7l0.2 2.4l0.1-2.3l0.2-2.4l0.1 0.6l0.2-2.1l0.1 0.4l0.2-1.4l0.1-0.3l0.2-0.3l0.1-0.3l0.2-3l0.1-0.5l0.2-2l0.1 0.3l0.2-0.1l0.1-0.6l0.1-3.8l0.2 2.2l0.1-3.4l0.2 0.2l0.1-0.8l0.2-2.5l0.1-0.9l0.2 0.6l0.1-0.5l0.2-1l0.1-2.2l0.2-0.1l0.1 0l0.2-1.3l0.1-1.4l0.2 0.7l0.1-2l0.1-1.8l0.2-0.3l0.1-1.1l0.2 0l0.1-0.8l0.2-0.2l0.1-1.3l0.2-2.7l0.1 0.3l0.2-1l0.1-1.2l0.2-1l0.1-0.9l0.2-1.5l0.1-0.2l0.2-0.5l0.1-0.4l0.2-1.6l0.1-1.3l0.2-0.8l0.1-0.9l0.2-0.2l0.1-0.9l0.2-1l0.1 0.5l0.2-3.4l0.1 0.1l0.2-1.2l0.1 0.3l0.2-1.5l0.1-1.2l0.3-1.4l0.3-1l0.3-2.3l0.3-2.2l0.3-1.2l0.3-1.9l0.3-0.9l0.4-2.4l0.4-1l0.4-0.8l0.4-1.5l0.4-2.2l0.5-1.7l0.5-1.3l0.5-1.7l0.6-1.6l0.7-0.9l0.9-1.5l1.1-0.8l2.1-2.3l2.1-0.4l2.3-1.2l2.4 0.1l2.5-1.4l2.5-0.3l2.6 0l2.5-0.6l2.4 0.1l2.5-0.7l2.5 0l2.5-0.3l2.5-0.6l2.5 0.3l2.5-0.1l2.5-0.4l2.5 0.2l2.5-0.2l2.5 0.2l2.5-0.4l2.5-0.1l2.5 0.1l2.5-0.2l2.5 0l2.5 0l2.5 0.6l2.5-0.1l2.5 0l2.5-0.1l2.5-0.1l2.5-0.5l2.5 0.3l2.5 0.3l2.5-0.2l2.5 0l2.5 0l2.5 0.2l2.5-0.4l2.5 0l2.5 0l2.5-0.1l2.5 0.1l2.5-0.2l2.5-0.2l2.5 0.3l2.5 0.1l2.5-0.1l2.5 0.1l2.5 0.2l2.5-0.4l2.5-0.1l2.5 0.3l2.5-0.1l2.5-0.1l2.5-0.1l2.5 0l2.5-0.2l2.5 0l2.5 0.2l2.5-0.1l2.5 0.1l2.5-0.1l2.5 0.2l2.5 0.2l2.5 0l2.5-0.2l2.5-0.3l2.5 0.2l2.5 0l2.5-0.5l2.5-0.1l2.5 0.5l2.5-0.4l2.5 0.5l2.5 0.1l2.5-0.2l2.5 0l2.5-0.1l2.5 0.1l2.5-0.3l2.5 0.2l2.5 0.2l2.5 0l2.5 0.1l2.5-0.4l2.5 0l2.5-0.2l2.5 0.3l2.5-0.4l2.5 0.6l2.5-0.5l2.5 0l2.5 0.4l2.5 0l2.5-0.1l2.5 0l2.5-0.1l2.5 0.1l2.5 0l2.5-0.1l2.5-0.4l2.5 0.4l2.5 0.3l2.5-0.2l2.5-0.5l2.5 0.6l2.5 0.3l2.5-0.6l2.5-0.2l2.5 0.3l2.5-0.1l2.5 0.1l2.5-0.2l2.5 0.2l2.5-0.1l2.5 0.1l2.5-0.2l2.5 0l2.5 0l2.5 0l2.5-0.1l2.5 0.5l2.5-0.4l2.5 0.4l2.5-0.4l2.5-0.4l2.5 0.3l2.5 0.2l2.5 0.1l2.5 0.1l2.5-0.1l2.5 0l2.5 0l2.5-0.1l2.5 0.2l2.5 0.5l2.5 0l2.5 0.1l2.5-0.1l2.5 0.5l2.5-0.8l2.5 0.6l2.5 0l2.5 0.2l2.5 0l2.5 0l2.5 0.1l2.5-0.1l2.5-0.2l2.5 0.3l2.5 0.2l2.5-0.2l2.5 0.2l2.5 0l2.5 0.6l2.5-0.7l2.5 0.2l2.5-0.2l2.5-0.3l2.5 0.4l2.5 0.1l2.5-0.4l2.5 0.1l2.5-0.2l2.5 0.2l2.5-0.1l2.5 0l2.5-0.1l2.5 0l2.5 0.1l2.5-0.5l2.5-0.2l2.5 0.1l2.5 0l2.5 0.2l2.5-0.3l2.5 0.3l2.5-0.5l2.5 0.1l2.5-0.6l2.5 0.5l2.5 0.5l2.5-0.7l2.5 0.3l2.5 0l2.5 0l2.5 0.1l2.5 0.1l2.5-0.6l2.5 0.2l2.5 0.1l2.5-0.2l2.5 0.1l2.5-0.1l2.5 0.2l2.5-0.3l2.5 0.3l2.5-0.3l2.5-0.1l2.5 0.4l2.5-0.2l2.5-0.1l2.5 0l2.5-0.1l2.5 0l2.5 0.1l2.5-0.1l2.5 0.4l1.8-0.2" fill="none" stroke="#FC3535" stroke-width="2.8" stroke-linejoin="round" />
<path d="M1502.4 2190.1l2.5 0.4l2.4 0.3l2.5 0.9l2.5 0.2l2.5-0.1l2.5 1l2.5-0.6l2.4 0l2.5 0.1l2.5 0.3l2.5-0.4l2.5-0.3l2.5 0.3l2.5 0.4l2.5-0.3l2.5 0.2l2.5-0.3l2.5 0.3l2.5-0.3l2.5 0.5l2.5 0.1l2.5-0.9l2.5 0.4l2.5-0.1l2.5 0l2.5-0.1l2.5 0.3l2.5 0.4l2.5 0.1l2.5-0.5l2.5 0.1l2.5 0.4l2.5-0.1l2.5-0.5l2.6 0.1l2.5 0.3l2.5-0.1l2.5-0.4l2.5 0.1l2.5 0.5l2.5-0.5l2.5 0l2.5 0.2l2.5 0l2.5-0.1l2.5 0.1l2.5 0.1l2.5-0.1l2.5 0.4l2.5-0.8l2.5 0.9l2.5 0.1l2.5 0l2.5-0.8l2.5 0.5l2.5 0.3l2.5 0.3l2.5-0.1l2.5 0l2.5-0.1l2.5 0.3l2.5 0.1l2.5-0.4l2.5 0.3l2.4 0.7l2.5-0.6l2.5 0.7l2.5 0.3l2.5 0l1.6-0.2l1.6 0.5l1.6-0.2l1.6 0.2l1.6 0l1.6 0.1l1.6 0.5l1.6 0l1.6 0.3l1.6 0.1l1.6 0.3l1.5-0.3l1.6 0.8l1.6-0.5l1.6 0.6l1.6 0l1.6 0l1.6 0.3l1.6 0.4l1.6-0.2l1.6 0.2l1.6 0.8l1.6-0.2l1.5 0.2l1.6-0.3l1.6 0.5l1.6 0.6l1.6-0.1l1.5 0.8l1.6 0l1.6-0.3l1.6 1.1l1.5 0l1.6-0.5l1.6 1.5l1.5 0.6l1.6 0.2l1.6 0.2l1.5 0l1.6 0.8l1.5 0.2l1.6 0.8l1.5 0.1l1.6 0.3l1.6 0.5l1.5 0.1l1.6 0.6l1.5 1.9l1.5-0.7l1.5-0.6l1.5 0.9l1.4 1.7l1.5 0.1l1.4 0.8l1.4 0.7l1.4 0.7l1.4 0.6l1.2 2.5l1.2 0.6l1.1 0.3l1.1 2.2l0.6 0.7l0.5-0.7l0.6 0.3l0.5 1.5l0.6 1.1l0.5 1.7l0.5 0.4l0.4 0.4l0.5 1.1l0.4 1l0.5-0.4l0.4 0.9l0.4 1.3l0.3 0l0.4 1l0.4 1.6l0.4 1.3l0.3 0.1l0.4 0.2l0.3 1.5l0.3 1.3l0.3-0.8l0.3 1.7l0.3 2.7l0.3-1.3l0.3 1l0.3-0.4l0.3 1.5l0.2 3.3l0.3-1l0.2 0.5l0.3 1l0.2 0l0.2 2.9l0.3-0.3l0.2 0.6l0.2 0.6l0.2 1.6l0.2 0.6l0.2 2.7l0.2 0.4l0.2 0.8l0.2 1.2l0.3 0.7l0.2 0.4l0.2 1.5l0.2 0.1l0.2 2.4l0.2 0.4l0.2 0.1l0.2-1.2l0.2 1.7l0.1 2.1l0.2-0.8l0.2 2.4l0.2 1.7l0.2-0.9l0.2 0.3l0.2 3.4l0.2-0.3l0.2 1.4l0.2-0.4l0.1 3.8l0.2 0.3l0.2-0.6l0.2 3l0.2-1.3l0.2 2.2l0.1 0.5l0.2-1.9l0.2 2.7l0.2 0.6l0.1 0.3l0.2 1.3l0.1 2.5l0.2 0.2l0.1-0.2l0.2 0.1l0.1 3.5l0.2-0.3l0.1 1.3l0.1 1.8l0.2 1l0.1-0.2l0.2 0.7l0.1-0.5l0.2 0.1l0.1 3.9l0.2 1.1l0.1 0.7l0.2-0.4l0.2 1.2l0.2 0.7l0.2-1l0.2 3l0.3 4l0.2-3.8l0.3 1.5l0.3 1.6l0.5 0.8l0.4-1.1l0.5 2.3l0.5 1l0.4-1.2l0.5 0.7l0.4 4.2l0.3-0.5l0.3 0.9l0.2 1.1l0.2-0.1l0.2-0.1l0.2 1.7l0.1 3.2l0.2-0.2l0.2-0.9l0.1 5.4l0.1-3.1l0.2 1.1l0.1 2.7l0.1 0.7l0.2 3.7l0.1-1.9l0.1 1.2l0.1-1.7l0.1 2.7l0.2 0.4l0.1 0l0.1 2.1l0.1 1.2l0.1 3.1l0.2 0.3l0.1-0.3l0.1-0.2l0.1 1.9l0.1 2.2l0.1-2.5l0.1 2.2l0.1-1.5l0.1 4.7l0.1 0.1l0.1 1.9l0.1-0.6l0.1 1.1l0.1 0.2l0.1 0.7l0.1 1.2l0.1 2.4l0.1-2.9l0.1 2.6l0.2 2.2l0.1 1l0.1-1.5l0.2 3l0.2-0.5l0.1 2.4l0.2 4.1l0.3-3.2l0.2-1.7l0.3 4.5l0.2 0.5l0.2-0.1l0.3 2.6l0.2-1.6l0.2 1.5l0.2 5.2l0.2-2.2l0.2 2.3l0.2 0.6l0.1 1.5l0.2-3.4l0.1 1.5l0.1 2.4l0.2 0.5l0.1 2.1l0.1 0.4l0.2 0l0.1-0.6l0.1 3.2l0.1 1.5l0.2 0.5l0.1-1.7l0.1 2.3l0.1 3l0.1-2.6l0.1 2.6l0.1 2.6l0.1-0.8l0.2-0.3l0.1 3l0.1-0.1l0.1 1l0.1 0.9l0.1 3.2l0.1-1.6l0.1 3.5l0.1-0.3l0.1 0.6l0.1 0.6l0.1 1.3l0.1 0.3l0.1 2.4l0.1-0.5l0.1 2.9l0.1 0.2l0 0.2l0.1 0.8l0.1 2.1l0.1-0.8l0.1 1.1l0.1-1.8l0.1 3.6l0.1 1l0.1-1.4l0.1 5.1l0.1-1.2l0.1-0.6l0.1 1.4l0.2-0.1l0.1 4.6l0.1 1.8l0.1-1.8l0.1-1.1l0.2 2.1l0.1 2.6l0.1 0.2l0.2 0.6l0.1 2.2l0.2-2.1l0.1 2.5l0.1 1.1l0.2-0.3l0.1 1.6l0.2 1.9l0.1 0.2l0.2 1.4l0.1 1l0.2 0.2l0.1 0.6l0.1 2.7l0.2-1.2l0.1 0.2l0.1 2.4l0.2 0.8l0.1-1.4l0.1 3.2l0.2 1.6l0.1 1.1l0.1-0.9l0.1 1.6l0.1 1.9l0.1-1.4l0.1 3.4l0.1-1.4l0.1-0.8l0.1 6.3l0.1-1.8l0.1 3.2l0 1.1l0.1-1.2l0.1 4.2l0-0.7l0.1-0.8l0 2.1l0.1 2.3l0.1 0.3l0 1.9l0.1 0.6l0.1-0.4l0 4.8l0.1-0.6l0.1 2.6l0.1-0.3l0.1-0.7l0.1 2.1l0.1 1.7l0.1-1.5l0.1 1.3l0.1 0.6l0.1 0.7l0.2-1.5l0.1-0.1l0.2 2.1l0.2-0.8l0.3 0.7l0.5-3.1l0.5 1.1l0.5-1.1l0.4-0.2l0.4-1.5l0.2-0.6l0.2-0.7l0.2-0.7l0.1 2.9l0.2-0.7l0.1-1.4l0.1 3.6l0.1 1.3l0.1-2l0.1 2.2l0.1 0.2l0.1 3.2l0.1-1.2l0.1 3.8l0.1-0.3l0.1 0.6l0.1 0.4l0 2.8l0.1-0.7l0.1 2.6l0.1 0.7l0.1 2.4l0.1 2.2l0.1-1.8l0.1 3.5l0.2 0.2l0.1 0.7l0.1 0.5l0.2 0.6l0.2 3.3l0.1-1.8l0.2-2.9l0.2 5.4l0.1 0.9l0.1 1.7l0.2-1.2l0.1 3.1l0.1-0.7l0.1 2.5l0.1 1.6l0.1-2.5l0.1 2.3l0.1 2.6l0 1.2l0.1-2l0.1 1.4l0.1 2.3l0.1-1.4l0 1.4l0.1 2l0.1 0.4l0.1 1.4l0-0.4l0.1 1.2l0.1 2.4l0.1-1.1l0.1 1.5l0.1 1.3l0.1 0.3l0 1.3l0.1 0.8l0.1 2.7l0.1-0.7l0.1 2.2l0.1 1.4l0.1 2l0.1-1.8l0.1 2.4l0.1 0.7l0.1-1.2l0.1 1.8l0-0.3l0.1 1.3l0.1-0.2l0.1 4.8l0.2-1.7l0.1 1.9l0.1-0.6l0.1 2.3l0.1-1.4l0.1 0.6l0.1-0.3l0.2 3.9l0.1 2.1l0.1 0l0.2 0.4l0.2 0.4l0.1 2.6l0.2 1.4l0.2-0.2l0.1 0.8l0.2 1.9l0.2-1.3l0.2-1l0.1 2.6l0.2 2l0.2 0.3l0.2 1.3l0.1 3.3l0.2-2.5l0.2 1.5l0.1 2.3l0.2-1.2l0.1 1.5l0.2-1.8l0.1 4.2l0.2 1.5l0.1 1.5l0.2 1.2l0.1-0.5l0.2 2.2l0.1-0.8l0.2 3.1l0.1-1.2l0.2 1.2l0.1 3.1l0.2-2.4l0.1 0.9l0.2 1.5l0.1-0.2l0.2 1.9l0.1-0.5l0.2 3.4l0.1-1l0.2 2.7l0.1 0.9l0.2 0.1l0.1 1.6l0.2 1.2l0.1-3.1l0.2 2.7l0.1 2.3l0.2 2.7l0.1-3.7l0.2 6.2l0.1-2.4l0.1-1.2l0.1 2.4l0.1 1.2l0.1 1.5l0.2 0l0.2 3.2l0.2-0.6l0.7 2.1l1.2-2.1l0.5 0.1l0.1-0.2l0.1 0.8l0.1 0.1l0-1l0.1-3.8l0 3.2l0-2.9l0.1-0.2l0-1.9l0 0.1l0-2.3l0.1-0.4l0-3.5l0 0.7l0-1.2l0-0.3l0.1-1.2l0-2.1l0.1-0.1l0-1.3l0.1 0l0-1.6l0.1-0.8l0 0.4l0.1-4.7l0-0.4l0.1-1.5l0 0.9l0.1 0.3l0-1.9l0.1-2.1l0.1-0.5l0-0.5l0.1-0.2l0-3.2l0.1 0.1l0 0.6l0.1-0.9l0-1.9l0.1-1.4l0 0.6l0.1-0.9l0-1.8l0.1-2l0 0.4l0.1-3.6l0-1l0.1 2.8l0-2.9l0.1 0.3l0-2.8l0.1 1.7l0-2.9l0.1-3l0 2.6l0.1-0.1l0-2.9l0.1-1l0-1.2l0.1-1l0-1.1l0.1-0.7l0-0.1l0.1-0.2l0-1.8l0.1-2.2l0 0.6l0.1 0.2l0.1-1.4l0-0.5l0.1-1.8l0.1-1.3l0-1.5l0.1-0.8l0-0.7l0.1 0.6l0.1-2.7l0 2.5l0.1-3.3l0 0.8l0.1-3.3l0 0.6l0.1-1.1l0-1.1l0 0.4l0-4.1l0.1-1.2l0 3.3l0-4.1l-0.1 0.9l0-1.9l0 0.6l0-2.2l0-3.3l0 1l0-1.5l0 0.8l0-2.9l-0.1 0l0 1.6l0-2.3l0-1.7l0-0.2l0-1.3l0-0.8l0-3.7l0 0.8l0 0.4l0-2.6l0 1.9l0 0.2l0-8l0 2.6l0.1-0.2l0-3l0 2l0-1.2l0 0.2l0-3.6l0.1-1.9l0 2.3l0 0.2l0-4l0 0.3l0.1-2.4l0 0.2l0-1.8l0.1-2.7l0 0.5l0 1.1l0-2.7l0.1-0.2l0-1.2l0-1.7l0.1 1.9l0-4.5l0-0.1l0.1 3.1l0-7.5l0 2.2l0-1.4l0.1-0.5l0-0.1l0-0.8l0.1 0.3l0-1.5l0-1.4l0.1-1.1l0-2.2l0-1.1l0.1 0.4l0-0.6l0.1-1.2l0-1.7l0-0.5l0-2.2l0.1 0.1l0 0.4l0-2.7l0.1-0.3l0-1.4l0-1.1l0-0.1l0 0.3l0.1-2.9l0-1.5l0-0.1l0 0.9l0.1-2.3l0-2.3l0-1.3l0-0.9l0.1-1.2l0 0.4l0-1.3l0-1l0 0.9l0.1-2.1l0 0.4l0-3.2l0.1-1.5l0-1.6l0 2.4l0-3.5l0-1.3l0.1 2.6l0-4l0 2.3l0-2.3l0.1-2.8l0 0.2l0 0.1l0-1.8l0.1 0.4l0-2.8l0-1.3l0-0.5l0-1l0.1-0.3l0 0.5l0-3.3l0 2.3l0.1-3l0-2.6l0 0.3l0-0.5l0-1.5l0.1 0.7l0-1.3l0-1.2l0-3.1l0.1 1l0 1.6l0-4.4l0-2.7l0 0.1l0.1 2.3l0-5.1l0 4l0-3.7l0.1-1l0 2.7l0-1.3l0-2.7l0-3.7l0.1 0.8l0 0.6l0-1.7l0-1.1l0.1-2l0 1.3l0-2.1l0 1.2l0-2.9l0.1-2.8l0 3.4l0-3.1l0-1.6l0.1 0.6l0-1.2l0-1.3l0-0.7l0-3.7l0.1 1.9l0-5.5l0 2.2l0-0.8l0-0.8l0.1 0.3l0-0.9l0-0.6l0-1.9l0.1-3.1l0 4l0-5.4l0-0.2l0-1.6l0.1-0.7l0 1l0-0.9l0 0.1l0-1.6l0.1-1.3l0 1.6l0-3.4l0-0.9l0.1 2.1l0-4.8l0-0.2l0 0.5l0-1l0.1-2.5l0-2.1l0 1l0-0.2l0.1-1l0-3.1l0 1.4l0-1.9l0.1-1l0-3.3l0 0.4l0 0.2l0.1 1l0 1.4l0-2.2l0-2.7l0.1-1.4l0 0.3l0-0.8l0-3.1l0.1-2.1l0 2l0-2.6l0 1.5l0.1-2.1l0-0.6l0-2.4l0-0.8l0.1-1.7l0-2.7l0 3l0-3.2l0.1 1.5l0 0.2l0-5.5l0 2.7l0.1-2.7l0-0.2l0-2.9l0-0.8l0.1-1.9l0 1.6l0-1l0-1.8l0.1-0.1l0-2.9l0 0.9l0.1 0.1l0-0.6l0-1.5l0 0.1l0.1-0.1l0-0.9l0-4.1l0.1-0.3l0-2.9l0 0.4l0.1 0.8l0-2.8l0.1-0.2l0-0.5l0 0.7l0.1-1.9l0-1.4l0.1 0.2l0-2.7l0.1 1.7l0-1.6l0.1-1l0-2.3l0.1 0.9l0.1-1l0.1-1.9l0-0.9l0.1-0.7l0.1-1l0.1-2l0.1-1.2l0.1 1.2l0.1-1.8l0.1-0.8l0.1-3.4l0.1 1.4l0.1-2.1l0.1-0.2l0.1 0.6l0.2-2.3l0.1-1.7l0.1-1l0.1 1.8l0.1-1.2l0.2-2.7l0.1-0.5l0.1-1.1l0.1 1l0.2-2.2l0.1-0.5l0.1-1.1l0.2-0.8l0.1-0.8l0.1-1.6l0.2-1.2l0.1-1.7l0.2-1l0.1 0.8l0.2-1.1l0.1-1.3l0.2-1.1l0.1-0.7l0.2-2.5l0.2 2.5l0.2-1.9l0.1-1.3l0.2-1l0.2-0.7l0.2-1.2l0.2-1l0.2-0.6l0.2-1.5l0.2 0.2l0.2-0.3l0.2-2.3l0.2-0.4l0.2-2.2l0.3 0.1l0.2-1.3l0.3-0.6l0.2 0.4l0.3-2.4l0.2-0.3l0.3 0l0.3-1.6l0.3-1l0.3-0.2l0.3-2.1l0.3 0.5l0.6-1.5l0.6-2.2l0.6-1.4l0.6-1.1l0.7-1.1l0.7-3.1l0.7-1l0.8-0.9l0.9-2.3l0.9-0.5l1-1.4l1.2-0.3l1.4-0.8l1.5-1.3l1.6-0.1l1.5-1.3l1.6-0.4l1.5 0l1.5-0.3l1.6 0.2l1.6-0.1l1.7 0l1.6-0.4l1.6-0.4l1.6 0.3l1.6-0.1l1.6-0.5l1.6 0l1.6 0.3l1.6-0.1l1.6 0.3l1.6-0.4l1.6-0.6l1.6 0.6l1.6-0.3l1.6 0.1l1.6 0.4l1.6-0.7l1.6 0.1l1.6-0.2l1.6 0.3l1.6 0l2.5-0.4l2.5 0l2.5-0.1l2.5-0.2l2.5 0.6l2.5-0.7l2.5 0l2.5-0.1l2.5 0.4l2.5-0.4l2.5-0.4l2.5 0.1l2.5 0.4l2.5-0.1l2.5 0l2.5 0l2.5 0l2.5-0.6l2.5 0.4l2.5-0.2l2.5-0.1l2.5 0.4l2.5-0.4l2.5-0.3l2.5 0.5l2.5 0.2l2.5 0.1l2.5-0.3l2.5-0.3l2.5-0.1l2.5 0.3l2.5 0l2.5-0.1l2.5-0.1l2.5 0.2l2.5 0.3l2.5-0.3l2.5-0.3l2.5 0.5l2.5 0.2l2.5 0.1l2.5-0.7l2.5 0l2.5 0.8l2.5-1.1l2.5 0.7l2.5-0.7l2.5 0.7l2.5-0.2l2.5-0.6l2.5 0.7l2.5 0.1l2.5-0.4l2.5 0.1l2.5-0.1l2.5 0l2.5 0l2.5 0.1l2.5-0.2l2.5-0.1l2.5 0.4l2.5 0l2.5-0.1l2.5 0.4l2.5 0.1l2.5-0.5l2.5 0.2l2.5-0.2l2.5 0.5l2.5-0.2l2.5-0.4l2.5-0.1l2.5 0.5l2.5 0.2l2.5-0.2l2.5-0.2l2.5 0l2.5 0l2.5 0.3l2.5 0l2.5 0l2.5-0.1l2.5-0.5l2.5 0l2.5 0.2l2.5-0.1l2.5 0.2l2.5-0.5l2.5 0.4l2.5 0.6l2.5-0.9l2.5 0l2.5 0.4l2.5 0.1l2.5-0.2l2.5 0l2.5 0.4l2.5-0.4l2.5-0.2l2.5-0.1l2.5-0.1l2.5 0.7l2.5 0.1l2.5-0.3l2.5-0.5l2.5 0.2l2.5 0.1l2.5 0.3l2.5-0.1l2.5-0.1l2.5 0l2.5 0.3l2.5-0.4l2.5 0l2.5 0.3l2.5-0.4l2.5-0.1l2.5 0.1l2.5 0.3l2.5-0.4l2.5 0.3l2.5-0.5l2.5 1.1l2.5-0.5l2.5-0.2l2.5 0.2l2.5-0.3l2.5 0.3l2.5-0.3l2.5 0l2.5-0.1l2.5 0.5l2.5-0.4l2.5 0.1l2.5 0.5l2.5-0.4l2.5 0.1l2.5-0.1l2.5 0.3l2.5-0.2l2.5-0.2l2.5 0l2.5 0l2.5-0.2l2.5 0.2l2.5 0.2l2.5-0.1l2.5-0.5l2.5 0.1l2.5 0.7l2.5-0.7l2.5 0.6l2.5 0l2.5 0.4l2.5-0.3l2.5-0.1l2.5-0.4l2.5 0.3l2.5 0.2l2.5-0.2l2.5-0.2l2.5 0l2.5 0.6l2.5-0.1l2.5-0.4l2.5 0.1l2.5 0l2.5-0.2l2.5 0.2l2.5 0.4l2.5-0.5l2.5 0.2l2.5 0.2l2.5-0.6l2.5 0.6l2.5-0.4l2.5-0.3l2.5 0.7l2.5 0.1l2.5-0.7l2.5 0.5l2.5-0.7l2.5 0.2l2.5 0.7l2.5-0.6l2.5 0.3l2.5-0.1l2.5-0.4l2.5 0.4l2.5-0.2l2.5-0.3l2.5 0l2.5 0.8l2.5-0.5l2.5 0.3l2.5 0.3l0.8-0.3" fill="none" stroke="#0668EA" stroke-width="2.8" stroke-linejoin="round" />
<path d="M1502.4 2190.8l2.5 0.1l2.5 0.2l2.5 0.4l2.5 0.4l2.5 0l2.4-0.1l2.5 0.7l2.5-0.1l2.5 0.3l2.5 0.6l2.5 0.4l2.5-0.3l2.5 0.2l2.5-0.4l2.5 0.7l2.5-0.6l2.5 0.4l2.5 0.1l2.5-0.2l2.5-0.3l2.5 0.5l2.5 0.1l2.5-0.6l2.5 0.4l2.5 0.3l2.5 0.1l2.5-0.1l2.5-0.2l2.5 0l2.5-0.1l2.5 0.5l2.5-0.8l2.5 0.3l2.5 0.1l2.5-0.1l2.5-0.3l2.5 0.3l2.5 0l2.5-0.2l2.5 0.1l2.5 0.2l2.5-0.2l2.5 0.2l2.5 0.6l2.5-0.6l2.5 0.4l2.5 0.7l2.5-0.4l2.4 0.3l2.5 0.5l2.5 0.2l2.5 0.7l2.5-0.1l2.5 0.4l2.5-0.3l2.5 0l2.5 1.2l2.5-0.2l2.4 0.1l2.5 0.7l2.5 0l2.5 0l2.4 0.5l2.5 0.7l2.5 0l2.4 0.6l2.5 1.7l2.4-0.2l2.5 0.8l2.4 0.7l1.5-0.3l1.6 0.3l1.5 1.1l1.5-0.2l1.6 1.8l1.5 0.4l1.5-0.3l1.5 0.2l1.5 1l1.5 1.2l1.5 0.6l1.4 0.6l1.5 0.3l1.5 0.3l1.4 0.7l1.5 0.4l1.4 1.1l1.5 0l1.5 0.8l1.4 0.9l1.5 1.3l1.4 0.4l1.5 0.6l1.4 0.3l1.4 1l1.4 0.6l1.4 0.7l1.4 0.9l1.3 1.9l1.3 0.4l1.3 1.3l1.3-0.3l1.3 2l1.2 0.5l1.4 0.7l1.3 1l1.4 0.7l1.5 1.1l1.4 1.1l1.5-0.1l1.6 1.6l1.5 0.1l0.9-0.1l0.9 1.1l0.8-0.4l0.9 0.2l0.9-1l0.9 0.8l0.9 0.5l0.9-1.2l1 0l0.9-1l0.9 1.2l0.9 0.6l0.9-1l0.9-0.4l0.9-0.1l0.9 0.2l0.8 1.3l0.8-0.7l0.8 0.5l0.8-1.4l0.9 1.8l0.7 0.7l0.8 0.5l0.8 0.5l0.7 1.6l0.7-0.3l0.6 0l0.6 2.1l0.6-0.3l0.5 1.2l0.5 1.1l0.5-0.3l0.5 1.3l0.5-0.4l0.4 1.7l0.4 0.2l0.5 2.2l0.4 0.9l0.3-0.5l0.4 0.2l0.4 0.9l0.3 1.8l0.3 1.7l0.4 1l0.3 0.4l0.3 0.8l0.2 0.4l0.3 1.9l0.3 0.3l0.3 1.8l0.2-0.3l0.3 0l0.2 1.7l0.3 1.9l0.3 0.6l0.2 0.8l0.3 1.1l0.3 0.5l0.2-0.3l0.3 0.9l0.3 0.8l0.2 1l0.3-0.2l0.2 2.2l0.3 1.4l0.3 0.2l0.2 2l0.3 1.5l0.2-2.5l0.3 2.5l0.2 2.9l0.3-0.4l0.2 0.8l0.3 1.2l0.3 1.1l0.2-0.6l0.3 2l0.2 0.7l0.3 0.9l0.3 0.2l0.2 1l0.3-0.4l0.2 1l0.3 3.5l0.2 0.3l0.3-1.3l0.3 0.4l0.2 3.7l0.3 0.3l0.2 0.3l0.3 1.8l0.3-1.3l0.2 1.7l0.3 0.6l0.3 1l0.2 0l0.3 2.5l0.3-0.6l0.2 1.1l0.3 2.9l0.2-1.5l0.3 2.5l0.2 0.7l0.3 3l0.2-1.9l0.3 0.6l0.2 0.1l0.3 2.6l0.2 1.2l0.2-0.1l0.2 1.4l0.3 1l0.2 1.8l0.2 0.2l0.2-0.7l0.2 0.9l0.2 2l0.2 1.1l0.3 0.7l0.2 0.7l0.2 1.5l0.2-0.3l0.2-0.1l0.2 3.8l0.2-0.6l0.3-0.1l0.2 0.7l0.2 2.4l0.2 1.4l0.2-1.2l0.3 1.4l0.2 1.3l0.2 0.6l0.3 1.1l0.2 2.4l0.2-0.1l0.2 0.9l0.3 1.2l0.2-0.8l0.2 1.7l0.2 1.6l0.2 0.7l0.2 0.2l0.2 0.8l0.2 2.6l0.2-1.4l0.2 1.2l0.2 0.9l0.2 2l0.2 1.2l0.1-1.8l0.2 3.2l0.2 0.2l0.2-0.2l0.1 1l0.2 4.6l0.2-3.6l0.1 2.9l0.2 0.8l0.1 1.1l0.2 0.9l0.2 0.7l0.1-0.8l0.2 3.3l0.1-1.6l0.2 2.3l0.2 2.5l0.1-0.1l0.2-0.8l0.1 2.1l0.2 0.7l0.1-0.7l0.2 3l0.1 1.6l0.2 0l0.2 2.3l0.1-1.4l0.2 2.1l0.1 1.5l0.2-1.7l0.1 2.8l0.2-1.7l0.2 4.5l0.1-0.5l0.2 1.1l0.1-1.5l0.2 4.9l0.1-0.7l0.2 0.4l0.1 1.7l0.2 1.3l0.1 1l0.1 1l0.2 0.5l0.1 1.8l0.2 1.1l0.1-1.6l0.1 1.8l0.2 1.6l0.1-0.3l0.1 1.3l0.2 0.8l0.1 1.5l0.1-0.3l0.1 2.9l0.2-2.7l0.1 3.4l0.1 1.1l0.1-1l0.1 2.4l0.2 0l0.1 0.4l0.1 1l0.1 1.2l0.1 1.8l0.1 1.3l0.2 1.3l0.1-0.8l0.1 0.7l0.1 3.4l0.1 0.4l0.1-2.2l0.1 4.1l0.1-2l0.1 2.8l0.2 0l0.1 1.6l0.1 0.5l0.1 0.6l0.1 2.9l0.1-0.5l0.1 1.4l0.1 1.9l0.1-0.5l0.1-0.5l0.1 1.4l0.1 0.9l0.1 1.8l0.1 0.2l0.1 0.5l0.1 1.5l0.1-0.5l0.1 1.1l0.1 1.8l0.1 2.9l0.1-0.9l0.1 0.9l0 2.1l0.1 0.6l0.1 0l0.1 0.4l0.1 0.5l0.1 2.5l0.1 1l0.1 0l0.1 1.4l0-2l0.1 3.8l0.1 1.2l0.1 0.8l0.1 1.5l0.1-0.8l0.1 1l0.1 1.3l0 2.9l0.1-1.7l0.1 0.5l0.1 1.8l0.1 0.7l0.1 1.1l0.1 2.2l0.1-0.3l0 1.3l0.1-0.2l0.1 1.7l0.1 1.2l0.1 1.1l0.1 1.9l0.1 0.5l0.1 1.5l0-1.6l0.1 2l0.1 0.5l0.1 1.3l0.1 1.3l0.1 0.5l0.1 1.6l0.1-0.1l0.1 1.3l0.1 1.2l0.1 2.2l0.1-1.5l0.1 2.5l0.1-0.5l0.1 2.2l0.1 2.1l0.1-1.1l0.1 2.9l0.1-0.8l0.1 1.9l0.1 0.9l0.1 0.4l0.2 0.9l0.1 2.1l0.1-2.7l0.1 3.6l0.1-0.2l0.1 1.9l0.1-0.2l0.1 0.8l0.1-1.3l0.1 3.4l0.1 0.3l0.1 1.7l0.1 0.3l0.1 2.9l0.1-1.8l0.1 3.6l0-0.8l0.1 0.2l0.1 3.7l0.1 0l0 0.7l0.1 2.3l0-1.4l0.1 4l0.1 1.5l0 1.3l0.1-1.2l0.1 3.4l0 1.1l0.1-0.4l0.1 1.4l0.1 1.1l0 0.6l0.1 0.2l0.1 0.3l0.1 0.5l0.1 0.8l0.1 0.2l0.2-0.1l0.1 0.2l0.2-1l0.2 0.3l0.3-1l0.3-2l0.3 0.7l0.3-1.9l0.3-1.4l0.3-2.5l0.3-0.7l0.3-2.4l0.3 0.7l0.2-1.8l0.1 0.2l0.2 1.8l0.1-1.4l0.2 2.8l0.1-0.2l0.1 0.3l0.1 0.3l0.1 0.7l0.2 2.9l0.1-2.1l0.1 1.5l0.1 1.5l0.1 2.5l0.1-1.4l0 0.5l0.1 1.1l0.1 4.2l0.1 0.7l0.1 1l0-0.5l0.1 2.5l0.1 0.7l0.1 1.2l0 1.6l0.1 1.3l0.1-1.2l0 0.3l0.1 1.3l0 3.4l0 1.6l0.1-0.5l0 2.2l0-0.1l0.1 3.3l0 1l0-0.2l0 1l0.1 1.2l0-0.1l0.1 4.4l0-1l0.1 0.7l0 3.5l0.1-1.4l0.1-1.5l0 0.8l0.1 2.9l0.1-1l0.4 0l0.5-2.2l0.3-3l0.1 1.4l0.1-4.2l0.1 0.5l0.1 0.5l0-0.3l0.1 0.2l0-2.2l0.1-2.2l0 1.5l0-3.6l0.1 0.2l0-0.9l0-0.4l0.1-2.4l0 2.5l0-2.4l0-1.9l0.1 1.3l0-2.2l0 0.2l0.1-2.8l0-0.5l0-0.4l0.1-2.7l0 0.4l0.1-0.7l0-0.3l0.1-2.8l0.1 0.4l0 0.3l0.1-1.4l0.1-1.5l0-2.2l0.1 0.9l0.1-1.8l0.1-0.7l0.1-0.7l0-0.6l0.1-1.2l0.1-1.2l0.1 0.5l0.1-2.1l0.1-1.7l0.2 0.3l0.1-0.9l0.1-1.2l0.2-0.8l0.1-0.8l0.3-1.2l0.2-1.5l0.4 0.4l0.3-0.2l0.3-3.4l0.3-0.8l0.3 0.4l0.2-1.9l0.1-2.7l0.1 1.8l0-0.7l0.1 0.4l0.1-3.2l0 1.1l0.1-1.4l0-1.1l0.1-0.8l0-1.5l0.1-1.7l0 0.3l0-0.9l0.1-2.9l0-1.7l0 1.6l0.1-1.1l0-0.8l0-2.8l0.1 1.7l0-4.4l0 2.3l0-1.8l0.1-2.2l0 1.9l0-1.5l0-1.2l0.1-0.6l0-0.8l0-1l0-3.9l0 2.6l0.1-0.9l0-3.4l0 0.8l0-0.6l0 0.8l0.1-1.5l0-3.3l0 0.9l0-2.5l0.1-1.6l0 0.1l0 0.1l0-1l0.1-2.5l0-0.9l0 0.1l0.1-1.5l0 0.6l0-0.7l0.1-1.3l0-1.2l0 0.5l0-2l0.1-3.7l0 2.1l0-2l0.1 0.6l0-0.8l0-0.9l0-3.2l0.1 1.2l0-4.1l0 1.4l0.1-1.5l0-0.2l0-0.3l0-3l0.1 0.8l0-0.7l0-3.1l0.1 1.1l0-2.4l0 1.6l0-3.6l0.1 0.5l0-3.1l0-1.1l0.1 0.9l0-0.5l0-0.4l0.1 0l0-4l0 1.4l0-2.4l0.1-1.5l0 0.2l0-1.5l0.1 1l0-1.4l0-2.1l0.1 0.3l0-1.5l0-0.9l0.1-1.1l0-3.4l0.1 0l0-1.3l0 0.1l0.1-0.5l0-0.6l0-0.3l0.1 0.8l0-1.8l0.1-1l0-1.3l0 0.3l0.1-2.2l0-0.4l0-1l0.1-1.5l0-0.6l0.1-1.7l0 0.4l0-3.4l0.1-0.1l0-0.3l0.1-0.5l0-1.3l0.1 0.6l0-4.3l0 1.3l0.1-0.2l0-0.5l0.1-1.2l0-3l0.1 1.2l0-0.1l0.1-2.4l0 0.8l0-2l0.1-1.7l0-0.4l0.1-0.8l0.1-1.8l0-0.5l0.1-1.9l0-1.2l0.1 1.1l0-1.8l0.1-1.5l0-1.3l0.1-1.2l0 0.3l0.1-1.6l0 0.9l0.1-1.5l0-1.5l0.1-2.7l0.1 1.1l0-0.4l0.1 0l0-2.9l0.1-1.2l0-1.3l0.1 1.4l0.1-2.8l0-0.8l0.1-1.1l0-0.8l0.1 0.5l0.1-3.6l0-1l0.1 0.8l0-0.8l0.1 0.8l0.1-3.2l0 0.2l0.1 0.7l0.1-2.3l0-2.9l0.1-0.6l0.1 0l0-0.5l0.1 0.5l0.1-2.4l0-0.2l0.1-0.9l0.1-4.7l0 3l0.1-2.9l0.1 1.8l0.1-3.9l0 1.6l0.1-1.1l0.1 0.1l0.1-2.2l0-2.1l0.1-0.2l0.1-2.5l0.1-0.9l0.1-1.7l0 0.8l0.1 0.4l0.1-1.3l0.1-1.5l0.1 0.4l0-2.9l0.1-1.7l0.1 2.1l0.1-3.1l0.1 0.6l0.1-1.9l0.1 1.6l0-2.2l0.1-1.6l0.1-0.9l0.1 0.5l0.1-2.2l0.1-2l0.1 0.1l0.1-2.4l0 1.4l0.1-1l0.1-2.1l0.1-0.9l0.1-1.3l0.1-0.4l0.1-0.7l0.1 1.3l0.1-3.3l0.1-1l0.1 0.4l0.1-3.1l0.1 0.5l0.1 0.2l0-2.2l0.1-1.2l0.1-0.2l0.1-1.5l0.1-2.7l0.1 1.4l0.1 0.7l0.2-2.5l0.1-2l0.1 0.1l0.1 0.3l0.1 0.5l0.1-1.4l0.1-3.6l0.1-0.9l0.1 2.2l0.1-3.4l0.1-1.9l0.2 0.4l0.1-1.8l0.1-1.4l0.1-1.1l0.1 2l0.2-1.5l0.1-1.1l0.1-1l0.2-0.7l0.1-2.1l0.1 0.4l0.2-0.6l0.1-1.9l0.1-0.4l0.2-2.4l0.1-1.7l0.1 1.1l0.2-1l0.1-1.7l0.2 0.6l0.1-1.6l0.1-0.4l0.2-2.8l0.1 1.6l0.2-2l0.1-2.1l0.1 0.5l0.2-1.3l0.1-0.8l0.2-0.8l0.1-0.9l0.1-0.8l0.2-0.5l0.1-0.7l0.2-1.9l0.1 0.7l0.1-2.7l0.2-0.6l0.1-0.7l0.1-1l0.2-0.6l0.1-0.8l0.1-1.5l0.2 0.4l0.2-2.1l0.3-1.9l0.2-1.9l0.3-0.7l0.3-1.5l0.2-2l0.3-1.3l0.4-1.8l0.3-2l0.3-1.9l0.4-0.4l0.4-1.8l0.3-1.8l0.5-1.4l0.4-1.1l0.5-2.1l0.6-1.5l0.6-1.7l0.7-1l1.7-1.7l2-1.8l2.2-1l2.4-0.3l2.6-0.5l2.6 0.2l2.5-1l2.5 0.4l2.5-0.5l2.5-0.4l2.5-0.4l2.4-0.1l2.5-0.3l2.5 0.1l2.5-0.5l2.5 0.6l2.5-0.1l2.5-0.3l2.5 0.1l2.5-0.3l2.5-0.1l2.5-0.1l2.5 0.2l2.5 0.1l2.5-0.1l2.5-0.5l2.5 0.1l2.5 0.3l2.5-0.3l2.5-0.1l2.5 0l2.5-0.2l2.5 0.3l2.5-0.5l2.5 0.3l2.5 0.2l2.5-0.8l2.5 0.5l2.5 0.2l2.5-0.1l2.5-0.2l2.5-0.4l2.5 0.5l2.5-0.2l2.5 0.5l2.5-0.3l2.5-0.3l2.5 0.3l2.5-0.1l2.5-0.3l2.5 0.5l2.5-0.4l2.5 0.2l2.5 0l2.5-0.1l2.5 0.2l2.5-0.3l2.5 0l2.5 0.4l2.5-0.2l2.5-0.1l2.5-0.1l2.5 0.1l2.5 0.1l2.5 0l2.5-0.1l2.5-0.1l2.5 0.1l2.5-0.2l2.5 0.1l2.5-0.1l2.5 0.3l2.5 0l2.5-0.3l2.5 0.1l2.5-0.1l2.5 0.3l2.5-0.2l2.5 0.1l2.5 0.2l2.5-0.4l2.5-0.1l2.5 0.5l2.5-0.3l2.5-0.1l2.5 0.2l2.5-0.1l2.5 0.2l2.5-0.3l2.5 0.3l2.5-0.1l2.5-0.2l2.5 0.1l2.5 0.2l2.5 0l2.5-0.2l2.5 0.5l2.5-0.4l2.5-0.3l2.5 0.6l2.5-0.3l2.5 0.1l2.5-0.3l2.5 0.4l2.5-0.1l2.5-0.6l2.5 0.3l2.5 0.2l2.5 0.2l2.5-0.2l2.5 0l2.5 0.1l2.5-0.3l2.5-0.1l2.5 0l2.5 0.3l2.5 0l2.5 0.2l2.5-0.3l2.5 0.3l2.5-0.2l2.5 0.2l2.5-0.7l2.5 0.2l2.5 0.1l2.5-0.3l2.5 0.9l2.5-0.3l2.5-0.1l2.5-0.1l2.5-0.1l2.5-0.3l2.5 0.3l2.5 0.2l2.5 0.1l2.5-0.2l2.5 0.1l2.5-0.2l2.5 0l2.5 0.4l2.5-0.2l2.5 0.1l2.5-0.1l2.5-0.1l2.5-0.3l2.5 0.4l2.5 0.1l2.5 0.2l2.5-0.4l2.5 0.5l2.5-0.5l2.5 0l2.5-0.1l2.5-0.1l2.5 0.3l2.5 0l2.5-0.2l2.5 0.1l2.5-0.1l2.5 0.2l2.5-0.3l2.5 0l2.5 0.4l2.5-0.3l2.5 0l2.5 0l2.5 0.3l2.5-0.1l2.5 0.2l2.5-0.3l2.5 0.1l2.5 0.1l2.5 0l2.5-0.1l2.5-0.1l2.5 0.3l2.5-0.3l2.5-0.1l2.5 0.4l2.5-0.3l2.5-0.3l2.5 0.3l2.5 0.1l2.5 0.1l2.5-0.2l2.5-0.3l2.5 0.4l2.5-0.2l2.5 0l2.5 0.2l2.5 0.1l2.5-0.4l2.5 0.3l2.5 0.4l2.5-0.5l2.5 0l2.5 0.1l2.5-0.1l2.5-0.2l2.5-0.1l2.5 0.3l2.5-0.1l2.5 0.3l2.5 0l2.5 0l2.5-0.6l2.5 0.2l2.5 0.2l2.5 0.2l2.5 0l2.5 0l2.5-0.2l2.5-0.2l2.5 0.1l2.5 0.2l2.5-0.2l2.5 0l2.5-0.2l2.5 0.3l2.5 0l2.5 0.3l2.5-0.6l1.9 0.1" fill="none" stroke="#06AA5A" stroke-width="2.8" stroke-linejoin="round" />
<path d="M1502.4 2191.6l2.5-0.2l2.5 0.2l2.5 0.2l2.5-0.1l2.5 0.1l2.5 0.2l2.5 0.1l2.5 0.3l2.5-0.1l2.5-0.1l2.5 0.3l2.5 0.3l2.5-0.3l2.5 0.3l2.5-0.2l2.5 0.5l2.5 0l2.5-0.1l2.5 0.1l2.5-0.1l2.5 0.2l2.5 0.1l2.5 0.1l2.5 0.1l2.5-0.1l2.5 0.1l2.5 0.2l2.5 0l2.5 0l2.5 0l2.5 0.2l2.5-0.1l2.5 0.2l2.5 0.1l2.4-0.1l2.5 0.5l2.5 0.2l2.5 0.3l2.4 0.5l2.5 0.7l2.4 0.4l2.5 0.8l2.4 0l2.5 0.9l2.4 0.2l2.5 0.8l2.4 0.2l2.5 0.7l2.4 0.3l2.5 0.5l2.4 1.1l2.5 0.3l2.5 0.9l2.5 0.7l2.3 0.7l2.3 1.2l1.9 1l1.7 1.7l1.4 2.3l1.5 2.5l1.7 1.8l2.2 0.6l2.4 0.8l1.8 1.4l1.6 1.9l1.5 2.5l1.4 1.9l1.2 2.2l1.2 1.9l1.2 2.9l1.3 1.9l1.3 2.2l1.5 1.8l0.9 1.8l1 0.6l1 1.6l1 1.3l1 1.3l0.9 1.1l1 0.7l1 1.2l1 2.3l0.9 1.3l1 0.7l1 1.4l0.9 1l1 0.9l1.1 1.9l1 1.2l1 1.6l1.1 0.5l1.1 1.8l1.2 1.1l1.2 0.4l1.2 1.8l1.2 0.6l1.2 1.1l1.3 0.9l1.2 0.9l1.2 1.8l1.3 0.9l1.2 0.1l1.2 2l1.2 0.2l1.2 1.7l1.2 0.7l1.3 1.5l1.3 0l1.4 0.5l1.4 2l1.4 0.8l1.5 0.2l1.5 1.4l1.5-0.1l1.6-0.9l1.6-0.1l1.6-0.1l1.6 0.3l1.5-0.2l1.4-1.1l1.4-0.9l1.3-1.5l1.3-0.1l1.2-2.3l1.1 0.3l1-2.3l0.8-1.2l0.8-1.3l0.7-0.4l0.6-2.7l0.6-1.1l0.6-1.7l0.6-1.8l0.5-1l0.7-2.1l0.6-1.1l0.7-1.7l0.6-0.8l0.6-1.6l0.6-1.4l0.7-2.2l0.6-0.8l0.7-1.3l0.7-1.7l0.8-1l0.7-1.3l0.8-2.6l0.8-1l0.8-1.5l0.8-1.5l0.9-1.2l0.9-1.1l1.5-2.4l1.6-1.5l1.6-2.1l1.7-2.1l1.7-1.3l1.8-1.8l1.8-1.9l1.9-1.8l1.9-1.1l2.1-1.8l2.1-1.2l2.2-1.5l2.1-0.8l2.3-1.6l2.3-0.4l2.6 0.2l2.5 0.6l2.1 1.1l1.7 0.9l1.6 2.5l1.4 2.1l1.2 2.2l1.1 2.5l1 2.3l0.9 2.3l0.8 2.2l0.7 2.8l0.7 2.6l0.6 2.5l0.4 1.1l0.4 1.3l0.3 1.2l0.4 1.5l0.3 2l0.3 1.3l0.3 2.8l0.2 0.7l0.3 0.9l0.2 1.8l0.3 2l0.2 1l0.2 2.5l0.2 1.5l0.2 1l0.2 1.8l0.2 1.5l0.2 2.5l0.2 1.6l0.2 1.2l0.3 2.1l0.2 0.2l0.2 2.5l0.2 1.1l0.2 2l0.2 2.6l0.2 0.2l0.2 2.5l0.2 0.7l0.2 1.8l0.2 1.1l0.1 2.8l0.2 0.2l0.2 2l0.2 1.6l0.1 1.5l0.2 1.9l0.2 1.3l0.2 1.1l0.1 2.2l0.2 1.7l0.2 1.2l0.1 2.2l0.2 1l0.1 1.7l0.2 2.1l0.1 1.2l0.2 1.7l0.1 1.2l0.2 2.9l0.1 0.1l0.1 2.7l0.2 1.1l0.1 1.6l0.1 2.9l0.1 0.1l0.1 2.1l0.2 1.5l0.1 1.6l0.1 1l0.1 3.2l0.1 0.4l0.1 1.8l0.1 1.5l0.1 1.1l0.1 1.6l0.1 2.6l0.1 1l0.1 1.3l0.1 2l0.1 1.7l0.1 2l0.1 1.6l0.1 0.2l0.1 2.6l0.1 1.6l0.1 1.3l0.1 1.8l0.1 1.9l0.1 0.7l0.1 2.7l0.1 0.8l0.1 2.5l0.1 0.7l0.1 2.1l0.1 2.2l0.1 0.7l0 2.5l0.1 0.4l0.1 2.1l0.1 1.1l0.1 1.6l0.1 2l0 2l0.1 0.9l0.1 1.2l0.1 2.4l0.1 1l0 1.9l0.1 0.7l0.1 3.1l0.1 0.4l0 2.4l0.1 2.3l0.1 0.9l0.1 1.1l0 2l0.1 1.1l0.1 2l0 1.5l0.1 1.2l0.1 1.9l0 2.1l0.1 0.8l0 2.5l0.1 2.3l0.1 0.6l0 2.5l0.1 0.5l0 1.4l0.1 2.5l0 0.9l0.1 1.7l0 1.5l0.1 2.2l0 1l0.1 1.9l0 0.8l0.1 2.7l0 1.2l0.1 1.6l0 0.2l0.1 2.7l0 1.9l0.1 1.9l0-0.1l0.1 2.9l0 1.4l0.1 1.9l0.1 0.9l0 2.3l0.1 2.4l0.1-0.2l0.1 3.4l0.1 0.8l0.1 1.7l0.1 1.8l0.1 1.5l0.1 1.4l0.1 1.8l0.1 2.1l0.1-0.6l0.1 3.7l0.1 0.5l0.1 1.6l0 2l0.1 1.8l0 1.3l0 0.7l0.1 2.5l0 2.2l0 1.6l0-0.2l0 4l0.1 0.7l0 1.6l0 1.7l0 1l0 2.2l0 1.5l0 1.4l0.1 1.3l0 2l0 1l0 2.2l0 0.8l0 2.3l0 1.7l0 1.4l0 2.1l0.1 0.9l0 2.6l0 1l0 1.5l0 1.6l0 0.6l0.1 1.5l0 2.1l0 1.3l0 2.5l0.1 2.4l0 0.7l0 0.9l0.1 1.4l0 2.3l0 1.9l0.1 2.1l0 0.9l0.1 1.4l0 1.6l0.1 1.9l0 1.7l0.1 1.8l0 2.7l0.1 0.6l0 2.3l0.1 1.4l0.1 1.1l0 0.7l0.1 2.6l0 1.3l0.1 2l0 1.3l0.1 2l0 1.6l0.1 1.3l0 1.8l0.1 1.2l0 1.3l0.1 1.6l0 1.9l0.1 1l0 1.9l0 1.9l0.1 1.8l0 1.6l0 1l0.1 1.1l0 1.7l0.1 2l0 1.8l0 1.7l0.1 2.2l0 1.2l0.1 1.6l0 0.9l0 2.1l0.1 1.2l0 2.2l0 1.2l0.1 1.6l0 2.1l0.1 1.7l0 2.7l0.1 0.8l0 2.6l0.1 1.9l0 1.6l0.1 0.8l0 1.4l0.1 1.5l0 2l0.1 1.1l0 2l0.1 1.7l0 2.2l0.1 1.5l0 1l0.1 1.9l0 1.1l0.1 2.2l0 1.5l0.1 2.1l0.1 1l0 2.5l0.1 0l0 1.5l0.1 2.3l0 2.1l0.1 1l0.1 1.7l0 2.6l0.1 0.6l0.1 1.6l0 1.5l0.1 2l0.1 2.4l0 1.2l0.1 1.3l0.1 1.6l0.1 1.6l0 1l0.1 1.5l0.1 1.8l0.1 2.4l0.1 1.3l0.1 1.4l0.1 1.6l0.1 1.9l0 1.5l0.1 1.4l0.1 1.3l0.1 2.4l0.1 1.5l0.1 1.4l0.1 0.5l0.1 2.9l0.1 1.5l0 1.2l0.1 0.7l0.1 2.8l0.1 1.5l0.1 1.5l0.1 1.2l0.1 2l0 1l0.1 3.3l0.1 0.6l0.1 1.6l0.1 1.1l0.1 2l0.1 2.2l0.1 1.6l0 1.1l0.1 1.3l0.1 1.2l0.1 2.4l0.1 1.6l0.1 1.2l0 2.1l0.1 2.2l0 1.9l0.1 3.3l0 2.4l0 0.3l0.1 3.3l0.1 0.9l0.1 2.4l0.1 0.7l0.1 0.4l0.2 1.7l0.2-0.7l1.7-1.3l0.2-1.5l0.1 0.1l0.1-2.4l0-1.2l0.1-0.4l0.1-1.9l0-1.4l0.1-1.3l0-1.6l0-1.7l0.1-2.2l0-1.7l0-1.9l0-1.7l0.1-1.4l0-2l0-2.5l0-0.5l0-2.4l0-2.3l0.1-1.4l0-1.1l0-2.4l0-0.7l0.1-2.6l0-0.8l0-2.6l0-1.1l0.1-2l0-1.4l0-1.1l0.1-1.5l0-2l0-1.5l0-1.6l0.1-1.6l0-1.4l0-1.1l0-2.3l0.1-1.7l0-1.6l0-1.8l0-2.6l0-0.8l0.1-0.9l0-2.5l0-1.1l0-1.8l0.1-0.7l0-2.7l0-1l0-1.2l0-2.3l0.1-2.4l0-0.9l0-1.4l0-1.8l0-0.8l0.1-2l0-0.9l0-2l0-2.4l0-1.2l0-1.3l0.1-2l0-2l0-1.3l0-0.4l0-2l0-2l0.1-1.7l0-1.8l0-1.2l0-2.3l0-1l0-2l0.1-1.1l0-2.1l0-1.4l0-1.6l0-1.6l0-1.5l0-2l0-1.1l0-2l0.1-1l0-2.1l0-1.1l0-2.1l0-1l0-2l0-2.2l0-1.3l0-1.5l0-0.8l0-1.8l0-2.9l0.1-0.4l0-1.1l0-2.2l0-2.1l0-1.1l0-2l0-1.5l0-1.3l0-2.3l0-1.5l0-1.1l0-2l0-1.4l0-1.1l0.1-1.9l0-2.2l0-1.1l0-1.8l0-1.6l0-0.9l0-2.3l0-1.6l0.1-1.5l0-1.1l0-2.2l0-2.2l0.1-1.3l0-3.7l0-1.3l0-3.6l0.1-1.9l0-2.5l0-1.3l0-1.4l0-1.8l0.1-1.3l0-1.3l0-1.5l0-2.5l0-0.7l0-0.4l0-3.3l0-1.5l0.1-1.1l0-2.3l0-0.7l0-1.7l0-1.2l0-2.5l0-2.1l0-1.2l0-1.4l0.1-1.2l0-2.4l0-0.9l0-2.7l0-1.3l0-1.3l0-1.9l0-1.4l0-1.7l0-1.8l0-2.1l0.1-1.2l0-0.7l0-2.8l0-0.1l0-2.1l0-2.4l0-1.3l0-1.4l0-1.5l-0.2-1.4l-0.3-1.9l-0.1-1.6l0-1.5l0-1.3l0-1.9l0-2.4l0.1-0.9l0-1.6l0-0.7l0-3.1l0-0.3l0-2.5l0-1.3l0.1-2l0-1.1l0-1.2l0-2.2l0.1-1.7l0-1.1l0-1.1l0-2.3l0-2.7l0.1-0.7l0-1.8l0-1.9l0-0.8l0.1-1.3l0-1.6l0-2l0-1.5l0-1.2l0.1-2.2l0-0.8l0-2.6l0-2l0-1.5l0-0.5l0-2l0-1.4l0-1.1l0.1-3.4l0-1l0-1.3l0-1.6l0-2.7l0-0.5l0-2.6l0-0.8l0-1.9l0-0.7l0-1.6l0-1.7l0.1-2l0-1.9l0-0.8l0-2.6l0-0.1l0-2.5l0-1.1l0-1.9l0-1.3l0-2.6l0-0.8l0-1.1l0-1.7l0-2.5l0.1-1.6l0-1.2l0-2.1l0-0.6l0-2.5l0-1.6l0-1.3l0-1.7l0-2l0-1.6l0-0.7l0-1.1l0-2.5l0.1-1.6l0-2.1l0-0.2l0-3l0-0.7l0-2.1l0-1.5l0-1.8l0-0.9l0-2.1l0-0.8l0-2.6l0.1-1l0-2.7l0-0.3l0-2l0-1.6l0-1l0-3.1l0-2l0-0.2l0-1.6l0-0.2l0-3.6l0-1.9l0.1-1.1l0-1.4l0-2.4l0-1.6l0-0.7l0-1.8l0-1.7l0-0.8l0-2.5l0-1.3l0-1.8l0-2l0-1.1l0.1-1.2l0-2.6l0-1.6l0-0.4l0-1.6l0-2.5l0-1.4l0-1.4l0-1.8l0-2l0-1.8l0 0.2l0-2.9l0-1.1l0.1-1.7l0-1.5l0-1.5l0-1.9l0-0.6l0-2.9l0-1l0-2l0-1.1l0-1.5l0-1.9l0.1-2l0-1.3l0-1.6l0-2.4l0-1.7l0-1l0-1.2l0.1-2.1l0-1.9l0-1.1l0-1.8l0-1.1l0-1.8l0.1-1.7l0-1.3l0-1.4l0-2.6l0.1-1.4l0-1.9l0-2.9l0.1-2.4l0-2.2l0.1-2.8l0-2.6l0-2.1l0.1-2.7l0-2.6l0.1-2.5l0-2.8l0.1-2.3l0.1-2.5l0.1-2.4l0.1-2.4l0.3-3.1l0.4-3l0.6-0.9l1.2 2.7l1.6 1.4l2.2-0.4l2.6-0.5l2.6-0.6l2.5-0.1l2.5-0.4l2.5-0.1l2.5-0.2l2.5-0.3l2.5-0.3l2.5 0.1l2.5-0.1l2.5-0.1l2.5 0.1l2.5-0.2l2.5 0l2.5-0.3l2.5 0.1l2.5 0.1l2.5 0l2.5-0.1l2.5-0.1l2.5 0.2l2.5 0l2.5-0.2l2.5-0.1l2.5 0.1l2.5 0l2.5-0.1l2.5 0.2l2.5-0.2l2.5-0.1l2.5-0.1l2.5 0.1l2.5-0.1l2.5 0.1l2.5 0l2.5-0.4l2.5 0.3l2.5-0.2l2.5 0.1l2.5 0l2.5 0l2.5 0l2.5-0.1l2.5-0.1l2.5 0l2.5-0.1l2.5 0l2.5 0.1l2.5 0l2.5 0.1l2.5-0.3l2.5 0.2l2.5 0.1l2.5 0l2.5-0.2l2.5 0l2.5 0.1l2.5-0.2l2.5 0.1l2.5 0.1l2.5-0.1l2.5 0.1l2.5-0.2l2.5 0.1l2.5-0.2l2.5 0l2.5 0.2l2.5 0l2.5-0.2l2.5 0.1l2.5 0.1l2.5 0l2.5 0l2.5-0.2l2.5 0.1l2.5 0.2l2.5-0.1l2.5 0l2.5-0.1l2.5-0.1l2.5 0l2.5 0.1l2.5 0.1l2.5 0.1l2.5-0.4l2.5 0.3l2.5 0.1l2.5-0.2l2.5-0.1l2.5 0.3l2.5-0.2l2.5 0l2.5-0.1l2.5 0.1l2.5 0l2.5 0.1l2.5-0.1l2.5 0.1l2.5 0l2.5 0.1l2.5-0.2l2.5 0.2l2.5-0.3l2.5 0.2l2.5-0.1l2.5 0.2l2.5 0l2.5-0.1l2.5-0.2l2.5 0l2.5 0l2.5 0l2.5 0l2.5 0.2l2.5-0.1l2.5 0l2.5 0l2.5 0.1l2.5 0.1l2.5-0.3l2.5 0.3l2.5-0.2l2.5 0l2.5 0l2.5-0.1l2.5 0.1l2.5 0l2.5 0.3l2.5 0l2.5-0.2l2.5 0.1l2.5-0.2l2.5 0.2l2.5-0.1l2.5 0.1l2.5-0.1l2.5 0.1l2.5-0.1l2.5 0.1l2.5-0.1l2.5 0.1l2.5-0.2l2.5 0.1l2.5 0.2l2.5-0.2l2.5 0l2.5-0.1l2.5 0l2.5 0l2.5 0.2l2.5-0.1l2.5-0.1l2.5 0l2.5 0.3l2.5-0.1l2.5-0.1l2.5 0.1l2.5 0l2.5-0.1l2.5-0.2l2.5 0.1l2.5-0.1l2.5 0.3l2.5-0.2l2.5 0.2l2.5-0.1l2.5 0l2.5 0.5l2.5-0.5l2.5 0.1l2.5-0.3l2.5 0.3l2.5-0.1l2.5 0.1l2.5-0.1l2.5 0.2l2.5-0.3l2.5 0.1l2.5 0l2.5 0l2.5-0.1l2.5 0.1l2.5 0.1l2.5-0.1l2.5 0.1l2.5 0l2.5-0.1l2.5 0.2l2.5-0.3l2.5 0.2l2.5 0.1l2.5-0.2l2.5 0.1l2.5-0.2l2.5 0.4l2.5-0.4l2.5 0.2l2.5 0.1l2.5-0.1l2.5-0.1l2.5 0l2.5 0l2.5 0.1l2.5 0l2.5 0.1l2.5-0.1l2.5 0l2.5-0.1l2.5 0.1l2.5 0.1l2.5-0.1l2.5 0.2l2.5 0l2.5-0.2l2.5 0.2l2.5-0.3l2.5 0.2l2.5 0.1l2.5-0.3l2.5 0.3l2.5-0.3l2.5 0.1l2.5 0.1l2.5 0l2.5 0.1l2.5 0l2.5-0.1l2.5 0.1l0.2-0.2" fill="none" stroke="#B870E3" stroke-width="2.6" stroke-linejoin="round" />
</g>
<text x="1692.70" y="2891.40" font-family="'Liberation Serif', serif" font-size="46" font-weight="bold" font-style="normal" text-anchor="middle" fill="#000" >200</text>
<text x="1923.75" y="2891.40" font-family="'Liberation Serif', serif" font-size="46" font-weight="bold" font-style="normal" text-anchor="middle" fill="#000" >400</text>
<text x="2154.80" y="2891.40" font-family="'Liberation Serif', serif" font-size="46" font-weight="bold" font-style="normal" text-anchor="middle" fill="#000" >600</text>
<text x="2385.85" y="2891.40" font-family="'Liberation Serif', serif" font-size="46" font-weight="bold" font-style="normal" text-anchor="middle" fill="#000" >800</text>
<text x="1956.40" y="2979.90" font-family="'Liberation Serif', serif" font-size="62.5" font-weight="bold" text-anchor="middle"><tspan font-style="italic">T</tspan>/°C</text>
<line x1="2059.40" y1="2444.20" x2="2137.90" y2="2444.20" stroke="#484848" stroke-width="2.7"/>
<text x="2147.30" y="2457.60" font-family="'Liberation Serif', serif" font-size="45.6" font-weight="normal" font-style="normal" text-anchor="start" fill="#000" >DA2300</text>
<line x1="2059.40" y1="2499.50" x2="2137.90" y2="2499.50" stroke="#FC3535" stroke-width="3"/>
<text x="2147.30" y="2512.90" font-family="'Liberation Serif', serif" font-size="45.6" font-weight="normal" font-style="normal" text-anchor="start" fill="#000" >DA3200</text>
<line x1="2059.40" y1="2555.50" x2="2137.90" y2="2555.50" stroke="#0668EA" stroke-width="3"/>
<text x="2147.30" y="2567.70" font-family="'Liberation Serif', serif" font-size="45.6" font-weight="normal" font-style="normal" text-anchor="start" fill="#000" >DA4700</text>
<line x1="2059.40" y1="2610.40" x2="2137.90" y2="2610.40" stroke="#06AA5A" stroke-width="3"/>
<text x="2147.30" y="2623.00" font-family="'Liberation Serif', serif" font-size="45.6" font-weight="normal" font-style="normal" text-anchor="start" fill="#000" >DA5500</text>
<line x1="2059.40" y1="2665.40" x2="2137.90" y2="2665.40" stroke="#B870E3" stroke-width="3"/>
<text x="2147.30" y="2678.80" font-family="'Liberation Serif', serif" font-size="45.6" font-weight="normal" font-style="normal" text-anchor="start" fill="#000" letter-spacing="-0.35">PPDO/PLA</text>
<rect x="1334.1" y="2024.1" width="97.8" height="97.7" fill="#ff2e00"/>
<text x="1386.50" y="2095.20" font-family="'Liberation Sans', sans-serif" font-size="76" font-weight="normal" font-style="normal" text-anchor="middle" fill="#fff" >f</text>
</g>
</svg>
</body></html>
